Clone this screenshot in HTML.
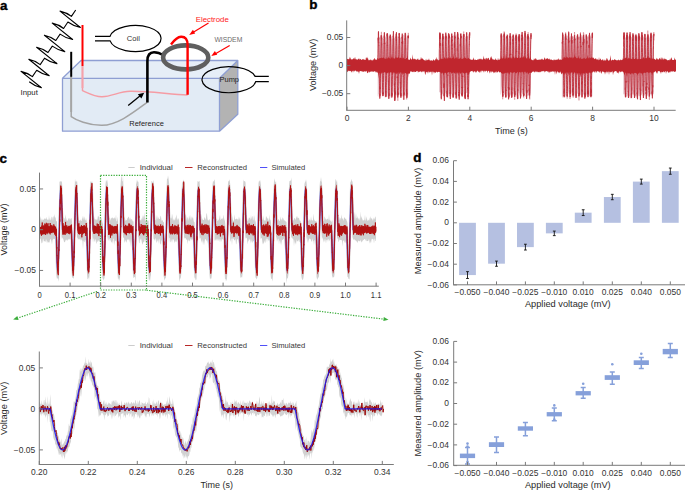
<!DOCTYPE html>
<html><head><meta charset="utf-8"><style>
html,body{margin:0;padding:0;background:#fff;width:685px;height:490px;overflow:hidden}
svg{display:block}
text{font-family:"Liberation Sans", sans-serif}
</style></head><body>
<svg width="685" height="490" viewBox="0 0 685 490">
<rect width="685" height="490" fill="#fff"/>
<text x="-0.1" y="9.9" font-size="12" fill="#000" text-anchor="start" textLength="7.47" lengthAdjust="spacingAndGlyphs" font-weight="bold" stroke="#000" stroke-width="0.35">a</text>
<polygon points="62.5,78.3 81,60.5 237.8,60.5 219.5,78.3" fill="#e6eef7" stroke="none"/>
<rect x="62.5" y="78.3" width="157" height="52.9" fill="#e2ebf5"/>
<polygon points="219.5,78.3 237.8,60.5 237.8,114.2 219.5,131.2" fill="#b3b3b3"/>
<path d="M62.5,78.3 L81,60.5 L237.8,60.5 L237.8,114.2 L219.5,131.2 L62.5,131.2 Z M62.5,78.3 L219.5,78.3 L237.8,60.5 M219.5,78.3 L219.5,131.2" fill="none" stroke="#8f9fd3" stroke-width="1.3" stroke-linejoin="round"/>
<path d="M71.2,76.8 L71.2,116.6 C76,120 88,125.5 102,125.3 C118,125 134,112 147.4,102.2" fill="none" stroke="#a3a3a3" stroke-width="1.45"/>
<path d="M82.5,66 L82.5,90.6 C88,93 95,96.8 102,96.7 C112,96.5 119,91.5 130,91.3 C150,91 170,94.5 187.6,95" fill="none" stroke="#f59ca4" stroke-width="1.45"/>
<line x1="71.2" y1="76.8" x2="71.2" y2="112" stroke="#a5a5a5" stroke-width="1.9"/>
<line x1="82.5" y1="66" x2="82.5" y2="88" stroke="#f6a2aa" stroke-width="1.9"/>
<line x1="71.2" y1="51.8" x2="71.2" y2="76.8" stroke="#000" stroke-width="2"/>
<line x1="82.5" y1="25" x2="82.5" y2="66" stroke="#ff0000" stroke-width="2"/>
<path d="M147.4,102.5 L147.4,61 C147.4,55 149.5,52.2 154,52.2 C157.5,52.2 160.5,53.4 164,55.4" fill="none" stroke="#000" stroke-width="2.6"/>
<ellipse cx="185.7" cy="57.4" rx="22.6" ry="12" fill="none" stroke="#5f5f5f" stroke-width="4.6"/>
<path d="M171,44.5 C174,40.5 177,37 181,36.8 C185.5,36.6 187.6,39.5 187.6,45 L187.6,94.8" fill="none" stroke="#ff0000" stroke-width="2.4"/>
<line x1="128.2" y1="105.4" x2="140.5" y2="95.6" stroke="#000" stroke-width="1.3"/>
<polygon points="144.2,92.7 137.8,94.3 141.4,98.6" fill="#000"/>
<line x1="208.5" y1="22.9" x2="192.5" y2="32.8" stroke="#ff0000" stroke-width="1.2"/>
<polygon points="189.2,34.9 192.9,29.8 195.2,33.5" fill="#ff0000"/>
<line x1="229.7" y1="45.5" x2="214.6" y2="54.2" stroke="#ff0000" stroke-width="1.2"/>
<polygon points="211.3,56.1 214.9,51.0 217.2,54.8" fill="#ff0000"/>
<path d="M95,36.4 L110,36.4 A25.7,13.05 0 1 1 110.1,40.9 L95,40.9" fill="none" stroke="#000" stroke-width="1.2"/>
<path d="M268.8,76.4 L255.1,76.4 A27,12.95 0 1 0 255.7,81.6 L268.8,81.6" fill="none" stroke="#000" stroke-width="1.2"/>
<path d="M75.7,10 L71.4,16.4 Q66.15,12.4 60,11.1 L80.4,27.5 Q73.7,26.25 67.9,22.05 L67.9,22.05 L63.6,28.45 Q58.35,24.45 52.2,23.15 L72.6,39.55 Q65.9,38.3 60.1,34.1 L60.1,34.1 L55.8,40.5 Q50.55,36.5 44.4,35.2 L64.8,51.6 Q58.1,50.35 52.3,46.15 L52.3,46.15 L48,52.55 Q42.75,48.55 36.6,47.25 L57,63.65 Q50.3,62.4 44.5,58.2 L44.5,58.2 L40.2,64.6 Q34.95,60.6 28.8,59.3 L49.2,75.7 Q42.5,74.45 36.7,70.25 L36.7,70.25 L32.4,76.65 Q27.15,72.65 21,71.35 L41.4,87.75 Q34.78,86.17 29.2,81.7" fill="none" stroke="#000" stroke-width="1.1" stroke-linejoin="round"/>
<text x="20.6" y="95" font-size="7.6" fill="#222" text-anchor="start" textLength="17.2" lengthAdjust="spacingAndGlyphs">Input</text>
<text x="126.8" y="41.1" font-size="7.6" fill="#333" text-anchor="start" textLength="13.1" lengthAdjust="spacingAndGlyphs">Coil</text>
<text x="219.5" y="82.1" font-size="7.6" fill="#222" text-anchor="start" textLength="19.5" lengthAdjust="spacingAndGlyphs">Pump</text>
<text x="129.3" y="125.8" font-size="7.6" fill="#222" text-anchor="start" textLength="34.5" lengthAdjust="spacingAndGlyphs">Reference</text>
<text x="195.7" y="21.9" font-size="7.6" fill="#ff2020" text-anchor="start" textLength="33.1" lengthAdjust="spacingAndGlyphs">Electrode</text>
<text x="214.4" y="42.1" font-size="7.6" fill="#6a6a6a" text-anchor="start" textLength="27.9" lengthAdjust="spacingAndGlyphs">WISDEM</text>
<text x="309.3" y="9.2" font-size="12" fill="#000" text-anchor="start" textLength="8.21" lengthAdjust="spacingAndGlyphs" font-weight="bold" stroke="#000" stroke-width="0.35">b</text>
<polygon points="377.7,37.84 378.2,36.99 378.7,35.8 379.2,36.65 379.7,37.88 380.2,35.05 380.7,37.29 381.2,37.22 381.7,38.7 382.2,37.7 382.7,35.28 383.2,39.1 383.7,36.5 384.2,35.17 384.7,37.01 385.2,35.97 385.7,38.26 386.2,34.17 386.7,34.52 387.2,35.98 387.7,39.34 388.2,38.14 388.7,34.73 389.2,33.49 389.7,35.88 390.2,34.27 390.7,37.4 391.2,36.7 391.7,36.37 392.2,35.66 392.7,38.95 393.2,34.79 393.7,34.15 394.2,38.31 394.7,38.66 395.2,35.78 395.7,37.48 396.2,40.37 396.7,35.01 397.2,36.11 397.7,37.18 398.2,32.81 398.7,36.14 399.2,37.65 399.7,36.21 400.2,38.13 400.7,37.66 401.2,35.72 401.7,37.31 402.2,37.14 402.7,33.56 403.2,34.93 403.7,35.02 404.2,35.48 404.7,35.56 405.2,33.92 405.7,36.41 406.2,33.25 406.7,37.98 407.2,36.81 407.7,38.7 408.2,36.96 408.2,96.11 407.7,92.18 407.2,95.22 406.7,93.88 406.2,96.5 405.7,95.31 405.2,96.08 404.7,95.62 404.2,94.44 403.7,93.53 403.2,94.67 402.7,96.43 402.2,96.8 401.7,92.49 401.2,96.87 400.7,93.28 400.2,94.87 399.7,94.95 399.2,94.32 398.7,95.7 398.2,96.58 397.7,94.72 397.2,97.5 396.7,95.82 396.2,94.8 395.7,94.25 395.2,98.05 394.7,94.59 394.2,94.61 393.7,91.1 393.2,93.59 392.7,98.36 392.2,92.71 391.7,95.74 391.2,93.86 390.7,98.2 390.2,95.39 389.7,96.6 389.2,94.32 388.7,93.25 388.2,97.74 387.7,96.58 387.2,92.87 386.7,94.21 386.2,95.84 385.7,97.45 385.2,92.56 384.7,97.98 384.2,92.49 383.7,93.12 383.2,93.72 382.7,94.86 382.2,95.01 381.7,91.9 381.2,94.93 380.7,92.82 380.2,93.58 379.7,94.22 379.2,94.83 378.7,93.71 378.2,97.27 377.7,95.7" fill="#e6c6ce"/>
<polygon points="439.1,36.12 439.6,37.08 440.1,34.42 440.6,35.21 441.1,41.12 441.6,36.31 442.1,38.83 442.6,34.58 443.1,32.18 443.6,37.25 444.1,36.25 444.6,36.8 445.1,35.78 445.6,35.29 446.1,34.21 446.6,38.04 447.1,33.73 447.6,37.95 448.1,35.91 448.6,34.42 449.1,35.17 449.6,37.96 450.1,37.56 450.6,37.16 451.1,36.46 451.6,34.44 452.1,38.55 452.6,35.59 453.1,35.35 453.6,35.43 454.1,35.59 454.6,33.82 455.1,35.55 455.6,34.93 456.1,35.43 456.6,33.35 457.1,39.58 457.6,34.21 458.1,36.82 458.6,36.85 459.1,38.01 459.6,39.53 460.1,37.02 460.6,37.53 461.1,35.54 461.6,38.86 462.1,33.96 462.6,35.92 463.1,36.79 463.6,37.57 464.1,37.7 464.6,38.28 465.1,37.29 465.6,36.37 466.1,36.68 466.6,38.76 467.1,36.82 467.6,37.88 468.1,36.11 468.6,33.23 469.1,35.32 469.6,36.9 469.6,94.1 469.1,93.61 468.6,95.38 468.1,98.37 467.6,96.85 467.1,93.46 466.6,93.05 466.1,92.78 465.6,98 465.1,93.61 464.6,93.64 464.1,94.98 463.6,94.56 463.1,91.61 462.6,94.6 462.1,93.47 461.6,96.45 461.1,93.83 460.6,93.45 460.1,94.62 459.6,92.45 459.1,96.53 458.6,96.48 458.1,98.67 457.6,97.32 457.1,91.4 456.6,95.99 456.1,95.53 455.6,95.08 455.1,96.3 454.6,95.08 454.1,93.85 453.6,95.38 453.1,95.47 452.6,91.61 452.1,98.08 451.6,93.66 451.1,94.43 450.6,94.36 450.1,92.97 449.6,95.25 449.1,96.43 448.6,93.15 448.1,99.16 447.6,95.62 447.1,92.45 446.6,92.48 446.1,92.91 445.6,93.09 445.1,96.3 444.6,93.46 444.1,94.25 443.6,93.67 443.1,97.19 442.6,94.98 442.1,93.78 441.6,94.93 441.1,93.53 440.6,96.05 440.1,91.98 439.6,92.44 439.1,92.08" fill="#e6c6ce"/>
<polygon points="500.5,34.58 501,37.91 501.5,33.93 502,33.99 502.5,36.26 503,35.29 503.5,35.11 504,33.76 504.5,38.15 505,34.38 505.5,37.01 506,37.67 506.5,36.2 507,36.74 507.5,38.04 508,39.07 508.5,37.96 509,33.93 509.5,33.07 510,35.28 510.5,34.38 511,37.25 511.5,36.51 512,35.9 512.5,38.2 513,38.05 513.5,36.21 514,36.92 514.5,38.17 515,35.72 515.5,36.82 516,34.65 516.5,36.38 517,36.88 517.5,36.16 518,36.67 518.5,37.5 519,37.05 519.5,35.11 520,35.29 520.5,34.21 521,39.23 521.5,37.04 522,37.07 522.5,36.09 523,37.14 523.5,37.24 524,35.06 524.5,36.08 525,38.34 525.5,34.13 526,34.7 526.5,37.34 527,34.97 527.5,37.62 528,34.48 528.5,36.74 529,37.73 529.5,37.01 530,37.67 530.5,36.05 531,36.08 531,94.05 530.5,93.03 530,97.26 529.5,95.94 529,95.18 528.5,95.82 528,95.86 527.5,96.46 527,94.53 526.5,93.82 526,89 525.5,93.35 525,93.82 524.5,96.3 524,99.59 523.5,96.77 523,96.34 522.5,92.37 522,94.27 521.5,92.39 521,92.85 520.5,94.42 520,95.48 519.5,95.51 519,92.57 518.5,92.44 518,94.54 517.5,95.75 517,95.49 516.5,98.79 516,94.15 515.5,95.72 515,96.66 514.5,97.29 514,94.33 513.5,94.35 513,97.62 512.5,93.51 512,93.69 511.5,95.23 511,96.22 510.5,95.6 510,94.54 509.5,94.95 509,94.4 508.5,96.44 508,94.8 507.5,96.83 507,93.27 506.5,93.84 506,93.9 505.5,94.6 505,94.52 504.5,94.17 504,95.29 503.5,96.73 503,95.24 502.5,91.63 502,94.98 501.5,88.65 501,93.89 500.5,94.88" fill="#e6c6ce"/>
<polygon points="561.9,38.72 562.4,33.65 562.9,34.19 563.4,35.11 563.9,38.4 564.4,36.08 564.9,36.77 565.4,36.24 565.9,36.69 566.4,35.5 566.9,37.04 567.4,34.94 567.9,35.97 568.4,36.87 568.9,36.56 569.4,37.12 569.9,35 570.4,36.83 570.9,35.88 571.4,37.04 571.9,38.88 572.4,34.85 572.9,38.16 573.4,35.23 573.9,35.67 574.4,39.17 574.9,37.97 575.4,37.24 575.9,37.76 576.4,38.37 576.9,35.13 577.4,36.78 577.9,35.73 578.4,37.1 578.9,35.86 579.4,37.64 579.9,36.42 580.4,35.4 580.9,36.3 581.4,37.15 581.9,38.21 582.4,36.09 582.9,35.79 583.4,36.81 583.9,37.67 584.4,35.46 584.9,32.19 585.4,36.89 585.9,35.81 586.4,35.74 586.9,40.7 587.4,36.17 587.9,37.57 588.4,34.04 588.9,36.8 589.4,37.69 589.9,36.74 590.4,36.1 590.9,37.32 591.4,36.46 591.9,38.66 592.4,36.76 592.4,96.94 591.9,95.02 591.4,96.3 590.9,95.46 590.4,96.42 589.9,96.54 589.4,95.7 588.9,94.89 588.4,95.08 587.9,95.6 587.4,96.72 586.9,94.03 586.4,96.02 585.9,94.85 585.4,94.85 584.9,94.73 584.4,96.4 583.9,93.84 583.4,94.88 582.9,93.89 582.4,93.5 581.9,91.64 581.4,95.47 580.9,94.7 580.4,95.8 579.9,93.06 579.4,92.38 578.9,94.66 578.4,93.55 577.9,93.43 577.4,93.83 576.9,93.61 576.4,96.4 575.9,95.53 575.4,95.57 574.9,96.57 574.4,92.79 573.9,97.98 573.4,97.64 572.9,94.99 572.4,96.29 571.9,95.98 571.4,92 570.9,94.83 570.4,94.94 569.9,91.41 569.4,93.69 568.9,91.28 568.4,93.5 567.9,95.16 567.4,95.33 566.9,95.13 566.4,95.26 565.9,94.63 565.4,96.65 564.9,97.63 564.4,96.54 563.9,96.82 563.4,95.28 562.9,96.02 562.4,98.14 561.9,96.13" fill="#e6c6ce"/>
<polygon points="623.3,36.42 623.8,39.87 624.3,34.12 624.8,36.19 625.3,38.35 625.8,36.71 626.3,37.87 626.8,32.84 627.3,35.54 627.8,39.02 628.3,35.46 628.8,37.05 629.3,33.14 629.8,38.15 630.3,40.16 630.8,36.26 631.3,36.96 631.8,37.08 632.3,39.99 632.8,35.66 633.3,33.55 633.8,39.59 634.3,34.4 634.8,37.33 635.3,32.42 635.8,35.64 636.3,36.69 636.8,34.51 637.3,35.49 637.8,37.37 638.3,35.18 638.8,37.24 639.3,39.39 639.8,32.95 640.3,36.97 640.8,37.4 641.3,35.8 641.8,39.01 642.3,38.66 642.8,37.22 643.3,37.25 643.8,36.25 644.3,34.48 644.8,37.18 645.3,35.55 645.8,35.36 646.3,38.2 646.8,35.99 647.3,37.97 647.8,34.58 648.3,35.61 648.8,36.35 649.3,38.63 649.8,36.18 650.3,37.67 650.8,35.19 651.3,36.58 651.8,37.75 652.3,34.82 652.8,35.16 653.3,37.38 653.8,34.42 653.8,92.95 653.3,94.56 652.8,95.02 652.3,92.72 651.8,96.24 651.3,95.01 650.8,95.51 650.3,93.8 649.8,95.45 649.3,96.69 648.8,96.51 648.3,92.86 647.8,93.74 647.3,96.17 646.8,95.06 646.3,94.28 645.8,92.76 645.3,95.9 644.8,95.85 644.3,95.2 643.8,92.27 643.3,97.81 642.8,92.95 642.3,92.18 641.8,94.14 641.3,95.56 640.8,93.44 640.3,94.52 639.8,95.43 639.3,92.58 638.8,95.48 638.3,96.61 637.8,94.23 637.3,93.57 636.8,96.4 636.3,94.75 635.8,97.68 635.3,96.47 634.8,96.17 634.3,96.2 633.8,96.51 633.3,89.78 632.8,94.31 632.3,94.13 631.8,97.03 631.3,92.8 630.8,95.23 630.3,98.9 629.8,95.32 629.3,96.31 628.8,95.47 628.3,94.75 627.8,97.54 627.3,94.39 626.8,97.35 626.3,97.4 625.8,94.55 625.3,94.08 624.8,93.56 624.3,95.03 623.8,94.3 623.3,94.32" fill="#e6c6ce"/>
<polyline points="377.7,66.39 377.76,59.24 377.82,57.75 377.88,54.54 377.95,53.23 378.01,48.17 378.07,43.01 378.13,40.48 378.19,38.18 378.25,39.52 378.31,39.19 378.38,36.43 378.44,33.03 378.5,31.47 378.56,32.34 378.62,39.54 378.68,37.93 378.74,41.23 378.81,45.67 378.87,45.25 378.93,50.44 378.99,52.52 379.05,56.14 379.11,60.23 379.17,63.39 379.24,67.53 379.3,71.58 379.36,75.25 379.42,81.08 379.48,83.84 379.54,85.64 379.6,89.04 379.66,90.87 379.73,92.36 379.79,98.54 379.85,97.66 379.91,95.9 379.97,95.99 380.03,95.25 380.09,95 380.16,92.88 380.22,87.62 380.28,87.87 380.34,88.66 380.4,82.16 380.46,78.79 380.52,77.01 380.59,71.41 380.65,66.66 380.71,64.51 380.77,57.54 380.83,57.06 380.89,53.3 380.95,48.81 381.02,47.02 381.08,41.61 381.14,36.26 381.2,35.6 381.26,35.23 381.32,36.84 381.38,36.7 381.45,38.66 381.51,36.68 381.57,39.32 381.63,37.95 381.69,40.21 381.75,41.6 381.81,45.66 381.88,48.29 381.94,50.59 382,54.51 382.06,57.4 382.12,61.18 382.18,67.11 382.24,69.85 382.31,70.44 382.37,79.4 382.43,82.57 382.49,85.02 382.55,87.6 382.61,89.1 382.67,89.25 382.73,92.2 382.8,94.13 382.86,93.02 382.92,96.12 382.98,96.07 383.04,92.5 383.1,93.61 383.16,90.61 383.23,88.59 383.29,85.88 383.35,82.45 383.41,82.15 383.47,75.62 383.53,73.58 383.59,69.08 383.66,65.58 383.72,60.29 383.78,58.14 383.84,54.43 383.9,51.29 383.96,49.24 384.02,44.37 384.09,42.85 384.15,39.19 384.21,39.57 384.27,35.51 384.33,37.89 384.39,32.35 384.45,35.53 384.52,35.32 384.58,39.59 384.64,42.71 384.7,43.95 384.76,42.69 384.82,45.46 384.88,49.08 384.95,52.95 385.01,57.02 385.07,61.12 385.13,65.24 385.19,68.5 385.25,74.15 385.31,75.67 385.38,78.19 385.44,81.44 385.5,84.01 385.56,89.03 385.62,92.28 385.68,94.15 385.74,93.96 385.8,94.59 385.87,96.77 385.93,92.83 385.99,92.17 386.05,91.83 386.11,90.89 386.17,90.52 386.23,87.32 386.3,85.29 386.36,82.72 386.42,80.9 386.48,75.51 386.54,71.79 386.6,68.23 386.66,64.63 386.73,58.94 386.79,56.9 386.85,52.25 386.91,48.55 386.97,43.31 387.03,41.24 387.09,40.74 387.16,40.69 387.22,33.31 387.28,35.83 387.34,34.08 387.4,37.19 387.46,33.87 387.52,37.13 387.59,36.66 387.65,37.93 387.71,41.74 387.77,46.55 387.83,48.4 387.89,51.59 387.95,54.47 388.02,59.79 388.08,60.5 388.14,64.49 388.2,70.01 388.26,74.33 388.32,77.72 388.38,81.48 388.44,80.92 388.51,85.93 388.57,90.68 388.63,91.66 388.69,94.77 388.75,97.18 388.81,98.58 388.87,97.2 388.94,94.28 389,95.78 389.06,95.79 389.12,89.32 389.18,89.97 389.24,89.39 389.3,86.33 389.37,81 389.43,76.46 389.49,72.75 389.55,67.99 389.61,68.28 389.67,62.27 389.73,58.51 389.8,55.26 389.86,51.27 389.92,49.19 389.98,43.75 390.04,43.5 390.1,36.16 390.16,36.74 390.23,37.82 390.29,37.54 390.35,34.89 390.41,38.14 390.47,36.98 390.53,38.3 390.59,38.45 390.66,42.2 390.72,45.28 390.78,47.18 390.84,50.96 390.9,53.75 390.96,55.99 391.02,59 391.09,65.89 391.15,66 391.21,71.71 391.27,75.56 391.33,76.37 391.39,81.18 391.45,87.09 391.51,87.67 391.58,92.26 391.64,94 391.7,92.67 391.76,95.9 391.82,94.86 391.88,97.11 391.94,93.31 392.01,95.1 392.07,92.58 392.13,91.17 392.19,89.11 392.25,86.47 392.31,84.2 392.37,79.73 392.44,75.56 392.5,71.57 392.56,67.44 392.62,64.04 392.68,60.09 392.74,58.53 392.8,53.69 392.87,51.39 392.93,45.58 392.99,45.77 393.05,41.05 393.11,38.46 393.17,36.42 393.23,36.88 393.3,34.54 393.36,34.49 393.42,31.21 393.48,35.34 393.54,36.28 393.6,40.64 393.66,40.65 393.73,45.3 393.79,47.04 393.85,51.5 393.91,53.58 393.97,57.64 394.03,60.4 394.09,65.66 394.16,68.24 394.22,74.77 394.28,75.35 394.34,80.39 394.4,85.29 394.46,83.61 394.52,87.54 394.59,94.99 394.65,90.58 394.71,100.7 394.77,89.95 394.83,100.58 394.89,99.49 394.95,98.44 395.01,91.68 395.08,94.19 395.14,88.76 395.2,89.18 395.26,85.54 395.32,81.64 395.38,77.98 395.44,74.02 395.51,69.38 395.57,67.05 395.63,62.91 395.69,58.83 395.75,54.48 395.81,50.54 395.87,47.77 395.94,45.74 396,43.91 396.06,40.78 396.12,37.58 396.18,36.4 396.24,37.94 396.3,33.75 396.37,35.9 396.43,32.29 396.49,40.48 396.55,38.85 396.61,41.29 396.67,43.42 396.73,45.36 396.8,46.33 396.86,49.4 396.92,56.72 396.98,61.46 397.04,62.37 397.1,65.71 397.16,72.17 397.23,78.11 397.29,76.52 397.35,81.77 397.41,85.56 397.47,88.57 397.53,90.67 397.59,94.87 397.66,91.88 397.72,93.17 397.78,97.46 397.84,93.67 397.9,94.94 397.96,93.04 398.02,93.83 398.08,90.24 398.15,90.08 398.21,86.35 398.27,83.84 398.33,78.96 398.39,76.84 398.45,71.68 398.51,69.73 398.58,65.15 398.64,61.09 398.7,54.66 398.76,52.63 398.82,49.53 398.88,45.95 398.94,43.57 399.01,38.72 399.07,36.93 399.13,37.45 399.19,32.97 399.25,34.66 399.31,34.1 399.37,33.77 399.44,37.77 399.5,39.53 399.56,38.34 399.62,43.25 399.68,45.41 399.74,45.83 399.8,49.72 399.87,56.48 399.93,57.4 399.99,62.36 400.05,64.85 400.11,68.74 400.17,73.87 400.23,77.65 400.3,83.18 400.36,82.58 400.42,88.32 400.48,87.71 400.54,89.7 400.6,91.49 400.66,94.11 400.73,95.84 400.79,93.1 400.85,95.42 400.91,97.76 400.97,91.98 401.03,90.98 401.09,90.68 401.15,88.5 401.22,85.82 401.28,79.78 401.34,77.13 401.4,74.7 401.46,70.94 401.52,69.45 401.58,63.21 401.65,59.4 401.71,57.47 401.77,51.48 401.83,46.86 401.89,46.06 401.95,41.86 402.01,43.29 402.08,39.82 402.14,37.27 402.2,38.46 402.26,33.63 402.32,35.43 402.38,36.11 402.44,37.73 402.51,37.55 402.57,43.88 402.63,41.08 402.69,43.99 402.75,48.1 402.81,50.51 402.87,53.89 402.94,60.41 403,64.42 403.06,68.91 403.12,69.73 403.18,74.4 403.24,77.78 403.3,83.48 403.37,85.92 403.43,87.88 403.49,89.34 403.55,92.4 403.61,93.65 403.67,94.21 403.73,93.58 403.8,99.75 403.86,97.71 403.92,92.73 403.98,94.83 404.04,90.7 404.1,90.37 404.16,87.33 404.22,83.01 404.29,80.45 404.35,76.21 404.41,74.07 404.47,70.19 404.53,65.05 404.59,62.38 404.65,58.64 404.72,54.79 404.78,50.04 404.84,44.52 404.9,42.84 404.96,38.82 405.02,38.85 405.08,39 405.15,36.17 405.21,32.85 405.27,32.9 405.33,33.94 405.39,35.21 405.45,37.2 405.51,37.42 405.58,40.08 405.64,44.33 405.7,46.94 405.76,49.18 405.82,53.76 405.88,58.25 405.94,61.58 406.01,66.02 406.07,67.82 406.13,75.5 406.19,76.74 406.25,79.04 406.31,83.68 406.37,91.37 406.44,90.41 406.5,90.63 406.56,92.63 406.62,89.37 406.68,95.15 406.74,96.64 406.8,95.51 406.87,92.87 406.93,97.74 406.99,92.71 407.05,91.08 407.11,84.43 407.17,84.52 407.23,81.61 407.29,80.76 407.36,74.46 407.42,71.2 407.48,67.73 407.54,64.97 407.6,59.94 407.66,55.98 407.72,51.31 407.79,50.35 407.85,47.04 407.91,44.42 407.97,39.78 408.03,38.07 408.09,37.72 408.15,35.58 408.22,38.12 408.28,35.64 408.34,38.19" fill="none" stroke="#bf2f3b" stroke-width="0.85" stroke-linejoin="round"/>
<polyline points="378.07,43.07 378.13,39.23 378.19,41.34 378.25,37.36 378.31,38.71 378.38,31.69 378.44,34.69 378.5,32.52 378.56,37.87 378.62,37.95 378.68,37.53 378.74,42.97 378.81,41.91 378.87,46.3 378.93,49.23 378.99,52.11 379.05,56.04 379.11,58.44 379.17,64.19 379.24,66.96 379.3,73.74 379.36,75.67 379.42,80.84 379.48,84.07 379.54,86.67 379.6,89.24 379.66,85.44 379.73,96.4 379.79,94 379.85,96.41 379.91,94.12 379.97,94 380.03,93.9 380.09,95.75 380.16,94.11 380.22,88.73 380.28,87.64 380.34,87.11 380.4,83.21 380.46,80.24 380.52,74.48 380.59,71.95 380.65,66.59 380.71,65.97 380.77,62.45 380.83,56.85 380.89,53.22 380.95,47.66 381.02,46.41 381.08,45.14 381.14,39.14 381.2,37.77 381.26,35.16 381.32,34.53 381.38,31.83 381.45,38.32 381.51,36.76 381.57,35.45 381.63,38.74 381.69,41.2 381.75,45.48 381.81,43.68 381.88,46.56 381.94,50.17 382,53.47 382.06,58.44 382.12,61.06 382.18,64.71 382.24,70.47 382.31,74.82 382.37,78.28 382.43,79.76 382.49,82.47 382.55,87.05 382.61,88.51 382.67,93.96 382.73,93.34 382.8,94.23 382.86,94.6 382.92,96.01 382.98,95.5 383.04,94.59 383.1,92.47 383.16,95.34 383.23,87.9 383.29,88.92 383.35,83.95 383.41,82.87 383.47,78.96 383.53,72.84 383.59,70.24 383.66,65.22 383.72,61.57 383.78,58.29 383.84,55.23 383.9,48.63 383.96,45.07 384.02,43.11 384.09,43.92 384.15,40.08 384.21,40.23 384.27,37.59 384.33,36.2 384.39,32.96 384.45,37.24 384.52,35.06 384.58,38.58 384.64,37.51 384.7,41.84 384.76,42.15 384.82,50.37 384.88,50.2 384.95,50.45 385.01,57.33 385.07,60.43 385.13,64.91 385.19,68.34 385.25,70.84 385.31,76.32 385.38,79.68 385.44,86.8 385.5,85.59 385.56,89.52 385.62,93.01 385.68,90.97 385.74,97.25 385.8,94.96 385.87,96.17 385.93,97.03 385.99,92.98 386.05,90.77 386.11,95.56 386.17,91.61 386.23,90.67 386.3,88.34 386.36,81.38 386.42,80.03 386.48,75.49 386.54,73.1 386.6,67.73 386.66,64.51 386.73,59.21 386.79,57.94 386.85,53 386.91,48.93 386.97,45.21 387.03,45.84 387.09,41.1 387.16,37.57 387.22,38.49 387.28,37.85 387.34,33.16 387.4,35.62 387.46,35.99 387.52,38.57 387.59,35.45 387.65,38.86 387.71,45.73 387.77,45.32 387.83,46.25 387.89,49.17 387.95,56.25 388.02,58.34 388.08,62.1 388.14,65.21 388.2,70.07 388.26,74.22 388.32,77.5 388.38,83.45 388.44,83.71 388.51,85.84 388.57,90.06 388.63,92.06 388.69,94.71 388.75,96.64 388.81,98.92 388.87,96.96 388.94,95.31 389,94.24 389.06,93.03 389.12,94.44 389.18,92.44 389.24,89.62 389.3,84.71 389.37,78.82 389.43,78.6 389.49,74.32 389.55,69.34 389.61,66.12 389.67,61.69 389.73,57.47 389.8,55.83 389.86,50.69 389.92,48.06 389.98,45.88 390.04,39.51 390.1,37.34 390.16,37.61 390.23,40.07 390.29,36.91 390.35,34.48 390.41,35.7 390.47,36.84 390.53,38.81 390.59,40.81 390.66,39.6 390.72,42.68 390.78,45.04 390.84,47.88 390.9,50.72 390.96,55.2 391.02,59.86 391.09,65 391.15,67.45 391.21,71.72 391.27,75.74 391.33,79.38 391.39,82.57 391.45,83.94 391.51,88.03 391.58,90.88 391.64,95.56 391.7,98.09 391.76,97.59 391.82,97.78 391.88,95.84 391.94,94.6 392.01,95.06 392.07,92.56 392.13,92.2 392.19,88.42 392.25,85.69 392.31,83.66 392.37,79.37 392.44,73.72 392.5,74.27 392.56,67.05 392.62,63.05 392.68,60.53 392.74,56.26 392.8,54.19 392.87,48.53 392.93,45.34 392.99,43.6 393.05,39.38 393.11,39.79 393.17,38.21 393.23,35.99 393.3,34.54 393.36,35.55 393.42,37.1 393.48,34.45 393.54,35.37 393.6,39.43 393.66,37.7 393.73,45.98 393.79,48.68 393.85,50.09 393.91,56.57 393.97,59.03 394.03,63.13 394.09,66.78 394.16,69.55 394.22,73.32 394.28,77.12 394.34,79.88 394.4,83.91 394.46,85.78 394.52,89.44 394.59,89.53 394.65,93.88 394.71,98.54 394.77,92.04 394.83,97.88 394.89,93.88 394.95,93.89 395.01,94.26 395.08,94.74 395.14,90.66 395.2,86.96 395.26,85.02 395.32,81.42 395.38,78.35 395.44,73.74 395.51,71.56 395.57,66.65 395.63,64.21 395.69,59.33 395.75,53.94 395.81,51.46 395.87,49.82 395.94,46.3 396,42.5 396.06,37.93 396.12,38.38 396.18,41.1 396.24,34.55 396.3,38.01 396.37,35.93 396.43,34.01 396.49,37.55 396.55,37.88 396.61,41.29 396.67,42.38 396.73,45.86 396.8,48.68 396.86,52.48 396.92,58.16 396.98,60.57 397.04,63.41 397.1,65.6 397.16,70.51 397.23,73.59 397.29,80.2 397.35,80.71 397.41,87.16 397.47,87.83 397.53,90.51 397.59,91.9 397.66,93.94 397.72,90.19 397.78,96.05 397.84,100.8 397.9,92.62 397.96,95.29 398.02,92.92 398.08,88.07 398.15,90.16 398.21,87.16 398.27,83.93 398.33,79.74 398.39,75.88 398.45,70.63 398.51,68.17 398.58,64.85 398.64,59.54 398.7,57.58 398.76,55.54 398.82,46.85 398.88,46.9 398.94,45.52 399.01,43.97 399.07,42.05 399.13,38.41 399.19,36.82 399.25,37.19 399.31,35.56 399.37,33.98 399.44,37.52 399.5,39.03 399.56,40.03 399.62,36.72 399.68,42.08 399.74,46.38 399.8,53.26 399.87,54.44 399.93,58.67 399.99,60.75 400.05,65.6 400.11,69.31 400.17,73.36 400.23,77.94 400.3,82.54 400.36,82.21 400.42,87.89 400.48,93.77 400.54,90.21 400.6,93.49 400.66,96.21 400.73,94.24 400.79,94.35 400.85,93.42 400.91,96.06 400.97,94.71 401.03,96.6 401.09,90.04 401.15,90.23 401.22,85.31 401.28,82.01 401.34,78.37 401.4,74.19 401.46,69.92 401.52,69.73 401.58,63.34 401.65,56.58 401.71,54.75 401.77,51.02 401.83,48.53 401.89,48.66 401.95,43.91 402.01,39.08 402.08,37.58 402.14,36.84 402.2,36.7 402.26,35.08 402.32,39.78 402.38,36.22 402.44,36.45 402.51,36.63 402.57,40.61 402.63,40.42 402.69,47.92 402.75,50.97 402.81,54.7 402.87,54.22 402.94,59.64 403,60.48 403.06,66.89 403.12,70.99 403.18,76.88 403.24,76.1 403.3,81.51 403.37,84.8 403.43,90.78 403.49,89.7 403.55,91.39 403.61,94.54 403.67,96.16 403.73,95.78 403.8,95.42 403.86,96.02 403.92,91.92 403.98,92.06 404.04,92.94 404.1,90.36 404.16,89.23 404.22,84.12 404.29,81.04 404.35,76 404.41,73.86 404.47,68.82 404.53,67.54 404.59,61.62 404.65,56.08 404.72,52.38 404.78,50.61 404.84,45.39 404.9,41.86 404.96,40.71 405.02,38.74 405.08,40.03 405.15,38.39 405.21,33.38 405.27,34.71 405.33,34.2 405.39,40.25 405.45,35.99 405.51,34.88 405.58,37.65 405.64,44.56 405.7,49.59 405.76,48.41 405.82,53.56 405.88,56.16 405.94,61.03 406.01,62.36 406.07,69.09 406.13,71.41 406.19,78.81 406.25,80.2 406.31,82.81 406.37,85.78 406.44,88.46 406.5,93.75 406.56,89 406.62,97.56 406.68,99.44 406.74,96.72 406.8,98.2 406.87,94.61 406.93,91.6 406.99,93.72 407.05,88.95 407.11,88.94 407.17,87.78 407.23,83.89 407.29,80.91 407.36,76.6 407.42,71.21 407.48,67.78 407.54,62.63 407.6,62.47 407.66,56.67 407.72,54.44 407.79,45.61 407.85,44.59 407.91,42.47 407.97,42.25 408.03,36.55 408.09,36.15 408.15,37.45 408.22,37.09 408.28,32.85 408.34,35.02" fill="none" stroke="#bf2f3b" stroke-width="0.6" stroke-linejoin="round" stroke-opacity="0.55"/>
<polyline points="439.1,64.07 439.16,60.69 439.22,59.26 439.28,53.93 439.35,49.45 439.41,48.52 439.47,43.16 439.53,41.62 439.59,39.87 439.65,37.67 439.71,34.86 439.78,35.29 439.84,32.51 439.9,37.99 439.96,38.95 440.02,33.14 440.08,40.9 440.14,45.75 440.21,42.99 440.27,46.85 440.33,50.13 440.39,53.63 440.45,56.99 440.51,62.07 440.57,62.04 440.63,67.74 440.7,69.68 440.76,76.97 440.82,78.09 440.88,84.1 440.94,85.34 441,88.93 441.06,92.2 441.13,92.19 441.19,93.58 441.25,96.63 441.31,99.22 441.37,98.27 441.43,95.77 441.49,95.56 441.56,90.27 441.62,93.56 441.68,88.4 441.74,86.33 441.8,83.22 441.86,79.57 441.92,74.64 441.99,70.28 442.05,66.94 442.11,63.93 442.17,56.38 442.23,53.8 442.29,52.88 442.35,50.15 442.42,43.45 442.48,46.11 442.54,41.37 442.6,38.1 442.66,39.83 442.72,33.75 442.78,35.36 442.85,36.92 442.91,38.93 442.97,36.24 443.03,38.53 443.09,37.91 443.15,41.06 443.21,43.37 443.28,46.23 443.34,50.55 443.4,53.55 443.46,60.15 443.52,61.92 443.58,66.98 443.64,71.88 443.7,75.1 443.77,77.01 443.83,81.22 443.89,87.83 443.95,83.54 444.01,87.63 444.07,92.77 444.13,96.12 444.2,93.61 444.26,95.61 444.32,95.79 444.38,100.82 444.44,95.13 444.5,95.65 444.56,91.16 444.63,89.75 444.69,87.53 444.75,82.12 444.81,80.51 444.87,75.68 444.93,73.17 444.99,70.47 445.06,66.17 445.12,62.25 445.18,57.17 445.24,52.3 445.3,49.79 445.36,48.71 445.42,46.76 445.49,41.14 445.55,41.11 445.61,40.54 445.67,35.45 445.73,35.47 445.79,32.7 445.85,35.52 445.92,38.26 445.98,37.95 446.04,36.13 446.1,42.17 446.16,42.38 446.22,46.36 446.28,50.41 446.35,51.25 446.41,56.41 446.47,61.58 446.53,64.58 446.59,69.05 446.65,71.6 446.71,75.07 446.77,78.58 446.84,79.73 446.9,87.88 446.96,88.72 447.02,94.19 447.08,90.88 447.14,94.05 447.2,96.52 447.27,93.62 447.33,96.81 447.39,95.95 447.45,94.7 447.51,96.63 447.57,91.27 447.63,87.73 447.7,86.2 447.76,83.43 447.82,74.66 447.88,75.6 447.94,74.31 448,68.9 448.06,64.49 448.13,60.61 448.19,56.62 448.25,53.6 448.31,48.34 448.37,45.45 448.43,45.4 448.49,42.14 448.56,39.65 448.62,33.31 448.68,34.01 448.74,37.41 448.8,35.88 448.86,36.64 448.92,34.26 448.99,38.3 449.05,35.92 449.11,43.6 449.17,44.52 449.23,47 449.29,51.34 449.35,55.11 449.42,57.78 449.48,60.9 449.54,64.73 449.6,69.74 449.66,74.1 449.72,74.53 449.78,83.44 449.84,84.34 449.91,87.57 449.97,90.26 450.03,92.69 450.09,93.47 450.15,92.63 450.21,95.3 450.27,97.34 450.34,98.95 450.4,91.7 450.46,93.83 450.52,93.58 450.58,89.43 450.64,86.2 450.7,84.71 450.77,80.5 450.83,75.67 450.89,75.77 450.95,68.78 451.01,67.12 451.07,62.36 451.13,56.34 451.2,56.5 451.26,50.68 451.32,46.85 451.38,44.87 451.44,40.75 451.5,39.9 451.56,42.25 451.63,36.01 451.69,33.9 451.75,36.23 451.81,35.88 451.87,37.74 451.93,36.07 451.99,40.94 452.06,39.63 452.12,43.74 452.18,49.13 452.24,48.41 452.3,53.77 452.36,57.97 452.42,60.86 452.49,62.1 452.55,66.38 452.61,73.44 452.67,76.7 452.73,80.25 452.79,83.58 452.85,85.67 452.91,87.47 452.98,89.06 453.04,96.53 453.1,97.61 453.16,96.66 453.22,93.51 453.28,97.2 453.34,94.5 453.41,93.34 453.47,91.82 453.53,90.17 453.59,89.33 453.65,84.79 453.71,80.85 453.77,80.87 453.84,75.88 453.9,72.79 453.96,68.85 454.02,65.47 454.08,60.09 454.14,56.52 454.2,51.73 454.27,48.8 454.33,45.62 454.39,42.65 454.45,47.63 454.51,40.41 454.57,37.95 454.63,36.01 454.7,37.37 454.76,31.99 454.82,32.53 454.88,37.9 454.94,36.82 455,36.97 455.06,41.65 455.13,43.66 455.19,47.49 455.25,52.81 455.31,54.68 455.37,57.81 455.43,61.69 455.49,64.79 455.56,67.39 455.62,74.32 455.68,78.11 455.74,81.97 455.8,83.49 455.86,86.97 455.92,89.26 455.98,94.63 456.05,93.09 456.11,92.15 456.17,97.17 456.23,98.39 456.29,96.42 456.35,96.41 456.41,96.5 456.48,93.15 456.54,90.17 456.6,85.03 456.66,85.23 456.72,82.52 456.78,79.81 456.84,71.75 456.91,69.85 456.97,67.25 457.03,61.97 457.09,58.13 457.15,56.63 457.21,50.16 457.27,48.1 457.34,45.49 457.4,40.56 457.46,38.94 457.52,35.95 457.58,32.14 457.64,36.46 457.7,39.47 457.77,33.7 457.83,37.9 457.89,37.95 457.95,38.94 458.01,37.74 458.07,42.02 458.13,44.17 458.2,48.14 458.26,52.59 458.32,56.11 458.38,58.84 458.44,64.34 458.5,66 458.56,71.89 458.63,75.6 458.69,76.38 458.75,83.54 458.81,84.44 458.87,88.57 458.93,92.91 458.99,92.01 459.05,95.7 459.12,94.13 459.18,96.23 459.24,99.59 459.3,94 459.36,95.77 459.42,90.11 459.48,91.15 459.55,89.3 459.61,87.79 459.67,83.15 459.73,81.14 459.79,76.18 459.85,71.7 459.91,69.08 459.98,64.22 460.04,60.32 460.1,58.76 460.16,54.13 460.22,51.1 460.28,45.68 460.34,44.16 460.41,46.2 460.47,41.81 460.53,34.18 460.59,36.54 460.65,38.12 460.71,36.51 460.77,37.96 460.84,33.49 460.9,37.83 460.96,35.91 461.02,42.28 461.08,45.3 461.14,48.78 461.2,51.77 461.27,53.43 461.33,58.53 461.39,60.62 461.45,66.64 461.51,69.11 461.57,73.79 461.63,77.62 461.7,79.67 461.76,85 461.82,88.2 461.88,86.96 461.94,92.42 462,95.32 462.06,93.22 462.12,96.14 462.19,94.18 462.25,94.82 462.31,94.64 462.37,92.97 462.43,91.71 462.49,89.23 462.55,87.04 462.62,87.78 462.68,83.1 462.74,75.83 462.8,76.92 462.86,71.92 462.92,66.68 462.98,62.63 463.05,57.29 463.11,56.78 463.17,51.96 463.23,46.38 463.29,46.1 463.35,42.08 463.41,38.46 463.48,37.57 463.54,36.6 463.6,38.63 463.66,34.56 463.72,34.16 463.78,36.66 463.84,36.8 463.91,34.27 463.97,42.8 464.03,44.71 464.09,46.03 464.15,49.05 464.21,52.44 464.27,55.74 464.34,58.71 464.4,62.8 464.46,68.46 464.52,70.65 464.58,74.28 464.64,78.18 464.7,82.16 464.77,83.71 464.83,88.55 464.89,90.15 464.95,89.92 465.01,92.21 465.07,97.8 465.13,95.2 465.19,98.13 465.26,99.09 465.32,92.51 465.38,95.66 465.44,91.92 465.5,90.53 465.56,85.22 465.62,84.97 465.69,80.07 465.75,75.44 465.81,73.97 465.87,68.3 465.93,67.18 465.99,62.1 466.05,55.38 466.12,50.98 466.18,49.42 466.24,45.81 466.3,43.67 466.36,42.68 466.42,39.09 466.48,40.65 466.55,35.47 466.61,32.52 466.67,33.62 466.73,38.47 466.79,36.07 466.85,37.51 466.91,38.25 466.98,41.27 467.04,44.79 467.1,47.16 467.16,48.03 467.22,54 467.28,54.45 467.34,62.41 467.41,64.63 467.47,67.44 467.53,75.4 467.59,75.42 467.65,80.24 467.71,85.18 467.77,89.14 467.84,87.8 467.9,91.71 467.96,96.97 468.02,94.64 468.08,99.22 468.14,96.88 468.2,96.44 468.26,95.65 468.33,94.63 468.39,91.27 468.45,88.29 468.51,86.66 468.57,86.53 468.63,82.13 468.69,78.48 468.76,73.86 468.82,70.01 468.88,68.04 468.94,65.99 469,57.31 469.06,54.33 469.12,52.83 469.19,47.73 469.25,44.76 469.31,45 469.37,40.47 469.43,40.34 469.49,36.78 469.55,37.34 469.62,35.29 469.68,32.32 469.74,35.51" fill="none" stroke="#bf2f3b" stroke-width="0.85" stroke-linejoin="round"/>
<polyline points="439.47,45.31 439.53,43.29 439.59,40.19 439.65,38.01 439.71,37.51 439.78,38.25 439.84,34.22 439.9,37.07 439.96,33.98 440.02,38.76 440.08,36.08 440.14,41.83 440.21,46.24 440.27,45.74 440.33,49.36 440.39,54.81 440.45,56.69 440.51,62.17 440.57,65.33 440.63,67.67 440.7,73.5 440.76,76.22 440.82,80.38 440.88,81.53 440.94,87.12 441,90.57 441.06,92.39 441.13,94.2 441.19,98.12 441.25,95.39 441.31,94.34 441.37,94.98 441.43,95.03 441.49,94.2 441.56,91.09 441.62,87.57 441.68,87.76 441.74,82.82 441.8,83.22 441.86,81.05 441.92,76.88 441.99,71.79 442.05,70.5 442.11,64.33 442.17,59.71 442.23,57.09 442.29,53.63 442.35,48.91 442.42,44.2 442.48,43.33 442.54,38.2 442.6,37.6 442.66,38.1 442.72,34.1 442.78,37.13 442.85,38.49 442.91,36.65 442.97,33.96 443.03,39.18 443.09,39.3 443.15,42.17 443.21,42.9 443.28,48.87 443.34,48.77 443.4,55.67 443.46,57.76 443.52,62.5 443.58,66.02 443.64,70.19 443.7,74.08 443.77,77.74 443.83,81.74 443.89,85.54 443.95,86.34 444.01,90.08 444.07,92.34 444.13,92.17 444.2,94.61 444.26,94.9 444.32,95.72 444.38,97.49 444.44,92.82 444.5,93.75 444.56,90.14 444.63,91.49 444.69,86.52 444.75,83.66 444.81,80.36 444.87,78.82 444.93,72.99 444.99,71.15 445.06,65.58 445.12,62.11 445.18,59.58 445.24,56.7 445.3,48.95 445.36,46.5 445.42,44.11 445.49,38.27 445.55,39.11 445.61,36.52 445.67,36.23 445.73,37.2 445.79,34 445.85,36.12 445.92,35.44 445.98,40.47 446.04,37.08 446.1,40.86 446.16,43.1 446.22,46.55 446.28,49.45 446.35,54.4 446.41,57.35 446.47,60.05 446.53,64.57 446.59,68.95 446.65,71.35 446.71,77.39 446.77,80.09 446.84,83.16 446.9,87.31 446.96,90.72 447.02,91.79 447.08,96.78 447.14,96.61 447.2,94.89 447.27,97.61 447.33,95.6 447.39,94.85 447.45,95.18 447.51,94.85 447.57,93.53 447.63,90.17 447.7,87.34 447.76,84.17 447.82,80.54 447.88,77.5 447.94,71.24 448,68.91 448.06,66.02 448.13,57.36 448.19,55.3 448.25,52.3 448.31,47.67 448.37,45.8 448.43,39.91 448.49,43.11 448.56,39.24 448.62,36.84 448.68,37.14 448.74,34.61 448.8,37.94 448.86,36.93 448.92,38.27 448.99,36.46 449.05,38.63 449.11,41.46 449.17,41.77 449.23,47.45 449.29,51.23 449.35,53.6 449.42,59.25 449.48,62.86 449.54,66.5 449.6,71.02 449.66,74.21 449.72,78.41 449.78,83.99 449.84,83.34 449.91,90.92 449.97,89.92 450.03,91.42 450.09,96.13 450.15,96.19 450.21,95.16 450.27,95.51 450.34,94.82 450.4,92.28 450.46,92.61 450.52,94.3 450.58,90.13 450.64,87.26 450.7,85.74 450.77,82.12 450.83,77.06 450.89,74.4 450.95,70.44 451.01,65.4 451.07,62.63 451.13,57.04 451.2,56.25 451.26,49.75 451.32,45.53 451.38,46.03 451.44,43.75 451.5,40.8 451.56,39.22 451.63,40.8 451.69,35.55 451.75,32.93 451.81,34.31 451.87,35.12 451.93,37.37 451.99,39.53 452.06,41 452.12,46.1 452.18,43.92 452.24,47.24 452.3,54.1 452.36,54.83 452.42,62 452.49,61.84 452.55,68.39 452.61,70 452.67,75.77 452.73,80.93 452.79,81.31 452.85,85.17 452.91,85.65 452.98,90.95 453.04,92.31 453.1,93.38 453.16,93.85 453.22,95.29 453.28,95.28 453.34,93.69 453.41,96.52 453.47,92.63 453.53,92.53 453.59,93.09 453.65,84.66 453.71,85.37 453.77,79.57 453.84,77.73 453.9,74.52 453.96,68.4 454.02,64.78 454.08,58.95 454.14,53.7 454.2,54.79 454.27,48.63 454.33,45.74 454.39,44.53 454.45,44.73 454.51,36.08 454.57,39.05 454.63,36.53 454.7,36.62 454.76,38.23 454.82,37.01 454.88,38.57 454.94,37.8 455,40.41 455.06,43.31 455.13,44.26 455.19,49.17 455.25,49.58 455.31,52.53 455.37,55.85 455.43,61.49 455.49,66.89 455.56,68.71 455.62,75.73 455.68,77.44 455.74,80.42 455.8,83.24 455.86,88.14 455.92,91.14 455.98,90.56 456.05,95.82 456.11,96.36 456.17,97.16 456.23,91.45 456.29,98.57 456.35,96.01 456.41,97.81 456.48,93.49 456.54,89.37 456.6,88.14 456.66,85.07 456.72,79.32 456.78,78 456.84,73.74 456.91,71.37 456.97,67.47 457.03,65.13 457.09,59.16 457.15,54.99 457.21,48.16 457.27,50.96 457.34,44.76 457.4,41.42 457.46,38.25 457.52,38.76 457.58,36.73 457.64,37.26 457.7,38.8 457.77,32.66 457.83,32.57 457.89,37.77 457.95,38.8 458.01,39.56 458.07,39.68 458.13,44.67 458.2,49.62 458.26,52.21 458.32,55.6 458.38,60.66 458.44,65.05 458.5,66.9 458.56,71.01 458.63,74.52 458.69,79.07 458.75,83.26 458.81,86.64 458.87,89.64 458.93,91.71 458.99,94.05 459.05,92.09 459.12,96.19 459.18,95.18 459.24,97.52 459.3,96.32 459.36,94.83 459.42,93.06 459.48,90.5 459.55,89.61 459.61,86.57 459.67,84.04 459.73,78.4 459.79,76.27 459.85,71.09 459.91,67.57 459.98,64.09 460.04,60.93 460.1,58.29 460.16,51.42 460.22,49.51 460.28,46.04 460.34,42.34 460.41,42.15 460.47,40.26 460.53,36.37 460.59,37.17 460.65,34.16 460.71,33.99 460.77,34.42 460.84,39.07 460.9,37.61 460.96,38.52 461.02,41.04 461.08,45.07 461.14,47.13 461.2,53.52 461.27,55.49 461.33,56.64 461.39,61.91 461.45,65.82 461.51,68.45 461.57,74.66 461.63,76.69 461.7,79.29 461.76,84.17 461.82,88.43 461.88,90.4 461.94,93.09 462,94.83 462.06,89.28 462.12,93.8 462.19,96.58 462.25,97.02 462.31,92.12 462.37,95.12 462.43,91.45 462.49,90.52 462.55,86.92 462.62,83.86 462.68,81.24 462.74,78.25 462.8,73.6 462.86,68.52 462.92,68.14 462.98,62.42 463.05,59.73 463.11,54.91 463.17,51.34 463.23,45.81 463.29,45.42 463.35,44.06 463.41,39.74 463.48,38.01 463.54,36.09 463.6,37.8 463.66,34.87 463.72,31.53 463.78,36.22 463.84,35.85 463.91,38.66 463.97,38.46 464.03,43.67 464.09,46.32 464.15,49.04 464.21,50.22 464.27,55.75 464.34,58.22 464.4,63.18 464.46,67.33 464.52,71.97 464.58,76.35 464.64,78.31 464.7,82.81 464.77,83.33 464.83,90.08 464.89,91.52 464.95,96.91 465.01,91.55 465.07,98.65 465.13,95.88 465.19,94.78 465.26,94.92 465.32,94.74 465.38,93.55 465.44,90.08 465.5,92.13 465.56,84.68 465.62,85.09 465.69,80.98 465.75,75.88 465.81,72.66 465.87,69.81 465.93,65.79 465.99,63 466.05,57.69 466.12,50.66 466.18,50 466.24,45.13 466.3,44.14 466.36,40.76 466.42,41.17 466.48,36.72 466.55,36.81 466.61,36.67 466.67,32.46 466.73,33.51 466.79,35.29 466.85,36.26 466.91,40.71 466.98,43.11 467.04,44.02 467.1,47.81 467.16,49.94 467.22,53.75 467.28,58.06 467.34,60.91 467.41,65.2 467.47,71.55 467.53,73.34 467.59,77.71 467.65,81.2 467.71,83.27 467.77,87.19 467.84,88.75 467.9,92.5 467.96,89.39 468.02,96.2 468.08,97.01 468.14,96.97 468.2,94.43 468.26,96.84 468.33,95.73 468.39,91.45 468.45,87.71 468.51,87.01 468.57,84.95 468.63,83.08 468.69,78.4 468.76,76.03 468.82,73.63 468.88,67.53 468.94,64.96 469,58.32 469.06,53.75 469.12,49.07 469.19,47.95 469.25,45.04 469.31,42.86 469.37,40.12 469.43,34.19 469.49,40.06 469.55,34.39 469.62,32.74 469.68,36.38 469.74,38.07" fill="none" stroke="#bf2f3b" stroke-width="0.6" stroke-linejoin="round" stroke-opacity="0.55"/>
<polyline points="500.5,64.89 500.56,60.74 500.62,59.86 500.68,54.06 500.75,50.61 500.81,47.61 500.87,44.14 500.93,41.02 500.99,39.81 501.05,36.67 501.11,35.51 501.18,34.62 501.24,33.56 501.3,37.42 501.36,35.34 501.42,36.57 501.48,36.93 501.54,41.02 501.61,43.71 501.67,45.09 501.73,50.72 501.79,53.23 501.85,57.66 501.91,59.44 501.97,63.7 502.03,67.91 502.1,74.99 502.16,77.09 502.22,79.83 502.28,85.22 502.34,86.52 502.4,86.42 502.46,88.61 502.53,93.01 502.59,95.27 502.65,94.26 502.71,94.89 502.77,96.8 502.83,91.39 502.89,91.4 502.96,91.25 503.02,92.99 503.08,86.43 503.14,83.25 503.2,81.23 503.26,77.99 503.32,74.84 503.39,69.96 503.45,68.41 503.51,63.69 503.57,60.31 503.63,55.49 503.69,53.42 503.75,48.93 503.82,44.79 503.88,44.79 503.94,39.66 504,40 504.06,37.11 504.12,35.65 504.18,34.21 504.25,37.23 504.31,36.9 504.37,34.66 504.43,40.4 504.49,39.5 504.55,44.89 504.61,45.15 504.68,46.53 504.74,50.57 504.8,52.48 504.86,58.08 504.92,64.05 504.98,65.27 505.04,71.42 505.1,73.43 505.17,79.8 505.23,81.4 505.29,84.9 505.35,86.31 505.41,91.24 505.47,91.01 505.53,94.4 505.6,91.72 505.66,97.12 505.72,97.08 505.78,94.3 505.84,97.51 505.9,96.37 505.96,89.79 506.03,90.89 506.09,87.78 506.15,84.96 506.21,83.82 506.27,76.69 506.33,73.29 506.39,68.1 506.46,64.91 506.52,62.75 506.58,57.47 506.64,53.5 506.7,51.5 506.76,46.84 506.82,45.51 506.89,42.6 506.95,38.47 507.01,37.28 507.07,38.07 507.13,35.89 507.19,38.57 507.25,36.74 507.32,37.1 507.38,35.21 507.44,40.58 507.5,41.68 507.56,43.98 507.62,47.18 507.68,49.92 507.75,51.54 507.81,56.24 507.87,60.89 507.93,63.24 507.99,69.01 508.05,70.8 508.11,75.96 508.17,79.92 508.24,81.2 508.3,88.28 508.36,87.07 508.42,90.79 508.48,91.48 508.54,92.99 508.6,99.31 508.67,93.07 508.73,95.93 508.79,95.44 508.85,97.23 508.91,93.6 508.97,87.49 509.03,89.71 509.1,86.61 509.16,82.81 509.22,77.82 509.28,75.08 509.34,72.98 509.4,67.13 509.46,65.52 509.53,59.81 509.59,54.52 509.65,55.41 509.71,49.07 509.77,45.77 509.83,42.43 509.89,42.67 509.96,39.46 510.02,38.52 510.08,35.89 510.14,36.28 510.2,33.26 510.26,37.57 510.32,35.96 510.39,37.71 510.45,38.02 510.51,45.06 510.57,42.29 510.63,49.4 510.69,55.05 510.75,53.83 510.82,55.83 510.88,63.64 510.94,66.79 511,69.55 511.06,73.38 511.12,75.9 511.18,79.47 511.24,84.03 511.31,89.33 511.37,88.94 511.43,94.34 511.49,91.32 511.55,92.97 511.61,96.32 511.67,97.48 511.74,91.76 511.8,97.23 511.86,94.37 511.92,94.09 511.98,91.38 512.04,86.94 512.1,84.51 512.17,80.6 512.23,79.15 512.29,72.3 512.35,69.31 512.41,66.42 512.47,62.29 512.53,58.23 512.6,53.37 512.66,51.91 512.72,48.78 512.78,43.04 512.84,39.17 512.9,41.33 512.96,36.68 513.03,35.74 513.09,35.81 513.15,35.77 513.21,37.3 513.27,34.86 513.33,35.65 513.39,39.67 513.46,41.37 513.52,41.63 513.58,45.79 513.64,47.26 513.7,54.02 513.76,56.97 513.82,60.28 513.89,65.63 513.95,70.24 514.01,70.45 514.07,74.89 514.13,77.15 514.19,83.52 514.25,85.84 514.31,88.35 514.38,89.34 514.44,93.56 514.5,93.72 514.56,95.62 514.62,93.84 514.68,93.15 514.74,96.89 514.81,91.06 514.87,95.06 514.93,91.5 514.99,87.7 515.05,85.69 515.11,83.98 515.17,81.23 515.24,76.17 515.3,73.63 515.36,69.24 515.42,63.84 515.48,61.35 515.54,57.67 515.6,54.21 515.67,48.26 515.73,48.25 515.79,42.22 515.85,42.52 515.91,36.01 515.97,35.86 516.03,40.68 516.1,34.81 516.16,35.89 516.22,36.06 516.28,38.27 516.34,38.27 516.4,41.09 516.46,41.08 516.53,45.26 516.59,47.53 516.65,52.02 516.71,51.34 516.77,57.98 516.83,63.12 516.89,65.61 516.96,70.53 517.02,73.15 517.08,77.79 517.14,82.2 517.2,84.39 517.26,87.46 517.32,88.79 517.38,91.37 517.45,92.41 517.51,95.94 517.57,95.08 517.63,95.81 517.69,98.78 517.75,95.55 517.81,94.71 517.88,91.65 517.94,88.16 518,87.15 518.06,86.83 518.12,82.56 518.18,77.27 518.24,73.13 518.31,70.13 518.37,66.29 518.43,62.52 518.49,59.07 518.55,54.36 518.61,50.76 518.67,47.04 518.74,45.28 518.8,43.62 518.86,40.09 518.92,37.27 518.98,41.34 519.04,35.87 519.1,41.01 519.17,34.06 519.23,36.43 519.29,38.27 519.35,38.51 519.41,42.86 519.47,43.72 519.53,46.08 519.6,50.44 519.66,51.12 519.72,55.47 519.78,59.02 519.84,64.89 519.9,69.82 519.96,71.31 520.03,75.76 520.09,77.94 520.15,80.61 520.21,85.3 520.27,87.73 520.33,89.24 520.39,90.29 520.45,98.11 520.52,97.61 520.58,95.88 520.64,97.17 520.7,94.92 520.76,95.19 520.82,93.53 520.88,92.19 520.95,87.11 521.01,85.86 521.07,82.27 521.13,78.96 521.19,76.55 521.25,71.58 521.31,69.5 521.38,63.48 521.44,60.41 521.5,57.92 521.56,52.24 521.62,51.59 521.68,47.76 521.74,43.88 521.81,38.39 521.87,39.71 521.93,40.57 521.99,35 522.05,36.53 522.11,31.98 522.17,37.24 522.24,38.24 522.3,38.8 522.36,35.67 522.42,41.42 522.48,42.79 522.54,49.48 522.6,49.57 522.67,54.51 522.73,56.19 522.79,62.36 522.85,65.04 522.91,69.47 522.97,72.49 523.03,77.75 523.1,83.5 523.16,83.03 523.22,89.82 523.28,88.78 523.34,89.98 523.4,94.35 523.46,93.18 523.52,94.58 523.59,96.02 523.65,95.45 523.71,93.75 523.77,95.65 523.83,92.45 523.89,89.47 523.95,88.83 524.02,85.38 524.08,82.78 524.14,79.37 524.2,75.39 524.26,70.36 524.32,66.34 524.38,62.62 524.45,57.19 524.51,55.13 524.57,52.63 524.63,50.39 524.69,43.86 524.75,44.66 524.81,38.85 524.88,38.17 524.94,37.3 525,30.95 525.06,35.26 525.12,32.83 525.18,35.4 525.24,38.48 525.31,38.4 525.37,41.08 525.43,43.7 525.49,48.02 525.55,49.35 525.61,49.9 525.67,54.66 525.74,58.99 525.8,65.38 525.86,65.93 525.92,69.78 525.98,74.24 526.04,77.8 526.1,81.58 526.17,86.06 526.23,85.91 526.29,91.36 526.35,94.35 526.41,96.82 526.47,95.25 526.53,96.78 526.59,98.83 526.66,97.02 526.72,95.99 526.78,89.98 526.84,92.92 526.9,88.96 526.96,84.89 527.02,84.86 527.09,82.88 527.15,78.16 527.21,74.26 527.27,67.37 527.33,64.13 527.39,62.84 527.45,56.62 527.52,53.25 527.58,51.06 527.64,46.47 527.7,42.21 527.76,41.68 527.82,36.34 527.88,34.14 527.95,39.22 528.01,36.31 528.07,37.56 528.13,38.17 528.19,36.3 528.25,38.72 528.31,39.81 528.38,41.37 528.44,43.87 528.5,46.4 528.56,50.17 528.62,52.31 528.68,55.78 528.74,61.89 528.81,65.07 528.87,69.32 528.93,73.74 528.99,73.99 529.05,79.85 529.11,86 529.17,84.74 529.24,91.34 529.3,88.48 529.36,94.85 529.42,95.08 529.48,93.9 529.54,93.62 529.6,95.24 529.66,95.36 529.73,93.11 529.79,92.78 529.85,89.75 529.91,88.02 529.97,85.33 530.03,80.89 530.09,78.09 530.16,75.71 530.22,70.82 530.28,68.15 530.34,62.85 530.4,59.7 530.46,55.94 530.52,50.63 530.59,49.08 530.65,43.95 530.71,41.98 530.77,40.24 530.83,39.43 530.89,35.1 530.95,33.58 531.02,33.14 531.08,35.57 531.14,38.88" fill="none" stroke="#bf2f3b" stroke-width="0.85" stroke-linejoin="round"/>
<polyline points="500.87,44.73 500.93,41.1 500.99,38.24 501.05,35.62 501.11,36.25 501.18,35 501.24,33.78 501.3,35 501.36,37.52 501.42,40.91 501.48,36.76 501.54,38.61 501.61,42.17 501.67,49.05 501.73,48.97 501.79,51.82 501.85,55.4 501.91,59.37 501.97,63.19 502.03,67.84 502.1,70.31 502.16,76.12 502.22,79.12 502.28,82.62 502.34,83.89 502.4,86.83 502.46,92.76 502.53,91.58 502.59,93.44 502.65,92.61 502.71,99.27 502.77,98.08 502.83,93.76 502.89,96.08 502.96,93.07 503.02,91.07 503.08,88.53 503.14,85.37 503.2,84.21 503.26,78.09 503.32,73.71 503.39,72.09 503.45,69.09 503.51,63.32 503.57,61.38 503.63,56.33 503.69,52.36 503.75,49.32 503.82,46.53 503.88,44.51 503.94,39.42 504,37.7 504.06,37.4 504.12,31.43 504.18,36.15 504.25,32.86 504.31,36.92 504.37,38.91 504.43,32.42 504.49,39.73 504.55,43.54 504.61,44.99 504.68,45.84 504.74,53.39 504.8,53.67 504.86,58.28 504.92,61.69 504.98,66.16 505.04,71.2 505.1,75.24 505.17,80.48 505.23,81.65 505.29,87.5 505.35,86.74 505.41,87.83 505.47,92.19 505.53,92.47 505.6,92.9 505.66,96.34 505.72,96.02 505.78,96.34 505.84,95.54 505.9,93.05 505.96,93.22 506.03,90.37 506.09,86.02 506.15,85.24 506.21,80.65 506.27,76.54 506.33,71.94 506.39,70.35 506.46,65.2 506.52,64.07 506.58,58.63 506.64,54.69 506.7,49.36 506.76,46.91 506.82,44.09 506.89,40.28 506.95,38.17 507.01,36.46 507.07,36.92 507.13,37.18 507.19,34.21 507.25,34.65 507.32,38.97 507.38,38.16 507.44,41.27 507.5,39.61 507.56,43.52 507.62,46.04 507.68,48.97 507.75,53.75 507.81,54.64 507.87,60.37 507.93,64.52 507.99,66.97 508.05,71.3 508.11,73.23 508.17,79.95 508.24,81.97 508.3,85.62 508.36,88.48 508.42,91.7 508.48,97.88 508.54,91.99 508.6,93.41 508.67,92.98 508.73,97.17 508.79,94.42 508.85,97.8 508.91,91.62 508.97,87.96 509.03,86.9 509.1,85.68 509.16,80.69 509.22,79.59 509.28,75.54 509.34,71.69 509.4,66.76 509.46,65.78 509.53,59.99 509.59,55.92 509.65,53.3 509.71,47.93 509.77,47.52 509.83,43.11 509.89,41.48 509.96,37.4 510.02,36.73 510.08,37.44 510.14,36.28 510.2,37.16 510.26,36.22 510.32,40.28 510.39,36.5 510.45,42.32 510.51,42.22 510.57,43.37 510.63,46.51 510.69,50.52 510.75,54.39 510.82,58.61 510.88,61.59 510.94,64.65 511,70.04 511.06,73.66 511.12,79.41 511.18,78.97 511.24,85.58 511.31,88.4 511.37,88.88 511.43,94.26 511.49,95.22 511.55,91.45 511.61,97.95 511.67,92.55 511.74,92.62 511.8,95.4 511.86,94.35 511.92,91.22 511.98,87.29 512.04,90.42 512.1,86.34 512.17,81.84 512.23,79.87 512.29,75.15 512.35,69.13 512.41,67.09 512.47,64.96 512.53,58.46 512.6,54.53 512.66,51.41 512.72,47.91 512.78,44.89 512.84,42.62 512.9,44.12 512.96,38.3 513.03,37 513.09,34.61 513.15,34.07 513.21,34.8 513.27,36.19 513.33,37.38 513.39,36.18 513.46,38.92 513.52,44.68 513.58,48.51 513.64,47.72 513.7,51.35 513.76,57.54 513.82,60.95 513.89,64.74 513.95,68.79 514.01,73.46 514.07,75.38 514.13,78.91 514.19,82.91 514.25,91.17 514.31,87.96 514.38,89.93 514.44,92.68 514.5,93.56 514.56,92.11 514.62,97.75 514.68,99.75 514.74,98.15 514.81,93.54 514.87,93.62 514.93,92.08 514.99,90.33 515.05,82.18 515.11,82.8 515.17,80.76 515.24,76.91 515.3,72.53 515.36,67.74 515.42,64.24 515.48,60.46 515.54,56.21 515.6,52.65 515.67,48.96 515.73,48.68 515.79,42.84 515.85,42.75 515.91,41.29 515.97,35.69 516.03,33.44 516.1,33.52 516.16,36.16 516.22,36.7 516.28,34.85 516.34,38.45 516.4,43.18 516.46,41.8 516.53,42.72 516.59,45.59 516.65,50.93 516.71,55.17 516.77,56.74 516.83,60.55 516.89,63.68 516.96,68.18 517.02,73.42 517.08,76.67 517.14,80.21 517.2,82.8 517.26,87.73 517.32,88.12 517.38,93.83 517.45,95.46 517.51,93.11 517.57,99.28 517.63,94.32 517.69,98.73 517.75,95.97 517.81,95.88 517.88,89.1 517.94,90.96 518,88.85 518.06,86.98 518.12,77.39 518.18,78.05 518.24,73.26 518.31,68.45 518.37,67.37 518.43,62.71 518.49,59.24 518.55,53.61 518.61,52.98 518.67,50.27 518.74,44.2 518.8,41.25 518.86,39.58 518.92,37.15 518.98,35.03 519.04,35.44 519.1,38.58 519.17,36.5 519.23,35.43 519.29,38.47 519.35,39.87 519.41,39.84 519.47,39.66 519.53,45.69 519.6,51.05 519.66,53.7 519.72,53.24 519.78,58.39 519.84,63.6 519.9,67.7 519.96,71.85 520.03,74.61 520.09,81.26 520.15,82 520.21,86.57 520.27,89.24 520.33,92.5 520.39,92.22 520.45,91.89 520.52,98.89 520.58,93.11 520.64,96.08 520.7,94.47 520.76,96.08 520.82,91.37 520.88,90.86 520.95,88.54 521.01,86.4 521.07,83.92 521.13,77.37 521.19,78.07 521.25,71.42 521.31,70.51 521.38,65.87 521.44,62.23 521.5,56.12 521.56,54.95 521.62,50.12 521.68,44.26 521.74,42.11 521.81,38.06 521.87,38.9 521.93,34.74 521.99,33.52 522.05,36.03 522.11,34.84 522.17,35.76 522.24,37.35 522.3,37.39 522.36,38.48 522.42,43.82 522.48,41.88 522.54,46.34 522.6,49.92 522.67,53.94 522.73,56.72 522.79,61.89 522.85,65.56 522.91,70.79 522.97,72.7 523.03,75.81 523.1,79.06 523.16,83.86 523.22,84.68 523.28,88.29 523.34,93.78 523.4,94.04 523.46,97.34 523.52,95.59 523.59,95.91 523.65,92.74 523.71,95.26 523.77,94.04 523.83,95.1 523.89,91.11 523.95,91.15 524.02,85.71 524.08,83.89 524.14,79.23 524.2,74.98 524.26,73.27 524.32,66.21 524.38,62.15 524.45,60.84 524.51,54.79 524.57,50.07 524.63,48.78 524.69,43.5 524.75,41.81 524.81,40.57 524.88,37.52 524.94,34.86 525,36.01 525.06,37.38 525.12,34.67 525.18,37.32 525.24,34.67 525.31,38.76 525.37,40.88 525.43,43.2 525.49,44.93 525.55,49.11 525.61,52.56 525.67,55.34 525.74,57.87 525.8,61.69 525.86,67.63 525.92,70.53 525.98,74.84 526.04,77.63 526.1,83.68 526.17,83.56 526.23,91.21 526.29,91.2 526.35,92.41 526.41,96.34 526.47,92.79 526.53,93.07 526.59,98.6 526.66,95.61 526.72,94.76 526.78,93.59 526.84,90.31 526.9,92.02 526.96,88.1 527.02,83.39 527.09,83.1 527.15,76.77 527.21,73.83 527.27,68.8 527.33,64.8 527.39,61.87 527.45,58.89 527.52,54.46 527.58,51.2 527.64,46.3 527.7,44.35 527.76,42.93 527.82,39.52 527.88,35.32 527.95,36.49 528.01,36.51 528.07,35.22 528.13,32.14 528.19,35.24 528.25,39.21 528.31,38.38 528.38,42.64 528.44,44.2 528.5,47.85 528.56,50.02 528.62,55.45 528.68,56.11 528.74,60.49 528.81,64.95 528.87,69.62 528.93,72.8 528.99,75.83 529.05,82.57 529.11,83.35 529.17,87.77 529.24,87.71 529.3,90.38 529.36,93.88 529.42,90.79 529.48,95.07 529.54,98.46 529.6,94.51 529.66,93.41 529.73,99.46 529.79,93.36 529.85,91.62 529.91,90.3 529.97,87.09 530.03,83.79 530.09,78.92 530.16,74.79 530.22,71.06 530.28,66.94 530.34,62.25 530.4,58.8 530.46,54.88 530.52,53.48 530.59,48.91 530.65,42.87 530.71,41.22 530.77,39.43 530.83,39.13 530.89,35.16 530.95,36.61 531.02,34.67 531.08,36.7 531.14,36.61 531.2,34.57" fill="none" stroke="#bf2f3b" stroke-width="0.6" stroke-linejoin="round" stroke-opacity="0.55"/>
<polyline points="561.9,65.93 561.96,61.25 562.02,58.5 562.08,54.38 562.15,50.95 562.21,47.83 562.27,42.33 562.33,43.55 562.39,40.33 562.45,39.99 562.51,36.47 562.58,37.49 562.64,33.21 562.7,39.15 562.76,34.81 562.82,38.23 562.88,39.81 562.94,39.38 563.01,45.72 563.07,48.21 563.13,49.12 563.19,56.76 563.25,56.83 563.31,59.05 563.37,65.08 563.43,67.84 563.5,72.49 563.56,78.17 563.62,80.38 563.68,85.34 563.74,86.2 563.8,87.12 563.86,90.77 563.93,93.91 563.99,94.4 564.05,96.46 564.11,94.98 564.17,94.84 564.23,96.43 564.29,91.29 564.36,92.46 564.42,89.72 564.48,92.26 564.54,87.36 564.6,82.6 564.66,79.64 564.72,78.14 564.79,72.22 564.85,67.84 564.91,64.89 564.97,60.15 565.03,54.46 565.09,51.44 565.15,49.39 565.22,49.48 565.28,41.73 565.34,40.12 565.4,35.74 565.46,34.18 565.52,35.45 565.58,36.1 565.65,39.75 565.71,34.66 565.77,39.15 565.83,38.33 565.89,40.54 565.95,42.43 566.01,45.13 566.08,49.9 566.14,51.32 566.2,55.05 566.26,58.35 566.32,64.58 566.38,65.28 566.44,70.52 566.5,75.34 566.57,79.67 566.63,82.73 566.69,84.44 566.75,88.7 566.81,91.19 566.87,92.62 566.93,92.39 567,93.71 567.06,94.69 567.12,95.71 567.18,94.7 567.24,96.68 567.3,93.56 567.36,91.62 567.43,87.39 567.49,88.14 567.55,85.47 567.61,80.55 567.67,76.68 567.73,74.49 567.79,71.25 567.86,65.26 567.92,61.21 567.98,58.73 568.04,53.31 568.1,52.53 568.16,48.18 568.22,44.69 568.29,41.73 568.35,39.06 568.41,41.39 568.47,42.92 568.53,34.23 568.59,34.75 568.65,35.3 568.72,32.29 568.78,35.29 568.84,40.91 568.9,42.37 568.96,40.69 569.02,45.99 569.08,48.18 569.15,51.42 569.21,56.13 569.27,59.02 569.33,64.98 569.39,67.22 569.45,70.99 569.51,75.65 569.57,81.39 569.64,80.68 569.7,85.72 569.76,86.01 569.82,89.76 569.88,95.24 569.94,95.75 570,96.25 570.07,96.07 570.13,96.32 570.19,96.94 570.25,94.4 570.31,90.08 570.37,93.93 570.43,88.1 570.5,86.06 570.56,83.75 570.62,80.24 570.68,76.44 570.74,72.65 570.8,67.7 570.86,63.45 570.93,60.17 570.99,55.07 571.05,53.46 571.11,47.71 571.17,44.72 571.23,40.48 571.29,40.21 571.36,40.62 571.42,37.1 571.48,33.5 571.54,37.39 571.6,36.73 571.66,38.94 571.72,36.51 571.79,37.81 571.85,43.43 571.91,40.05 571.97,44.83 572.03,49.76 572.09,51.06 572.15,51.36 572.22,56.09 572.28,64.13 572.34,65.68 572.4,70.11 572.46,75.73 572.52,78.58 572.58,82.81 572.64,85.65 572.71,85.03 572.77,92.46 572.83,88.56 572.89,93.81 572.95,95.31 573.01,94.97 573.07,95.26 573.14,94.12 573.2,93.57 573.26,94.62 573.32,90.66 573.38,87.06 573.44,86.27 573.5,86.11 573.57,81.55 573.63,76.55 573.69,73.34 573.75,71.52 573.81,65.61 573.87,61.73 573.93,57.98 574,50.12 574.06,48.74 574.12,48.36 574.18,43.8 574.24,39.43 574.3,39.15 574.36,40.66 574.43,36.89 574.49,37.43 574.55,35.35 574.61,35.03 574.67,38.05 574.73,39.86 574.79,39.91 574.86,38.87 574.92,44.25 574.98,45.1 575.04,52.1 575.1,52.55 575.16,59.12 575.22,58.18 575.29,65.82 575.35,68.62 575.41,70.67 575.47,77.53 575.53,79.97 575.59,84.66 575.65,85.92 575.71,87.88 575.78,90.18 575.84,92.34 575.9,93.89 575.96,96.42 576.02,97.89 576.08,97.13 576.14,95.38 576.21,95.66 576.27,90.06 576.33,88.45 576.39,86.17 576.45,86.6 576.51,82.73 576.57,80.05 576.64,75.9 576.7,71.59 576.76,69.33 576.82,64.46 576.88,61.12 576.94,55.73 577,52.21 577.07,50.86 577.13,46.89 577.19,46.22 577.25,40.23 577.31,36.54 577.37,36.67 577.43,35.97 577.5,38.39 577.56,35.88 577.62,34.67 577.68,36.22 577.74,39.22 577.8,37.33 577.86,42.24 577.93,42.85 577.99,49.5 578.05,50.06 578.11,54.68 578.17,59.19 578.23,60.45 578.29,66.36 578.36,71.94 578.42,71.65 578.48,76.97 578.54,84.65 578.6,82.93 578.66,86.58 578.72,87.45 578.78,87.04 578.85,92.32 578.91,96.46 578.97,95.18 579.03,95.64 579.09,94.36 579.15,92.83 579.21,95.3 579.28,94.55 579.34,91.03 579.4,86.86 579.46,81.89 579.52,79.8 579.58,77.43 579.64,75.28 579.71,68.59 579.77,67.96 579.83,62.55 579.89,55.99 579.95,54.54 580.01,51.23 580.07,48.24 580.14,43.26 580.2,41.71 580.26,42.69 580.32,36.66 580.38,40.33 580.44,35.43 580.5,34.1 580.57,35.91 580.63,35.6 580.69,36.63 580.75,39.06 580.81,39.19 580.87,42.18 580.93,47.15 581,45.84 581.06,49.53 581.12,53.93 581.18,59.03 581.24,64.43 581.3,66.27 581.36,70.1 581.43,74.03 581.49,77.31 581.55,84.21 581.61,82.6 581.67,85.96 581.73,91.57 581.79,92.8 581.85,92.83 581.92,94.19 581.98,97.39 582.04,97.28 582.1,95.52 582.16,94.64 582.22,90.42 582.28,91.55 582.35,88.91 582.41,85.04 582.47,83.11 582.53,80.22 582.59,75.11 582.65,72.73 582.71,66.75 582.78,64.85 582.84,60.45 582.9,57.73 582.96,53.54 583.02,49.87 583.08,47.08 583.14,41.99 583.21,45.05 583.27,37.3 583.33,36.69 583.39,35.47 583.45,34.93 583.51,35.96 583.57,39.73 583.64,38.73 583.7,39.82 583.76,43.18 583.82,39.23 583.88,42.13 583.94,51.29 584,52.31 584.07,53.71 584.13,59.35 584.19,60.76 584.25,65.62 584.31,67.24 584.37,74.54 584.43,76.72 584.5,81.05 584.56,83.29 584.62,85.75 584.68,88.2 584.74,90.18 584.8,96.33 584.86,98.55 584.92,95.84 584.99,93.19 585.05,93.73 585.11,94.16 585.17,97.15 585.23,94.34 585.29,93.75 585.35,84.89 585.42,85.66 585.48,82.76 585.54,79.19 585.6,75.17 585.66,71.05 585.72,65.03 585.78,62.81 585.85,58.49 585.91,52.87 585.97,51.15 586.03,48.54 586.09,46.93 586.15,40.19 586.21,39.68 586.28,34.51 586.34,36.45 586.4,36.19 586.46,36.54 586.52,36.36 586.58,36.44 586.64,36.38 586.71,41.17 586.77,43.61 586.83,40.66 586.89,47.08 586.95,48.34 587.01,53.4 587.07,54.7 587.14,57.73 587.2,62.91 587.26,66.04 587.32,70.77 587.38,74.42 587.44,76.18 587.5,80.43 587.57,85.43 587.63,88.91 587.69,91.08 587.75,93.24 587.81,91.26 587.87,93.98 587.93,90.55 587.99,97.13 588.06,96.88 588.12,96.66 588.18,92.73 588.24,94.37 588.3,87.29 588.36,85.93 588.42,81.42 588.49,78.83 588.55,75.03 588.61,72.42 588.67,69.07 588.73,65.32 588.79,62.95 588.85,56.99 588.92,54.52 588.98,51.98 589.04,44.99 589.1,47.79 589.16,41.77 589.22,38.08 589.28,36.71 589.35,35.13 589.41,36.1 589.47,37.86 589.53,33.27 589.59,39.25 589.65,35.4 589.71,38.3 589.78,42.11 589.84,45.24 589.9,46.37 589.96,50.4 590.02,53.67 590.08,56.81 590.14,61.5 590.21,64.57 590.27,70.55 590.33,74.46 590.39,75.3 590.45,79.82 590.51,84.88 590.57,86.77 590.64,90.38 590.7,88.73 590.76,94.66 590.82,91.04 590.88,93.93 590.94,97.2 591,94.91 591.06,95.87 591.13,90.55 591.19,91.72 591.25,89.56 591.31,92.64 591.37,81.67 591.43,79.5 591.49,79.06 591.56,75.83 591.62,70.12 591.68,67.15 591.74,61.84 591.8,60.91 591.86,55.23 591.92,53.29 591.99,48.09 592.05,43.88 592.11,43.43 592.17,41.68 592.23,33.44 592.29,37.92 592.35,38.1 592.42,32.69 592.48,34.8 592.54,33.75" fill="none" stroke="#bf2f3b" stroke-width="0.85" stroke-linejoin="round"/>
<polyline points="562.27,42.17 562.33,42.77 562.39,42.65 562.45,34.96 562.51,37.46 562.58,32.09 562.64,35.84 562.7,34.16 562.76,35.32 562.82,37.27 562.88,42.27 562.94,41.05 563.01,42.89 563.07,44.07 563.13,48.98 563.19,52 563.25,57.5 563.31,62.04 563.37,64.4 563.43,69.07 563.5,73.04 563.56,77.5 563.62,78.83 563.68,82.2 563.74,86.08 563.8,89.73 563.86,93.75 563.93,89.44 563.99,91.38 564.05,95.08 564.11,97.68 564.17,96.2 564.23,96.15 564.29,96.63 564.36,92.95 564.42,93.25 564.48,91.28 564.54,85.4 564.6,81.96 564.66,77.28 564.72,73.8 564.79,71.52 564.85,68.33 564.91,62.64 564.97,60.3 565.03,55.43 565.09,51.25 565.15,49.33 565.22,44.36 565.28,43.63 565.34,44.47 565.4,39.59 565.46,35.85 565.52,36.29 565.58,32.37 565.65,35.06 565.71,33.19 565.77,35.3 565.83,37.95 565.89,40.03 565.95,38.94 566.01,44.43 566.08,47.43 566.14,51.16 566.2,56.92 566.26,60.54 566.32,63.61 566.38,68.2 566.44,70.42 566.5,73.71 566.57,77.23 566.63,80.67 566.69,85.13 566.75,86.7 566.81,88.81 566.87,93.23 566.93,92.35 567,96.68 567.06,96.67 567.12,97.35 567.18,98.61 567.24,95.85 567.3,96.55 567.36,92.51 567.43,91.16 567.49,86.16 567.55,82.33 567.61,81.73 567.67,78.48 567.73,75.02 567.79,70.05 567.86,65.45 567.92,58.77 567.98,59.94 568.04,52.69 568.1,51.49 568.16,46.23 568.22,43.9 568.29,42.49 568.35,41.79 568.41,38.41 568.47,38.29 568.53,34.4 568.59,31.28 568.65,40.69 568.72,38.59 568.78,37.99 568.84,37.94 568.9,41.24 568.96,41.56 569.02,43.07 569.08,47.2 569.15,52.95 569.21,56.03 569.27,61.94 569.33,63.7 569.39,66.69 569.45,71.06 569.51,74.67 569.57,79.22 569.64,84.45 569.7,89.02 569.76,88.33 569.82,88.88 569.88,90.48 569.94,94.99 570,98.96 570.07,96.19 570.13,97.32 570.19,96.43 570.25,92.33 570.31,92.35 570.37,89.39 570.43,86.51 570.5,86.17 570.56,84.53 570.62,80.19 570.68,77.76 570.74,72.68 570.8,68.68 570.86,63.63 570.93,58.59 570.99,56.7 571.05,50.79 571.11,49.25 571.17,45.81 571.23,45.07 571.29,38.55 571.36,41.78 571.42,37.86 571.48,34.43 571.54,39.53 571.6,36.05 571.66,38.62 571.72,35.97 571.79,38.24 571.85,38.85 571.91,40.91 571.97,45.77 572.03,47.27 572.09,51.4 572.15,53.86 572.22,60.31 572.28,60.25 572.34,67.17 572.4,68.77 572.46,73.68 572.52,77.45 572.58,83 572.64,84.15 572.71,85.49 572.77,88.43 572.83,91.17 572.89,93.33 572.95,92.74 573.01,97.46 573.07,93.81 573.14,96.17 573.2,95.69 573.26,93.49 573.32,93.89 573.38,87.41 573.44,88.84 573.5,83.54 573.57,80.69 573.63,79.82 573.69,74.07 573.75,71.17 573.81,64.71 573.87,60.69 573.93,58.54 574,55.97 574.06,50.34 574.12,48.57 574.18,45.32 574.24,41.22 574.3,42.93 574.36,37.13 574.43,38.38 574.49,33.52 574.55,32.01 574.61,33.35 574.67,34.49 574.73,40.57 574.79,38.55 574.86,40.64 574.92,43.7 574.98,44.66 575.04,49.17 575.1,51.71 575.16,57.58 575.22,60.66 575.29,62.81 575.35,68.38 575.41,71.6 575.47,75.57 575.53,76.87 575.59,81.4 575.65,84.75 575.71,90.47 575.78,91.8 575.84,94.84 575.9,92.79 575.96,91.8 576.02,96.62 576.08,94.26 576.14,97.64 576.21,96.69 576.27,96.66 576.33,93.09 576.39,91.02 576.45,85.78 576.51,81.85 576.57,79.46 576.64,77.1 576.7,72.39 576.76,67.59 576.82,62.26 576.88,61.76 576.94,55.87 577,53.3 577.07,49.71 577.13,46.85 577.19,43.19 577.25,40.87 577.31,37.06 577.37,34.92 577.43,38.21 577.5,36.01 577.56,34.14 577.62,35.15 577.68,37.4 577.74,37.62 577.8,39.76 577.86,39.32 577.93,47.91 577.99,46.37 578.05,53.22 578.11,54.17 578.17,57.09 578.23,63.13 578.29,65.86 578.36,71.25 578.42,74.79 578.48,77.86 578.54,80.91 578.6,84.33 578.66,89.34 578.72,84.7 578.78,91.25 578.85,92.49 578.91,98.53 578.97,100.45 579.03,95.95 579.09,95.11 579.15,92.93 579.21,93.53 579.28,92.3 579.34,88.66 579.4,87.03 579.46,85.22 579.52,81.22 579.58,77.87 579.64,74.71 579.71,71.41 579.77,66.82 579.83,61.6 579.89,60.5 579.95,57.05 580.01,52.06 580.07,51.58 580.14,45.94 580.2,43.31 580.26,40.4 580.32,33.03 580.38,37.53 580.44,37.2 580.5,32.32 580.57,34.3 580.63,37.22 580.69,36.96 580.75,37.72 580.81,35.31 580.87,42.58 580.93,48.21 581,48.01 581.06,49.83 581.12,54.82 581.18,58.25 581.24,61.41 581.3,68.53 581.36,70.55 581.43,72.99 581.49,76.41 581.55,80.86 581.61,84 581.67,90.51 581.73,89.2 581.79,92.9 581.85,95.08 581.92,95.92 581.98,96.87 582.04,95.27 582.1,93.8 582.16,96.37 582.22,93.77 582.28,91.82 582.35,88 582.41,81.31 582.47,83.39 582.53,81.53 582.59,78 582.65,74.17 582.71,71.08 582.78,64.88 582.84,60.93 582.9,55.31 582.96,54.97 583.02,49.62 583.08,45.1 583.14,43.6 583.21,42.09 583.27,40.88 583.33,37.69 583.39,32.8 583.45,32.25 583.51,35.37 583.57,41.02 583.64,34.86 583.7,35.22 583.76,42.01 583.82,41.94 583.88,43.68 583.94,48.52 584,51.56 584.07,53.42 584.13,58.19 584.19,61.05 584.25,64.11 584.31,68.73 584.37,71.82 584.43,77.35 584.5,82.11 584.56,85.24 584.62,84.01 584.68,91.55 584.74,92.09 584.8,93.96 584.86,95.05 584.92,93.01 584.99,95.66 585.05,91.91 585.11,92.14 585.17,96.03 585.23,96.53 585.29,90.09 585.35,88.29 585.42,84.96 585.48,80.14 585.54,78.57 585.6,74.53 585.66,72.22 585.72,69.62 585.78,63.99 585.85,58.9 585.91,58.03 585.97,52.15 586.03,48.67 586.09,43.69 586.15,39.75 586.21,38.7 586.28,37.78 586.34,35.84 586.4,35.17 586.46,39.79 586.52,37.76 586.58,38.69 586.64,37.12 586.71,39.37 586.77,36.05 586.83,41.34 586.89,44.56 586.95,47.39 587.01,51.92 587.07,56.34 587.14,58.01 587.2,64.07 587.26,66.15 587.32,72.68 587.38,74.56 587.44,79.02 587.5,83.15 587.57,83.08 587.63,90.76 587.69,86.72 587.75,91.94 587.81,93.66 587.87,94.74 587.93,96.68 587.99,96.32 588.06,93.86 588.12,92.2 588.18,93.94 588.24,92.3 588.3,88.82 588.36,85.36 588.42,81.87 588.49,80.37 588.55,78.84 588.61,73.74 588.67,68.51 588.73,65.68 588.79,60.99 588.85,57.78 588.92,54.04 588.98,50.81 589.04,48.63 589.1,43.68 589.16,40.53 589.22,36.85 589.28,38.56 589.35,39.45 589.41,33.96 589.47,32.72 589.53,35.3 589.59,34.36 589.65,35.16 589.71,40.31 589.78,39.84 589.84,44.05 589.9,44.58 589.96,50.58 590.02,53.55 590.08,56.58 590.14,59.24 590.21,63.16 590.27,69.63 590.33,71.34 590.39,76.74 590.45,78.3 590.51,84.31 590.57,85.38 590.64,86.27 590.7,91.34 590.76,93.78 590.82,96.41 590.88,95.19 590.94,96.1 591,95.88 591.06,94.63 591.13,96.38 591.19,95.89 591.25,94.79 591.31,88.77 591.37,82.39 591.43,84.91 591.49,78.68 591.56,76.82 591.62,70.56 591.68,66.94 591.74,63.11 591.8,58.06 591.86,53.9 591.92,51.43 591.99,51.18 592.05,46.13 592.11,42.93 592.17,42.01 592.23,36.91 592.29,36.71 592.35,34.56 592.42,36.85 592.48,33.47 592.54,37.3 592.6,34.13" fill="none" stroke="#bf2f3b" stroke-width="0.6" stroke-linejoin="round" stroke-opacity="0.55"/>
<polyline points="623.3,64.94 623.36,62.48 623.42,58.02 623.48,55.14 623.55,50.01 623.61,47.44 623.67,44.22 623.73,40.89 623.79,36.14 623.85,39.23 623.91,37.15 623.98,32.68 624.04,35.12 624.1,32.53 624.16,37.24 624.22,34.87 624.28,40.69 624.34,42.32 624.41,43.88 624.47,45.86 624.53,48.36 624.59,53.16 624.65,59.21 624.71,60.82 624.77,65.56 624.84,69.86 624.9,72.33 624.96,77.55 625.02,80.14 625.08,83.1 625.14,89.82 625.2,90.06 625.26,92.37 625.33,92.78 625.39,96.6 625.45,95.08 625.51,92.91 625.57,96.89 625.63,95.7 625.69,93.11 625.76,93.59 625.82,87.49 625.88,87.62 625.94,86.11 626,80.88 626.06,82.53 626.12,76.44 626.19,72.54 626.25,65.7 626.31,64.47 626.37,58.68 626.43,58.69 626.49,53.09 626.55,47.5 626.62,45.83 626.68,46.11 626.74,37.42 626.8,39.53 626.86,35.19 626.92,38.46 626.98,37.7 627.05,34.42 627.11,32.69 627.17,39.56 627.23,36 627.29,39.2 627.35,42.17 627.41,41.03 627.48,48.64 627.54,48.7 627.6,54.32 627.66,58.89 627.72,62.94 627.78,66.3 627.84,70.44 627.91,76.02 627.97,79.88 628.03,82.69 628.09,83.95 628.15,88.77 628.21,89.56 628.27,92.03 628.33,91.38 628.4,94.08 628.46,97.89 628.52,94.59 628.58,94.46 628.64,97.52 628.7,93.52 628.76,91.18 628.83,90.44 628.89,84.56 628.95,84.01 629.01,83.46 629.07,78.63 629.13,73.86 629.19,70.25 629.26,66.46 629.32,61.47 629.38,57.84 629.44,53.56 629.5,50.71 629.56,45.78 629.62,46.49 629.69,42.81 629.75,37.88 629.81,37.67 629.87,34.48 629.93,36.43 629.99,39.27 630.05,32.21 630.12,37.26 630.18,36.21 630.24,37.05 630.3,38.34 630.36,40.16 630.42,46.64 630.48,49.13 630.55,52.27 630.61,59.06 630.67,61.82 630.73,64.95 630.79,68.57 630.85,72.28 630.91,75.36 630.98,81.6 631.04,82.41 631.1,83.97 631.16,87.17 631.22,92.49 631.28,98.12 631.34,95.96 631.4,94.09 631.47,95.01 631.53,93.14 631.59,97.57 631.65,94.68 631.71,94.57 631.77,91.33 631.83,89.59 631.9,86.28 631.96,80.53 632.02,78.65 632.08,77.51 632.14,71.34 632.2,67.09 632.26,65.12 632.33,60.26 632.39,56.6 632.45,52.87 632.51,49.46 632.57,46.34 632.63,45.75 632.69,39.21 632.76,40.78 632.82,36.34 632.88,35.69 632.94,33.36 633,34.02 633.06,35.97 633.12,36.83 633.19,35.2 633.25,41.89 633.31,43.4 633.37,45.25 633.43,44.65 633.49,50.21 633.55,51.64 633.62,56.17 633.68,61.63 633.74,66.02 633.8,69.39 633.86,72.26 633.92,77.35 633.98,80.51 634.05,85.05 634.11,86.39 634.17,87.94 634.23,91.61 634.29,94.57 634.35,90.3 634.41,95.71 634.47,97.91 634.54,95.5 634.6,94.49 634.66,95.79 634.72,92.65 634.78,92.01 634.84,89.39 634.9,83.69 634.97,80.29 635.03,78.36 635.09,73.67 635.15,70.48 635.21,66.68 635.27,64.04 635.33,57.08 635.4,53.64 635.46,52.34 635.52,47.11 635.58,44.64 635.64,41.57 635.7,39.16 635.76,35.88 635.83,35.38 635.89,39.19 635.95,35.82 636.01,36.29 636.07,40.11 636.13,37 636.19,41.19 636.26,39.08 636.32,41.93 636.38,48 636.44,49.64 636.5,50.28 636.56,56.42 636.62,59.26 636.69,64.19 636.75,67.87 636.81,71.04 636.87,74.65 636.93,77.21 636.99,82.12 637.05,87.45 637.12,88.84 637.18,94.22 637.24,92.79 637.3,92.46 637.36,98.26 637.42,95.17 637.48,94.73 637.54,99.24 637.61,95.94 637.67,93.49 637.73,90.33 637.79,89.71 637.85,87.92 637.91,83.86 637.97,78.45 638.04,76.6 638.1,72.83 638.16,70.41 638.22,66.28 638.28,61.55 638.34,56.89 638.4,51.33 638.47,46.86 638.53,44.82 638.59,44.37 638.65,39.8 638.71,40.92 638.77,36.27 638.83,33.29 638.9,38.62 638.96,35.67 639.02,37.98 639.08,40.07 639.14,36.47 639.2,36.88 639.26,44.11 639.33,46.54 639.39,46.82 639.45,50.71 639.51,55.97 639.57,59.04 639.63,62.65 639.69,64.55 639.76,69.08 639.82,73.05 639.88,76.1 639.94,81.23 640,81.72 640.06,89.32 640.12,88.72 640.19,92.43 640.25,93.83 640.31,95.42 640.37,94.92 640.43,100.02 640.49,94.16 640.55,94.54 640.61,95.22 640.68,91.23 640.74,89.79 640.8,90.46 640.86,82.71 640.92,82.66 640.98,76.73 641.04,74.73 641.11,71.64 641.17,67.61 641.23,63.46 641.29,59.71 641.35,54.46 641.41,52.48 641.47,47.53 641.54,42.22 641.6,41.34 641.66,40.15 641.72,40.45 641.78,37.83 641.84,39.14 641.9,32.19 641.97,37.15 642.03,37.24 642.09,35.05 642.15,40.07 642.21,35.76 642.27,41.99 642.33,44.56 642.4,47.32 642.46,52.48 642.52,56.51 642.58,57.7 642.64,63.79 642.7,66.2 642.76,71.07 642.83,74.1 642.89,78.62 642.95,83.63 643.01,84.16 643.07,87.25 643.13,92.43 643.19,92.67 643.26,93.89 643.32,93.63 643.38,95.92 643.44,98.01 643.5,93.34 643.56,95.24 643.62,92.69 643.68,90.42 643.75,87.82 643.81,86.23 643.87,81.15 643.93,81.96 643.99,74.93 644.05,73.67 644.11,68.73 644.18,66.02 644.24,60.22 644.3,55.98 644.36,55.14 644.42,50.08 644.48,46.08 644.54,44.63 644.61,42.49 644.67,40.05 644.73,39.17 644.79,34.81 644.85,35.45 644.91,34.08 644.97,35.01 645.04,37.49 645.1,39.16 645.16,38.42 645.22,41.05 645.28,42.74 645.34,47.66 645.4,49.05 645.47,54.56 645.53,57.59 645.59,62.57 645.65,65.98 645.71,68.78 645.77,73.02 645.83,76.49 645.9,80.21 645.96,85.35 646.02,90.59 646.08,86.83 646.14,93.84 646.2,92.3 646.26,93.57 646.33,98.9 646.39,92.95 646.45,94.24 646.51,94.8 646.57,95.68 646.63,91.39 646.69,86.19 646.75,88.06 646.82,82.89 646.88,84.7 646.94,79.03 647,76.58 647.06,72.71 647.12,64.62 647.18,61.59 647.25,57.78 647.31,57.07 647.37,51.81 647.43,47.68 647.49,45.58 647.55,42.94 647.61,39.08 647.68,37.56 647.74,38.53 647.8,37.42 647.86,34.56 647.92,35.21 647.98,34.71 648.04,34.96 648.11,37.59 648.17,40.77 648.23,39.81 648.29,43.66 648.35,49.32 648.41,51.27 648.47,55.38 648.54,60.36 648.6,63.7 648.66,68.26 648.72,69.13 648.78,75.14 648.84,80.34 648.9,81.78 648.97,83.42 649.03,89.66 649.09,87.48 649.15,92.87 649.21,93.84 649.27,96.5 649.33,95.93 649.4,95.23 649.46,95.51 649.52,92.72 649.58,94.03 649.64,90.36 649.7,90.49 649.76,87.6 649.82,83.79 649.89,81.83 649.95,79.59 650.01,72.01 650.07,70.46 650.13,66.6 650.19,62.8 650.25,56.83 650.32,53.64 650.38,49.77 650.44,47.7 650.5,42.47 650.56,42.05 650.62,39.84 650.68,40.96 650.75,39.19 650.81,38.04 650.87,33.7 650.93,33.75 650.99,38.14 651.05,32.75 651.11,36.45 651.18,40.78 651.24,41.82 651.3,46.12 651.36,47.55 651.42,52.95 651.48,54.64 651.54,60.61 651.61,64.5 651.67,67.56 651.73,72.91 651.79,75.51 651.85,81.87 651.91,81.86 651.97,86.38 652.04,86.74 652.1,91.61 652.16,94.04 652.22,91.29 652.28,94.19 652.34,97.29 652.4,98.3 652.47,96.03 652.53,92.82 652.59,93.55 652.65,85.15 652.71,85.55 652.77,87.33 652.83,85.5 652.89,78.8 652.96,72.94 653.02,70.46 653.08,66.06 653.14,64.66 653.2,59.53 653.26,56.76 653.32,48.99 653.39,47.83 653.45,48.29 653.51,45.36 653.57,40.62 653.63,39.65 653.69,40.29 653.75,34.93 653.82,33.82 653.88,35.23 653.94,34.98" fill="none" stroke="#bf2f3b" stroke-width="0.85" stroke-linejoin="round"/>
<polyline points="623.67,42.47 623.73,45.92 623.79,43.16 623.85,36.17 623.91,35.79 623.98,38.96 624.04,34.71 624.1,36.77 624.16,35.02 624.22,38.63 624.28,38.92 624.34,42.45 624.41,42.62 624.47,46.88 624.53,47.74 624.59,52.8 624.65,58.55 624.71,60.64 624.77,62.72 624.84,68.02 624.9,71.11 624.96,75.85 625.02,78.48 625.08,84.49 625.14,84.6 625.2,89.84 625.26,87.68 625.33,93.36 625.39,95.03 625.45,97.8 625.51,93.84 625.57,93.9 625.63,95.11 625.69,96.54 625.76,91.17 625.82,88.32 625.88,88.08 625.94,85.35 626,78.81 626.06,78.53 626.12,74.8 626.19,71.22 626.25,68.24 626.31,65.12 626.37,60.61 626.43,54.91 626.49,52.35 626.55,48.47 626.62,46.51 626.68,43.74 626.74,42.29 626.8,38.93 626.86,37.34 626.92,37.17 626.98,32.6 627.05,36.26 627.11,35.15 627.17,36.01 627.23,35.1 627.29,36.78 627.35,44.05 627.41,47.22 627.48,48.33 627.54,51.76 627.6,55.15 627.66,58.32 627.72,63.49 627.78,67.66 627.84,72.02 627.91,75.95 627.97,77.53 628.03,81.81 628.09,80.89 628.15,86.32 628.21,88.29 628.27,92.2 628.33,96.15 628.4,93.8 628.46,94.03 628.52,95.06 628.58,95.5 628.64,96.62 628.7,95.11 628.76,92.6 628.83,88.34 628.89,85.93 628.95,82.45 629.01,81.76 629.07,80.16 629.13,72.89 629.19,71.1 629.26,67.78 629.32,63.43 629.38,59.56 629.44,53.28 629.5,52.01 629.56,49.77 629.62,45.96 629.69,42.1 629.75,40.96 629.81,40.47 629.87,39.36 629.93,36.22 629.99,38.64 630.05,36.68 630.12,41.13 630.18,38.86 630.24,38.63 630.3,39.23 630.36,45.62 630.42,46.25 630.48,48.29 630.55,52.5 630.61,55.37 630.67,61.17 630.73,65.48 630.79,68.99 630.85,73.32 630.91,75.57 630.98,79.01 631.04,82.14 631.1,85.39 631.16,86.73 631.22,86.54 631.28,93.85 631.34,93.3 631.4,96.49 631.47,96.52 631.53,94.95 631.59,94.53 631.65,94.15 631.71,87.46 631.77,90.37 631.83,86.74 631.9,85.03 631.96,83.74 632.02,79.81 632.08,74.05 632.14,72.97 632.2,67.07 632.26,63.98 632.33,58.91 632.39,58.07 632.45,51.33 632.51,48.1 632.57,42.1 632.63,44.76 632.69,37.77 632.76,38.39 632.82,38 632.88,34.84 632.94,34.17 633,34.33 633.06,36.07 633.12,38.17 633.19,40.44 633.25,35.52 633.31,40.64 633.37,43.27 633.43,46.35 633.49,49.76 633.55,54.36 633.62,58.45 633.68,60.73 633.74,65.8 633.8,69.57 633.86,76.41 633.92,76.83 633.98,82.13 634.05,85.21 634.11,85.5 634.17,92.17 634.23,91.94 634.29,92.2 634.35,93.51 634.41,94.95 634.47,97.53 634.54,96.36 634.6,97.81 634.66,94.03 634.72,94.6 634.78,88.12 634.84,87.29 634.9,87.27 634.97,82.13 635.03,78.04 635.09,74.95 635.15,70.48 635.21,63.82 635.27,63.61 635.33,58.22 635.4,55.91 635.46,52.64 635.52,48.79 635.58,46.48 635.64,45.74 635.7,40.8 635.76,38.22 635.83,34.69 635.89,34.75 635.95,38.66 636.01,38.36 636.07,34.13 636.13,38.34 636.19,36.96 636.26,41.1 636.32,43.73 636.38,50.58 636.44,47.34 636.5,53.57 636.56,58.24 636.62,58.13 636.69,64.63 636.75,66.59 636.81,72.4 636.87,74.24 636.93,81.08 636.99,81.9 637.05,88.71 637.12,89.42 637.18,87.92 637.24,94.19 637.3,97.13 637.36,93.35 637.42,97.72 637.48,97.62 637.54,94.66 637.61,90.18 637.67,93.68 637.73,89.25 637.79,88.14 637.85,84.99 637.91,81.35 637.97,82.15 638.04,74.33 638.1,71.63 638.16,67.63 638.22,64.92 638.28,60.32 638.34,57.78 638.4,52.6 638.47,52.27 638.53,43.86 638.59,43.74 638.65,38.99 638.71,36.56 638.77,37.82 638.83,38.51 638.9,37.01 638.96,36.05 639.02,33.93 639.08,37.38 639.14,38.79 639.2,38.7 639.26,41.41 639.33,46.63 639.39,46.23 639.45,49.07 639.51,54.1 639.57,58.12 639.63,60.57 639.69,64.76 639.76,69.97 639.82,74.86 639.88,79.29 639.94,80.56 640,83.97 640.06,88.46 640.12,89.03 640.19,89.71 640.25,95.91 640.31,92.79 640.37,97.43 640.43,94.99 640.49,94.79 640.55,95.34 640.61,93.01 640.68,92.49 640.74,87.53 640.8,87.54 640.86,85.17 640.92,81.39 640.98,78.53 641.04,74.71 641.11,71.02 641.17,68.42 641.23,61.05 641.29,60.2 641.35,58.06 641.41,51.12 641.47,51.8 641.54,42.41 641.6,41.25 641.66,38.79 641.72,32.52 641.78,36.05 641.84,36.41 641.9,33.16 641.97,36.84 642.03,39.03 642.09,38.56 642.15,40.31 642.21,38.99 642.27,41.61 642.33,47.53 642.4,50.4 642.46,49.75 642.52,55.21 642.58,59.74 642.64,64.87 642.7,67.06 642.76,69.9 642.83,76.79 642.89,77.35 642.95,85.27 643.01,86.21 643.07,83.36 643.13,87.43 643.19,90.12 643.26,92.07 643.32,95.9 643.38,93.48 643.44,97.7 643.5,97.16 643.56,95.18 643.62,94.95 643.68,87.47 643.75,86.9 643.81,85.06 643.87,84.62 643.93,80.08 643.99,75.39 644.05,73.05 644.11,69.56 644.18,65.62 644.24,61.77 644.3,57.76 644.36,54.63 644.42,49.28 644.48,45.18 644.54,41.63 644.61,40.43 644.67,41.7 644.73,40.23 644.79,33.75 644.85,35.58 644.91,36.06 644.97,37.61 645.04,39.95 645.1,39 645.16,41.17 645.22,43.06 645.28,44.97 645.34,46.42 645.4,49.06 645.47,57.63 645.53,57.65 645.59,63.24 645.65,65.01 645.71,68.18 645.77,74.19 645.83,76.56 645.9,80.56 645.96,80.52 646.02,85.47 646.08,90.44 646.14,89.88 646.2,90.67 646.26,94.11 646.33,97.41 646.39,96.04 646.45,97.72 646.51,96.47 646.57,94.86 646.63,89.52 646.69,94.57 646.75,88.46 646.82,84.59 646.88,81.72 646.94,76.63 647,76.02 647.06,72.88 647.12,66.94 647.18,62.08 647.25,59.2 647.31,54.92 647.37,50.34 647.43,47.66 647.49,43.99 647.55,42.62 647.61,40.72 647.68,35.62 647.74,39.9 647.8,30.57 647.86,36.24 647.92,36.86 647.98,40.23 648.04,36.34 648.11,44.8 648.17,41.41 648.23,40.55 648.29,42.6 648.35,50.35 648.41,51.13 648.47,53.88 648.54,57.92 648.6,63.45 648.66,68.05 648.72,69.57 648.78,74.22 648.84,77.32 648.9,81.41 648.97,84.24 649.03,85.73 649.09,91.91 649.15,91.23 649.21,94.49 649.27,93.92 649.33,98.44 649.4,99.74 649.46,95.62 649.52,92.99 649.58,93.82 649.64,90.55 649.7,88.51 649.76,83.3 649.82,82.48 649.89,80.04 649.95,77.75 650.01,72.49 650.07,69.78 650.13,63.87 650.19,61.47 650.25,56.51 650.32,53.79 650.38,53.26 650.44,49.39 650.5,45.22 650.56,41.13 650.62,42.83 650.68,42.06 650.75,36.33 650.81,36.05 650.87,35.49 650.93,37.48 650.99,41.73 651.05,34.58 651.11,40.28 651.18,39.59 651.24,42.75 651.3,44.85 651.36,50.85 651.42,53.2 651.48,56.96 651.54,60.3 651.61,65.99 651.67,68.93 651.73,73.88 651.79,76.9 651.85,79.92 651.91,80.2 651.97,87.99 652.04,88.54 652.1,92.54 652.16,92 652.22,93.14 652.28,92.72 652.34,95.24 652.4,94.03 652.47,95.8 652.53,95.89 652.59,91.39 652.65,89.69 652.71,92.2 652.77,86.33 652.83,82.13 652.89,80.04 652.96,74.16 653.02,73.27 653.08,66.46 653.14,62.53 653.2,59.5 653.26,55.53 653.32,50.79 653.39,50.5 653.45,44.15 653.51,41.4 653.57,34.92 653.63,39.5 653.69,36.83 653.75,36.53 653.82,32.05 653.88,36.35 653.94,34.72" fill="none" stroke="#bf2f3b" stroke-width="0.6" stroke-linejoin="round" stroke-opacity="0.55"/>
<polygon points="347,59.05 347.5,58.76 348,59.33 348.5,58.92 349,59.57 349.5,56.44 350,59.8 350.5,56.99 351,59.32 351.5,59.57 352,59.27 352.5,59.42 353,58.85 353.5,58.67 354,57.76 354.5,59.41 355,56.59 355.5,59.03 356,59.42 356.5,58.99 357,59.91 357.5,59.85 358,58.77 358.5,59.32 359,57.96 359.5,59.55 360,59.46 360.5,58.73 361,59.56 361.5,59.98 362,59.8 362.5,59.03 363,59.48 363.5,58.7 364,60.16 364.5,59.33 365,60 365.5,59.91 366,57.13 366.5,58.74 367,56.56 367.5,58.62 368,58.19 368.5,60.27 369,60.16 369.5,60.29 370,59.56 370.5,59.5 371,60.51 371.5,60.28 372,59.59 372.5,60.51 373,60.44 373.5,59.52 374,58.63 374.5,57.66 375,59.82 375.5,59.24 376,59.71 376.5,59.55 377,60.03 377.5,57.47 378,58.83 378.5,58.55 379,59.27 379.5,57.98 380,57.97 380.5,57.95 381,58.46 381.5,57.59 382,57.24 382.5,58.02 383,58.25 383.5,57.05 384,58.22 384.5,58.29 385,58.98 385.5,58.88 386,57.12 386.5,58.49 387,59.22 387.5,57.82 388,58.62 388.5,56.13 389,58.15 389.5,57.96 390,58.5 390.5,58.78 391,53.48 391.5,58.36 392,56.84 392.5,58.78 393,56.01 393.5,58.74 394,57.83 394.5,58.68 395,58.75 395.5,57.46 396,56.3 396.5,58.22 397,57.34 397.5,57.83 398,58.36 398.5,56.47 399,56.97 399.5,58.53 400,58.08 400.5,57.63 401,57.65 401.5,58.74 402,53.55 402.5,58.82 403,57.53 403.5,57.67 404,58.79 404.5,58.39 405,58.81 405.5,59.2 406,58.47 406.5,58.02 407,57.96 407.5,54.89 408,59.34 408.5,59.63 409,59.41 409.5,60.07 410,59.62 410.5,57.39 411,58.97 411.5,59.61 412,59.41 412.5,54.33 413,59.57 413.5,59.02 414,58.26 414.5,59.03 415,59.25 415.5,58.83 416,60.22 416.5,59.79 417,58.97 417.5,59.48 418,57.93 418.5,60 419,59.64 419.5,59.96 420,59.13 420.5,59.77 421,56.54 421.5,59.35 422,57.65 422.5,58.76 423,59.37 423.5,59.42 424,59.99 424.5,60.26 425,60.5 425.5,60.64 426,58.49 426.5,60.27 427,60.56 427.5,59.44 428,60.24 428.5,59.83 429,58.32 429.5,60.55 430,59.91 430.5,60.71 431,60.42 431.5,60.23 432,60.57 432.5,60.77 433,60.57 433.5,59.29 434,59.7 434.5,60.39 435,60.63 435.5,58.62 436,59.41 436.5,56.75 437,60.22 437.5,58.53 438,60.61 438.5,60.35 439,60.03 439.5,59.72 440,59.1 440.5,59.09 441,57.65 441.5,59.22 442,58.8 442.5,59.1 443,58.51 443.5,59.3 444,58.86 444.5,56.45 445,58.35 445.5,58.91 446,57.65 446.5,58.5 447,58.91 447.5,57.35 448,58.92 448.5,57.33 449,57.13 449.5,58.02 450,58.44 450.5,56.99 451,58.81 451.5,58.55 452,57.65 452.5,57.91 453,58.12 453.5,53.94 454,58.21 454.5,58.76 455,58.39 455.5,57.52 456,58.85 456.5,57.52 457,56.27 457.5,58.12 458,58.92 458.5,58.73 459,58.62 459.5,58.47 460,58.64 460.5,57.32 461,58.19 461.5,58.72 462,59.07 462.5,58.86 463,58.8 463.5,57.64 464,58.7 464.5,56.61 465,58.3 465.5,58.11 466,57.58 466.5,59.16 467,58.26 467.5,59.01 468,58.26 468.5,57.57 469,58.67 469.5,59.14 470,58.39 470.5,59.47 471,59.93 471.5,59.65 472,59.5 472.5,60.06 473,59.17 473.5,57.36 474,59.74 474.5,60.13 475,58.84 475.5,59.98 476,60.02 476.5,60 477,60.09 477.5,59.5 478,59.14 478.5,59.75 479,58.43 479.5,58.97 480,59.4 480.5,59 481,58.3 481.5,59.39 482,59.16 482.5,59.53 483,59.44 483.5,55.48 484,58.97 484.5,59.19 485,57.38 485.5,59.93 486,58.09 486.5,57.76 487,59.69 487.5,58.51 488,58.06 488.5,57.84 489,58.87 489.5,59.93 490,59.9 490.5,56.59 491,58.2 491.5,55.72 492,59.09 492.5,58.53 493,60.16 493.5,59 494,59.84 494.5,59.51 495,60.17 495.5,57.93 496,59.62 496.5,59.84 497,59.9 497.5,60.41 498,57.63 498.5,59.81 499,60.03 499.5,59.84 500,58.22 500.5,58.94 501,59.05 501.5,55.39 502,58.33 502.5,58.75 503,57.56 503.5,57.54 504,58.5 504.5,58.69 505,53.83 505.5,58.57 506,58.46 506.5,55.82 507,58.46 507.5,58.51 508,56.67 508.5,57.97 509,57.8 509.5,58.29 510,57.02 510.5,58.6 511,56.87 511.5,58.39 512,58.22 512.5,58.53 513,56.73 513.5,56.81 514,56.35 514.5,58.18 515,58.36 515.5,56.74 516,57.94 516.5,56.85 517,57.98 517.5,57.85 518,58.28 518.5,56.78 519,58.02 519.5,58.38 520,57.24 520.5,57.65 521,57.91 521.5,56.41 522,57.7 522.5,57.27 523,57.83 523.5,56.82 524,55.59 524.5,56.94 525,57.93 525.5,56.09 526,57.52 526.5,58.43 527,58.58 527.5,58.61 528,57.3 528.5,51.74 529,57.29 529.5,58.98 530,58.25 530.5,57.09 531,59 531.5,59.86 532,59.81 532.5,60.13 533,60.22 533.5,60.13 534,58.33 534.5,59.3 535,59.81 535.5,58.31 536,58.2 536.5,59.81 537,59.45 537.5,59.89 538,60.02 538.5,59.53 539,60.12 539.5,59.37 540,59.92 540.5,59.48 541,59.13 541.5,59.45 542,58.24 542.5,59.4 543,59.39 543.5,60 544,59.22 544.5,57.59 545,57.87 545.5,60.1 546,58.51 546.5,58.95 547,58.36 547.5,57.89 548,59.24 548.5,59.36 549,58.38 549.5,58.84 550,60.05 550.5,59.13 551,59.98 551.5,59.18 552,59.89 552.5,60.25 553,59.99 553.5,60.47 554,58.64 554.5,59.95 555,60.2 555.5,59.95 556,59.18 556.5,59.71 557,60.13 557.5,59.31 558,59.45 558.5,57.95 559,60.26 559.5,59.47 560,59.51 560.5,59.2 561,60.28 561.5,59.69 562,59.72 562.5,58.96 563,57.04 563.5,59.01 564,57.95 564.5,56.62 565,57.97 565.5,58.08 566,56.33 566.5,57.05 567,58.03 567.5,56.8 568,57.95 568.5,58.13 569,57.49 569.5,57.01 570,58.08 570.5,57.27 571,57.72 571.5,57.82 572,56.42 572.5,58.34 573,58.38 573.5,57.26 574,57.62 574.5,53.68 575,57.5 575.5,56.37 576,57.83 576.5,58.56 577,57.62 577.5,58.36 578,58.23 578.5,55.51 579,58.28 579.5,58.45 580,58.6 580.5,56.75 581,59.01 581.5,58.66 582,58.98 582.5,58.94 583,58.27 583.5,58.75 584,57.29 584.5,58.19 585,58.82 585.5,58.77 586,58.74 586.5,58.33 587,57.46 587.5,55.34 588,58.86 588.5,57.58 589,58.71 589.5,57.09 590,57.85 590.5,58.32 591,57.86 591.5,56.8 592,58.45 592.5,57.09 593,58.54 593.5,57.14 594,58.49 594.5,59.09 595,59.31 595.5,58.32 596,58.2 596.5,59.98 597,58.49 597.5,59.79 598,59.44 598.5,60.38 599,57.1 599.5,59.9 600,59.49 600.5,58.33 601,59.81 601.5,60.23 602,60.36 602.5,58.85 603,60.47 603.5,60.69 604,58.91 604.5,60.9 605,59.6 605.5,60.55 606,60.77 606.5,58.58 607,58.07 607.5,59.24 608,60.36 608.5,60.75 609,60.5 609.5,60.29 610,59.05 610.5,55.11 611,60.35 611.5,60.39 612,60.37 612.5,59.49 613,60.12 613.5,60.19 614,60.12 614.5,58.65 615,60.07 615.5,59.38 616,60.31 616.5,60.27 617,60.17 617.5,60.23 618,60.3 618.5,59.2 619,60.54 619.5,60.34 620,60.01 620.5,59.28 621,60.51 621.5,59.74 622,59.97 622.5,59.72 623,58.07 623.5,59.35 624,58.73 624.5,58.55 625,57.86 625.5,57.63 626,58.62 626.5,56.95 627,57.87 627.5,58.97 628,59.34 628.5,57.57 629,57.9 629.5,58.34 630,59.18 630.5,58.23 631,58.85 631.5,59.19 632,58.47 632.5,59.42 633,56.48 633.5,58.4 634,58.89 634.5,59.05 635,59.1 635.5,57.89 636,58.4 636.5,59.16 637,58.42 637.5,59.46 638,58.95 638.5,59.06 639,58.67 639.5,58.94 640,59.21 640.5,59.04 641,58.92 641.5,58.29 642,58.89 642.5,58.89 643,57.96 643.5,57.23 644,57.59 644.5,58.57 645,58.79 645.5,57.98 646,57.67 646.5,58.51 647,57.61 647.5,55.45 648,58.06 648.5,57.9 649,57.59 649.5,57.75 650,57.86 650.5,58.6 651,58.53 651.5,58.6 652,58.58 652.5,59.01 653,57.97 653.5,58.75 654,59.06 654.5,58.82 655,59.42 655.5,60.02 656,59.34 656.5,57.41 657,59.92 657.5,58.37 658,59.43 658.5,59.61 659,59.35 659.5,57.86 660,58.59 660.5,59.82 661,56.98 661.5,58.33 662,60.13 662.5,57.37 663,59.32 663.5,59.86 664,57.47 664.5,59.49 665,58.44 665.5,59.56 666,58.82 666.5,59.4 667,60.26 667.5,60.29 668,60.34 668.5,59.9 669,60.2 669.5,60.21 670,58.61 670.5,60.13 671,57.7 671.5,57.46 672,59.61 672.5,59.97 673,59.93 673.5,60.1 674,59.95 674.5,57.28 675,59.9 675.5,59.19 676,60.08 676,71.56 675.5,71.24 675,72.04 674.5,72.03 674,71.29 673.5,71.14 673,71.4 672.5,71.31 672,72.05 671.5,71.11 671,71.77 670.5,71.14 670,73.09 669.5,71.45 669,72.81 668.5,72.85 668,71.86 667.5,71.33 667,71.42 666.5,71.75 666,74.08 665.5,70.86 665,71.41 664.5,71.93 664,72.73 663.5,71.09 663,72.02 662.5,72.17 662,72.13 661.5,71.58 661,73.99 660.5,72.27 660,71.92 659.5,70.88 659,71.25 658.5,71.14 658,70.73 657.5,72.66 657,73.9 656.5,72.59 656,72.35 655.5,71.01 655,71.2 654.5,72.16 654,72.21 653.5,72.42 653,72.41 652.5,76.11 652,72.82 651.5,73.82 651,72.25 650.5,72.36 650,72.83 649.5,72.2 649,73.48 648.5,72.38 648,72.63 647.5,72.05 647,72.59 646.5,72.21 646,72.83 645.5,72.94 645,72.85 644.5,72.45 644,73.23 643.5,73.61 643,72.38 642.5,75.63 642,73.99 641.5,72.83 641,73.7 640.5,73.01 640,72.62 639.5,72.53 639,73.54 638.5,73.2 638,73.98 637.5,75.67 637,74 636.5,73.2 636,73.35 635.5,72.84 635,73.19 634.5,72.87 634,73.3 633.5,74.92 633,72.78 632.5,74.05 632,72.9 631.5,73.3 631,74.59 630.5,74.37 630,73.82 629.5,72.97 629,73.96 628.5,72.97 628,73.42 627.5,72.5 627,77.46 626.5,74.38 626,72.46 625.5,72.86 625,73.54 624.5,75.44 624,73.91 623.5,72.24 623,72.1 622.5,71.35 622,71.64 621.5,71.29 621,72.22 620.5,71.56 620,72.67 619.5,71.16 619,71.24 618.5,73.95 618,72.2 617.5,72.84 617,72.9 616.5,71.05 616,71.57 615.5,71 615,71.1 614.5,71.49 614,72.31 613.5,72.39 613,75.23 612.5,71.29 612,71.51 611.5,72.53 611,71.57 610.5,72.8 610,71.78 609.5,71.84 609,75.03 608.5,71.59 608,71.86 607.5,71.72 607,73.73 606.5,71.61 606,71.8 605.5,72.41 605,74.8 604.5,71.88 604,72.44 603.5,71.58 603,71.99 602.5,71.34 602,71.67 601.5,73.46 601,73.59 600.5,71.35 600,71.34 599.5,73.02 599,71.18 598.5,72.02 598,71 597.5,71.41 597,70.94 596.5,72.32 596,72.95 595.5,71.62 595,70.77 594.5,72.84 594,71.94 593.5,71.5 593,71.22 592.5,72.9 592,71.82 591.5,72.88 591,72.81 590.5,72.96 590,72.6 589.5,72.55 589,73.2 588.5,73.15 588,72.59 587.5,74.01 587,72.8 586.5,73.79 586,72.51 585.5,72.56 585,74.13 584.5,72.85 584,73.63 583.5,72.91 583,75.7 582.5,73.68 582,72.74 581.5,73.62 581,74.19 580.5,77.61 580,73.17 579.5,73.61 579,73.22 578.5,72.53 578,74.79 577.5,72.71 577,75.83 576.5,72.47 576,72.98 575.5,73.06 575,73.49 574.5,71.7 574,73.93 573.5,74.1 573,73.2 572.5,71.97 572,72.57 571.5,72.17 571,73.3 570.5,72.56 570,74.96 569.5,72.22 569,71.8 568.5,76.67 568,72.82 567.5,72.38 567,72.63 566.5,72.22 566,72.49 565.5,74.84 565,72.17 564.5,75.28 564,73.37 563.5,75.38 563,72.55 562.5,73.06 562,74.56 561.5,73.72 561,73.55 560.5,71.21 560,72.4 559.5,72.32 559,73.46 558.5,71.73 558,72.7 557.5,71.19 557,71.46 556.5,74.56 556,71.4 555.5,71.22 555,74.96 554.5,71.29 554,71.82 553.5,71.54 553,71.62 552.5,71.31 552,71.63 551.5,71.88 551,71 550.5,72.4 550,71.51 549.5,71.98 549,73.41 548.5,71.26 548,71.99 547.5,71.6 547,70.93 546.5,71.32 546,71.02 545.5,72.1 545,70.73 544.5,72.82 544,70.76 543.5,71.12 543,71.7 542.5,70.95 542,71.14 541.5,71.2 541,71.9 540.5,71.44 540,72.72 539.5,71.54 539,72.58 538.5,71.7 538,72.6 537.5,71.87 537,71.41 536.5,71.58 536,72.5 535.5,71.52 535,71.22 534.5,72.4 534,72.23 533.5,71.19 533,71.45 532.5,71.64 532,72 531.5,73.23 531,72.58 530.5,72.63 530,73.02 529.5,72.71 529,72.74 528.5,74.64 528,73.42 527.5,72.03 527,72.5 526.5,72.8 526,73.77 525.5,71.87 525,71.83 524.5,72.06 524,71.49 523.5,75.12 523,72.77 522.5,71.48 522,72.9 521.5,71.68 521,72.1 520.5,72.96 520,72.12 519.5,72.62 519,71.82 518.5,77.03 518,71.96 517.5,71.8 517,72.46 516.5,73.38 516,72.6 515.5,73.88 515,72.6 514.5,71.88 514,72.1 513.5,73.01 513,72.15 512.5,73.56 512,72.68 511.5,72.22 511,73.07 510.5,72.01 510,72.05 509.5,73.88 509,74.39 508.5,72.91 508,72.35 507.5,72.65 507,74.07 506.5,72.2 506,73.26 505.5,72.71 505,72.69 504.5,74.28 504,72.5 503.5,74.42 503,72.64 502.5,74.19 502,73.55 501.5,73.26 501,72.73 500.5,71.94 500,72.23 499.5,72.42 499,72.05 498.5,71.04 498,71.66 497.5,72.14 497,72.67 496.5,71.11 496,73.39 495.5,71.44 495,72.06 494.5,73.3 494,71.48 493.5,73.43 493,71.56 492.5,71.85 492,71.38 491.5,71.46 491,73.31 490.5,71.5 490,71.21 489.5,73.67 489,70.97 488.5,70.71 488,71.31 487.5,72.95 487,70.73 486.5,71 486,70.57 485.5,71.7 485,71.37 484.5,70.62 484,72.72 483.5,71.56 483,70.5 482.5,70.74 482,71.48 481.5,70.34 481,73.07 480.5,70.62 480,72.64 479.5,72.57 479,70.92 478.5,72.24 478,71.42 477.5,70.62 477,71.06 476.5,72.06 476,72.76 475.5,72.27 475,71.12 474.5,71.74 474,70.89 473.5,72.56 473,72.28 472.5,70.95 472,70.72 471.5,71.23 471,71.1 470.5,71.66 470,71.64 469.5,72.55 469,74.55 468.5,75.34 468,73.15 467.5,72.86 467,72.65 466.5,72.4 466,73.44 465.5,73.06 465,72.7 464.5,75.17 464,72.59 463.5,73.4 463,72.88 462.5,72.36 462,72.76 461.5,72.29 461,74.06 460.5,73.11 460,74.51 459.5,72.57 459,72.36 458.5,73.44 458,72.21 457.5,72.96 457,74.49 456.5,72.79 456,72.4 455.5,72.35 455,74.24 454.5,72.72 454,73.33 453.5,72.62 453,72.34 452.5,73.07 452,73.02 451.5,74.09 451,72.3 450.5,72.22 450,72.25 449.5,72.27 449,72.34 448.5,72.34 448,72.21 447.5,72.67 447,73.09 446.5,74.87 446,72.96 445.5,72.53 445,73.62 444.5,72.61 444,74.3 443.5,75.81 443,72.58 442.5,72.65 442,73.84 441.5,73.48 441,72.44 440.5,72.56 440,72.29 439.5,71.94 439,71.76 438.5,72.12 438,71.71 437.5,72.84 437,72.01 436.5,71.4 436,72.62 435.5,72.89 435,71.99 434.5,72.23 434,73.78 433.5,71.8 433,71.86 432.5,71.51 432,75.72 431.5,71.54 431,71.94 430.5,71.54 430,72.76 429.5,72.16 429,71.48 428.5,71.54 428,73.71 427.5,72.18 427,71.52 426.5,72.62 426,71.86 425.5,74.93 425,73.91 424.5,71.27 424,71.48 423.5,71.41 423,71.54 422.5,71.33 422,72.49 421.5,71.95 421,71.35 420.5,71.41 420,71.43 419.5,71.71 419,71.98 418.5,71.41 418,72.93 417.5,70.82 417,71.18 416.5,71.05 416,71.95 415.5,71.89 415,71.83 414.5,71.38 414,72.48 413.5,71.41 413,71.65 412.5,72.3 412,71.5 411.5,71.51 411,71.65 410.5,70.99 410,72.67 409.5,73.93 409,73.46 408.5,73.79 408,77.93 407.5,73.61 407,73.39 406.5,74.42 406,72.89 405.5,73.01 405,73.42 404.5,72.34 404,73.42 403.5,73.92 403,72.17 402.5,75.71 402,73.32 401.5,72.63 401,72.04 400.5,72.77 400,72.27 399.5,73.65 399,73.93 398.5,71.97 398,72.49 397.5,74.21 397,72.32 396.5,74.52 396,73.83 395.5,73.5 395,72.49 394.5,72.65 394,72.81 393.5,72.15 393,74.4 392.5,72.69 392,72.72 391.5,72.43 391,72.35 390.5,72.2 390,72.69 389.5,73.26 389,72.28 388.5,72.64 388,72.59 387.5,73.08 387,73.4 386.5,72.7 386,73.64 385.5,72.37 385,72.54 384.5,72.33 384,72.31 383.5,72.72 383,72.47 382.5,73.04 382,72.31 381.5,74.36 381,72.23 380.5,76.27 380,73.04 379.5,73.51 379,72.59 378.5,78.64 378,73.1 377.5,72.65 377,71.46 376.5,71.99 376,73.02 375.5,71.58 375,71.43 374.5,71.19 374,71.27 373.5,71.93 373,71.55 372.5,71.59 372,71.84 371.5,71.34 371,71.67 370.5,71.72 370,71.49 369.5,72.14 369,72.78 368.5,71.08 368,73.23 367.5,73.01 367,72.61 366.5,70.85 366,71.24 365.5,71.76 365,71.24 364.5,71.49 364,71.34 363.5,71.64 363,72 362.5,71.31 362,71.8 361.5,71.13 361,70.74 360.5,71.23 360,71.1 359.5,71.43 359,74.07 358.5,71.82 358,71.38 357.5,71.53 357,71.42 356.5,71.41 356,71.11 355.5,70.51 355,70.6 354.5,71.75 354,70.48 353.5,70.92 353,72.76 352.5,70.75 352,71.06 351.5,72.75 351,71.24 350.5,70.74 350,71.54 349.5,70.84 349,70.93 348.5,70.41 348,71.55 347.5,72.16 347,71.03" fill="#c0262e"/>
<line x1="346.7" y1="20.4" x2="346.7" y2="110.3" stroke="#7a7a7a" stroke-width="1"/>
<line x1="346.2" y1="110.3" x2="675.7" y2="110.3" stroke="#7a7a7a" stroke-width="1"/>
<line x1="346.7" y1="37.5" x2="350.3" y2="37.5" stroke="#7a7a7a" stroke-width="1"/>
<text x="343.3" y="40.1" font-size="8.2" fill="#333333" text-anchor="end" textLength="16.44" lengthAdjust="spacingAndGlyphs">0.05</text>
<line x1="346.7" y1="65.6" x2="350.3" y2="65.6" stroke="#7a7a7a" stroke-width="1"/>
<text x="343.3" y="68.2" font-size="8.2" fill="#333333" text-anchor="end" textLength="4.7" lengthAdjust="spacingAndGlyphs">0</text>
<line x1="346.7" y1="93.7" x2="350.3" y2="93.7" stroke="#7a7a7a" stroke-width="1"/>
<text x="343.3" y="96.3" font-size="8.2" fill="#333333" text-anchor="end" textLength="21.37" lengthAdjust="spacingAndGlyphs">−0.05</text>
<line x1="347" y1="110.3" x2="347" y2="106.7" stroke="#7a7a7a" stroke-width="1"/>
<text x="347" y="121" font-size="8.2" fill="#333333" text-anchor="middle" textLength="4.7" lengthAdjust="spacingAndGlyphs">0</text>
<line x1="408.4" y1="110.3" x2="408.4" y2="106.7" stroke="#7a7a7a" stroke-width="1"/>
<text x="408.4" y="121" font-size="8.2" fill="#333333" text-anchor="middle" textLength="4.7" lengthAdjust="spacingAndGlyphs">2</text>
<line x1="469.8" y1="110.3" x2="469.8" y2="106.7" stroke="#7a7a7a" stroke-width="1"/>
<text x="469.8" y="121" font-size="8.2" fill="#333333" text-anchor="middle" textLength="4.7" lengthAdjust="spacingAndGlyphs">4</text>
<line x1="531.2" y1="110.3" x2="531.2" y2="106.7" stroke="#7a7a7a" stroke-width="1"/>
<text x="531.2" y="121" font-size="8.2" fill="#333333" text-anchor="middle" textLength="4.7" lengthAdjust="spacingAndGlyphs">6</text>
<line x1="592.6" y1="110.3" x2="592.6" y2="106.7" stroke="#7a7a7a" stroke-width="1"/>
<text x="592.6" y="121" font-size="8.2" fill="#333333" text-anchor="middle" textLength="4.7" lengthAdjust="spacingAndGlyphs">8</text>
<line x1="654" y1="110.3" x2="654" y2="106.7" stroke="#7a7a7a" stroke-width="1"/>
<text x="654" y="121" font-size="8.2" fill="#333333" text-anchor="middle" textLength="9.39" lengthAdjust="spacingAndGlyphs">10</text>
<text x="511.5" y="133.5" font-size="8.9" fill="#2a2a2a" text-anchor="middle" textLength="32.8" lengthAdjust="spacingAndGlyphs">Time (s)</text>
<text x="316.4" y="64.9" font-size="8.9" fill="#2a2a2a" text-anchor="middle" textLength="52.3" lengthAdjust="spacingAndGlyphs" transform="rotate(-90 316.4 64.9)">Voltage (mV)</text>
<text x="-0.5" y="162.5" font-size="12" fill="#000" text-anchor="start" textLength="7.47" lengthAdjust="spacingAndGlyphs" font-weight="bold" stroke="#000" stroke-width="0.35">c</text>
<line x1="128.3" y1="167.5" x2="134.7" y2="167.5" stroke="#cccccc" stroke-width="1"/>
<text x="139.7" y="169.6" font-size="8" fill="#383838" text-anchor="start" textLength="33" lengthAdjust="spacingAndGlyphs">Individual</text>
<line x1="185" y1="167.5" x2="192.5" y2="167.5" stroke="#b82828" stroke-width="1"/>
<text x="197.3" y="169.6" font-size="8" fill="#383838" text-anchor="start" textLength="49.7" lengthAdjust="spacingAndGlyphs">Reconstructed</text>
<line x1="260" y1="167.5" x2="267.3" y2="167.5" stroke="#5050f8" stroke-width="1"/>
<text x="271.5" y="169.6" font-size="8" fill="#383838" text-anchor="start" textLength="33.8" lengthAdjust="spacingAndGlyphs">Simulated</text>
<polygon points="39.5,221.01 40,219 40.5,215.94 41,221.02 41.5,219.84 42,218.02 42.5,221.01 43,219.3 43.5,219.92 44,219.41 44.5,218.44 45,218.25 45.5,218.87 46,219.61 46.5,216.85 47,219.59 47.5,219.9 48,219.05 48.5,220.59 49,215.08 49.5,220.57 50,217.83 50.5,219.96 51,220.42 51.5,217.26 52,216.41 52.5,218.01 53,220.95 53.5,215.77 54,217.19 54.5,214.12 55,218.31 55.5,216.74 56,220.68 56.5,221.02 57,221.86 57.5,240.64 58,238.35 58.5,214.61 59,199.73 59.5,181.94 60,181.28 60.5,181.6 61,181.28 61.5,181.26 62,182.44 62.5,189.98 63,210.01 63.5,217.03 64,218.51 64.5,218.04 65,221.08 65.5,214.28 66,217.53 66.5,219.55 67,221.16 67.5,220.44 68,220.06 68.5,218.6 69,218.12 69.5,218.42 70,220.83 70.5,218.58 71,218.78 71.5,217.81 72,221.79 72.5,231.02 73,243.24 73.5,231.6 74,209.13 74.5,191.62 75,178.43 75.5,182.27 76,180.85 76.5,182.24 77,180.33 77.5,185.04 78,198.9 78.5,214.7 79,220.17 79.5,220.69 80,221.11 80.5,219.25 81,221.11 81.5,221.09 82,218.88 82.5,217.97 83,215.5 83.5,220.35 84,216.35 84.5,217.65 85,220.36 85.5,220.58 86,217.63 86.5,220.59 87,222.53 87.5,221.98 88,236.68 88.5,242.55 89,219.13 89.5,203.02 90,186.05 90.5,180.66 91,182.29 91.5,182.07 92,181.07 92.5,182.57 93,187.41 93.5,205.64 94,215.96 94.5,218.57 95,219.74 95.5,218.76 96,220.83 96.5,218.96 97,220.28 97.5,219.07 98,215.18 98.5,217.15 99,215.8 99.5,219.09 100,221.07 100.5,218.77 101,221 101.5,217.48 102,220.31 102.5,222.74 103,224.36 103.5,245.75 104,233.45 104.5,213.64 105,194.7 105.5,184.02 106,179.91 106.5,182.05 107,179.35 107.5,181.71 108,185.14 108.5,196.59 109,213.44 109.5,217.37 110,218.59 110.5,221.05 111,217.58 111.5,218.21 112,218.61 112.5,217.1 113,218.48 113.5,217.98 114,218.97 114.5,217.43 115,217.62 115.5,219.47 116,214.13 116.5,221.09 117,221.47 117.5,216.5 118,221.59 118.5,234.02 119,245.83 119.5,223.71 120,204.83 120.5,187.05 121,178.15 121.5,174.96 122,181.05 122.5,181.6 123,175 123.5,187.94 124,204.52 124.5,216.12 125,218.4 125.5,220.37 126,221.11 126.5,219.81 127,219.93 127.5,217.96 128,217.68 128.5,216.57 129,217.16 129.5,218.72 130,220.37 130.5,217.14 131,220.72 131.5,219.05 132,218.88 132.5,220.71 133,221.86 133.5,221.09 134,241.2 134.5,237.85 135,218.89 135.5,200.18 136,184.51 136.5,182.53 137,179.15 137.5,181.83 138,181.13 138.5,182.39 139,192.6 139.5,209.7 140,219.87 140.5,219.82 141,221.15 141.5,217.74 142,219.64 142.5,214.64 143,219.99 143.5,215.03 144,217.28 144.5,212.11 145,220.93 145.5,221.12 146,216.42 146.5,219.64 147,219.82 147.5,221.04 148,221.62 148.5,219.81 149,230.76 149.5,249.21 150,232.05 150.5,211.21 151,193.71 151.5,181.03 152,181.11 152.5,182.33 153,182.31 153.5,179.64 154,185.4 154.5,197.15 155,219.53 155.5,220.4 156,213.88 156.5,221.01 157,215.02 157.5,217.93 158,220.04 158.5,216.67 159,218.65 159.5,219.09 160,219.08 160.5,215.53 161,216.72 161.5,220.49 162,220.76 162.5,219.74 163,221.38 163.5,222.57 164,221.71 164.5,238.98 165,237.13 165.5,221.85 166,202.77 166.5,188.58 167,178.28 167.5,179.25 168,175.31 168.5,178.57 169,182.17 169.5,187.98 170,207.32 170.5,218.68 171,217.35 171.5,218.91 172,213.47 172.5,216 173,220.94 173.5,219.71 174,218.27 174.5,220.37 175,220.41 175.5,218.11 176,216.9 176.5,214.13 177,220.53 177.5,218.01 178,220.82 178.5,218.2 179,218.71 179.5,226.23 180,245.8 180.5,233.53 181,215.25 181.5,194.25 182,183.02 182.5,182.36 183,180.89 183.5,179.47 184,182.35 184.5,183.22 185,195.72 185.5,215.4 186,214.21 186.5,218.83 187,221.1 187.5,216.81 188,218.14 188.5,221.12 189,215.71 189.5,218.68 190,214.6 190.5,218.34 191,220.46 191.5,217.85 192,216 192.5,218.68 193,216.95 193.5,220.01 194,222.22 194.5,221.68 195,232.7 195.5,244.25 196,220.87 196.5,206.92 197,191.01 197.5,181.61 198,180.73 198.5,182.16 199,181.26 199.5,180.81 200,188.33 200.5,200.59 201,217.66 201.5,213.59 202,220.58 202.5,217.91 203,220.27 203.5,219.96 204,219.82 204.5,216.95 205,218.04 205.5,220.27 206,217.45 206.5,212.88 207,213.96 207.5,218.74 208,220.57 208.5,219.68 209,221.08 209.5,219.14 210,219.37 210.5,238.79 211,238.15 211.5,214.96 212,198.58 212.5,184.68 213,181.04 213.5,181.85 214,180.6 214.5,179.36 215,182.62 215.5,192.36 216,210.69 216.5,218.63 217,218.8 217.5,220.9 218,221.1 218.5,219.68 219,219.62 219.5,217.32 220,214.86 220.5,220.34 221,219.42 221.5,218.57 222,218.83 222.5,218.02 223,220.12 223.5,214.54 224,217.83 224.5,220.05 225,221 225.5,228.18 226,246.23 226.5,231.66 227,210.45 227.5,191.72 228,183.02 228.5,180.77 229,181.06 229.5,179.37 230,182.24 230.5,187.65 231,199.7 231.5,212.37 232,214.96 232.5,218.12 233,220.41 233.5,220.73 234,220.55 234.5,214.2 235,218.95 235.5,219.18 236,219.47 236.5,218.5 237,218.83 237.5,218.9 238,220.77 238.5,219.07 239,216.29 239.5,220 240,217.24 240.5,221.21 241,237.54 241.5,242.96 242,222.86 242.5,196.88 243,187.62 243.5,179.48 244,181.33 244.5,181.31 245,181.1 245.5,182.47 246,191.51 246.5,206.87 247,220.81 247.5,221 248,217.45 248.5,221.01 249,217.11 249.5,218.02 250,217.9 250.5,220.31 251,214.82 251.5,219.59 252,216.8 252.5,216.07 253,220.72 253.5,219.45 254,215.06 254.5,217.8 255,222.2 255.5,219.63 256,224.64 256.5,245.48 257,235.79 257.5,215.15 258,196.71 258.5,183.34 259,180.85 259.5,181.74 260,179.52 260.5,182.2 261,185.73 261.5,196.99 262,215.71 262.5,218.95 263,220.27 263.5,215.3 264,220.72 264.5,220.6 265,219.66 265.5,221.15 266,215.85 266.5,216.96 267,217.76 267.5,219.03 268,217.56 268.5,220.16 269,221.05 269.5,214.34 270,220.29 270.5,219.35 271,222.86 271.5,231.89 272,245.09 272.5,225.37 273,207.57 273.5,190.16 274,181.1 274.5,178.19 275,182.22 275.5,182.39 276,180.58 276.5,187.67 277,202.51 277.5,220.78 278,219.48 278.5,219.05 279,220.73 279.5,220.99 280,220.5 280.5,216.32 281,219.82 281.5,218.94 282,221.08 282.5,217.36 283,218.06 283.5,219.12 284,220.93 284.5,219.98 285,220.65 285.5,221.12 286,222.21 286.5,221.23 287,242.87 287.5,239.67 288,215.32 288.5,199.21 289,185.87 289.5,180.69 290,181.32 290.5,180.2 291,180.68 291.5,177.15 292,191.89 292.5,211.66 293,220.69 293.5,220.31 294,218.9 294.5,217.76 295,218.61 295.5,220.29 296,218.03 296.5,217.27 297,215.81 297.5,217.44 298,218.46 298.5,217.63 299,217.78 299.5,220.4 300,220.55 300.5,220.8 301,222.46 301.5,223.08 302,229.14 302.5,248.63 303,230.7 303.5,210.69 304,192.54 304.5,183.83 305,181.98 305.5,181.4 306,179.21 306.5,181.91 307,186.8 307.5,197.66 308,217.73 308.5,221.08 309,220.77 309.5,219.15 310,219.79 310.5,221.04 311,216.26 311.5,219.77 312,220.48 312.5,220.39 313,220.32 313.5,213.46 314,219.09 314.5,220.6 315,220.67 315.5,221.3 316,221.27 316.5,222.24 317,219.63 317.5,236.56 318,242.1 318.5,222.88 319,201.16 319.5,187.37 320,181.39 320.5,180.92 321,176.88 321.5,181.04 322,182.61 322.5,190.93 323,205.89 323.5,220.46 324,221.12 324.5,216.37 325,217.61 325.5,218.69 326,219.73 326.5,219.87 327,218.85 327.5,219.19 328,218.17 328.5,221.08 329,213.76 329.5,220.55 330,219.46 330.5,220.8 331,221.12 331.5,222.56 332,219.39 332.5,221.15 333,245.14 333.5,234.72 334,214.95 334.5,196.28 335,184.8 335.5,179.34 336,179.54 336.5,182.45 337,179.86 337.5,185.92 338,196.81 338.5,213.86 339,220.84 339.5,216.48 340,220.52 340.5,218.37 341,218.03 341.5,214.22 342,219.47 342.5,217.68 343,219.34 343.5,221.05 344,217.86 344.5,217.27 345,218.3 345.5,219.17 346,218.19 346.5,220.57 347,220.89 347.5,223.21 348,234.72 348.5,246.57 349,225.09 349.5,206.74 350,185.31 350.5,182.08 351,181.13 351.5,178.83 352,181.34 352.5,181.55 353,187.42 353.5,204.67 354,218.97 354.5,213.91 355,211.85 355.5,221.12 356,212.9 356.5,217.89 357,218.4 357.5,216.01 358,219.26 358.5,217.74 359,220.66 359.5,217.41 360,221.14 360.5,211.19 361,218.66 361.5,215.89 362,218.19 362.5,219.55 363,221.09 363.5,219.82 364,220.68 364.5,219.17 365,214.84 365.5,220.54 366,220.43 366.5,216.2 367,219 367.5,221.11 368,220.48 368.5,219.48 369,220.9 369.5,217.33 370,221.1 370.5,215.93 371,218.21 371.5,218.61 372,218.44 372.5,219.71 373,221.08 373.5,217.25 374,219.74 374.5,218.67 375,217.17 375.5,216.17 376,219.64 376,240.96 375.5,240.9 375,238.31 374.5,239.18 374,243.78 373.5,239.27 373,239.41 372.5,239.08 372,238.61 371.5,239.74 371,243.15 370.5,240.81 370,243.85 369.5,242.03 369,238.69 368.5,240.33 368,241.13 367.5,241.02 367,241.11 366.5,241.18 366,238.29 365.5,241 365,239.19 364.5,239.01 364,239.45 363.5,240.23 363,239.57 362.5,241.63 362,240.83 361.5,242.55 361,242.12 360.5,239.49 360,241.3 359.5,241.07 359,241.54 358.5,240.2 358,241.26 357.5,243.25 357,241.39 356.5,241.61 356,240.49 355.5,240.14 355,240.4 354.5,239.52 354,239.09 353.5,240.3 353,238.75 352.5,237.17 352,228.91 351.5,210.75 351,231.06 350.5,249.6 350,269.16 349.5,279.56 349,279.1 348.5,278.79 348,276.8 347.5,277.22 347,271.33 346.5,259.87 346,240.41 345.5,242.7 345,242.79 344.5,242.36 344,240.01 343.5,240.84 343,241.07 342.5,246.71 342,239.99 341.5,240.44 341,239.42 340.5,240.1 340,240.01 339.5,239.33 339,241.19 338.5,242.26 338,237.96 337.5,239.61 337,236.42 336.5,222.43 336,217.15 335.5,237.12 335,256.86 334.5,274.67 334,277.43 333.5,276.79 333,277.72 332.5,277.27 332,275.54 331.5,268.56 331,261.13 330.5,239.27 330,239.25 329.5,241.51 329,239.13 328.5,239.11 328,242.12 327.5,239.29 327,240.07 326.5,239.82 326,243.54 325.5,240.6 325,238.59 324.5,242.17 324,238.76 323.5,242.86 323,239.06 322.5,236.92 322,239.89 321.5,233.01 321,213.14 320.5,228.6 320,245.49 319.5,263.51 319,276.03 318.5,277.83 318,277.41 317.5,279.74 317,279.11 316.5,276.74 316,260.94 315.5,246.3 315,240.06 314.5,240.18 314,245.3 313.5,241.22 313,240.85 312.5,238.29 312,241.93 311.5,241.15 311,240.35 310.5,238.72 310,238.95 309.5,238.31 309,239.19 308.5,240.61 308,243.04 307.5,241.07 307,236.99 306.5,240.18 306,225.53 305.5,213.68 305,236.68 304.5,256.19 304,273.82 303.5,277.62 303,279.71 302.5,279.68 302,279.54 301.5,277.3 301,273.1 300.5,254.09 300,238.95 299.5,241.65 299,242.19 298.5,239.14 298,241.19 297.5,241.02 297,241.75 296.5,239.11 296,245.01 295.5,241.88 295,244.05 294.5,239.6 294,246.48 293.5,239.81 293,239 292.5,238.51 292,237.37 291.5,238.11 291,235.8 290.5,216.08 290,223.89 289.5,241.32 289,260.97 288.5,273.94 288,277.53 287.5,278.76 287,277.91 286.5,283.64 286,274.97 285.5,266.57 285,249.3 284.5,244.69 284,239.79 283.5,238.53 283,239.75 282.5,239.82 282,240.5 281.5,245.86 281,238.77 280.5,244.78 280,241.38 279.5,239.95 279,244.42 278.5,238.5 278,239.02 277.5,239.74 277,241.93 276.5,237.64 276,237.12 275.5,229.33 275,210.85 274.5,229.28 274,250.37 273.5,271.23 273,276.03 272.5,281.51 272,279.3 271.5,278.77 271,278.38 270.5,273.14 270,257.01 269.5,241.32 269,239.15 268.5,241.31 268,239 267.5,238.3 267,242.46 266.5,239.11 266,238.31 265.5,241.85 265,243.61 264.5,239.9 264,242.37 263.5,243.26 263,244.59 262.5,242.92 262,239.25 261.5,237.9 261,238.03 260.5,239.41 260,223.32 259.5,217.28 259,238.62 258.5,261.03 258,272.54 257.5,276.87 257,278.64 256.5,279.39 256,277.4 255.5,277.97 255,271.24 254.5,252.57 254,241.58 253.5,241.03 253,241.58 252.5,243.31 252,240.1 251.5,242.66 251,238.35 250.5,243.75 250,239.36 249.5,239.91 249,238.32 248.5,241.31 248,241.3 247.5,244.61 247,238.25 246.5,238.26 246,237.16 245.5,238.95 245,232.2 244.5,211.95 244,226.24 243.5,246.07 243,263.58 242.5,274.67 242,278.21 241.5,276.71 241,276.95 240.5,278.31 240,273.95 239.5,260.64 239,243.85 238.5,241.66 238,238.92 237.5,239.15 237,239.72 236.5,243.57 236,244.5 235.5,238.53 235,240.08 234.5,240.6 234,239.78 233.5,238.57 233,238.36 232.5,238.52 232,245.62 231.5,239.29 231,238.04 230.5,241.98 230,239.67 229.5,222.86 229,213.63 228.5,235.67 228,253.95 227.5,269.25 227,278.64 226.5,280.09 226,281.21 225.5,278.65 225,279.22 224.5,270.56 224,262.46 223.5,240.39 223,239.25 222.5,239.58 222,238.56 221.5,242.35 221,238.63 220.5,239.94 220,242.47 219.5,239.81 219,238.7 218.5,241.14 218,238.29 217.5,239.38 217,241.14 216.5,238.2 216,240.66 215.5,239.11 215,241.22 214.5,239.47 214,215.33 213.5,222.4 213,247.47 212.5,262.01 212,273.15 211.5,277.76 211,279.23 210.5,277.88 210,279.86 209.5,274.44 209,265.47 208.5,248.63 208,239.29 207.5,244.05 207,239.75 206.5,241.42 206,239.67 205.5,239.37 205,239.1 204.5,241.72 204,245.64 203.5,240.19 203,245.32 202.5,238.78 202,242.9 201.5,241.29 201,239.91 200.5,238 200,237.4 199.5,239.31 199,229.53 198.5,210.5 198,230.32 197.5,253.97 197,266.79 196.5,279.01 196,280.29 195.5,279.83 195,277.21 194.5,278.7 194,271.07 193.5,262.09 193,241.12 192.5,238.34 192,240.56 191.5,239.79 191,238.69 190.5,238.76 190,241.23 189.5,241.24 189,239.5 188.5,241.52 188,238.81 187.5,244.53 187,239.74 186.5,239.86 186,238.9 185.5,238.01 185,237.99 184.5,238.75 184,236.47 183.5,220.79 183,217.21 182.5,238.56 182,257.08 181.5,271.41 181,276.8 180.5,278.47 180,278.7 179.5,281.95 179,277.51 178.5,266.86 178,251.25 177.5,238.47 177,241.11 176.5,242.45 176,239.38 175.5,242.35 175,240.98 174.5,243.31 174,240.39 173.5,239.55 173,239.04 172.5,239.83 172,243.03 171.5,238.9 171,241.93 170.5,242.21 170,238.1 169.5,237.66 169,243.07 168.5,235.63 168,214.87 167.5,225.84 167,247.43 166.5,263.63 166,277.3 165.5,278.24 165,278.96 164.5,280.69 164,277.75 163.5,275.52 163,260.76 162.5,247.13 162,241.3 161.5,239.85 161,244.92 160.5,243.44 160,244.07 159.5,239.49 159,238.27 158.5,243.97 158,238.85 157.5,240.91 157,241.86 156.5,242.91 156,238.49 155.5,238.34 155,241.37 154.5,239.21 154,239.43 153.5,238.57 153,223.01 152.5,214.88 152,233.11 151.5,255.81 151,274.73 150.5,276.96 150,281.51 149.5,278.42 149,281.26 148.5,276.47 148,271.7 147.5,259.5 147,241.82 146.5,242.56 146,239.36 145.5,242.79 145,238.37 144.5,240.22 144,242.87 143.5,241.56 143,242.86 142.5,244.67 142,243.17 141.5,240.42 141,238.33 140.5,240.51 140,238.31 139.5,243.35 139,243.07 138.5,237.37 138,236.18 137.5,217.51 137,222.85 136.5,241.99 136,262.42 135.5,281.88 135,277.07 134.5,277.1 134,277.78 133.5,277.97 133,275.49 132.5,265.67 132,248.85 131.5,242.7 131,238.71 130.5,247.19 130,238.32 129.5,242.64 129,238.73 128.5,240.48 128,238.5 127.5,239.74 127,239.9 126.5,242.19 126,242.42 125.5,239.71 125,241.25 124.5,242.89 124,238.04 123.5,237.63 123,236.88 122.5,227.89 122,214.23 121.5,230.84 121,249.77 120.5,267.02 120,277.46 119.5,279.46 119,281.06 118.5,278.11 118,279.54 117.5,273.92 117,257.88 116.5,242.54 116,239.89 115.5,241.62 115,240.4 114.5,245.64 114,238.78 113.5,238.46 113,244.39 112.5,240.11 112,243.22 111.5,241.63 111,241.68 110.5,238.51 110,241.7 109.5,238.45 109,239.56 108.5,240.99 108,236.6 107.5,240.66 107,221.61 106.5,223.32 106,238.44 105.5,258.08 105,271.28 104.5,278.12 104,279.11 103.5,280.57 103,278.33 102.5,278.77 102,271.3 101.5,254.63 101,238.87 100.5,245.96 100,240.07 99.5,241.43 99,241.58 98.5,239.87 98,242.08 97.5,241.65 97,239.9 96.5,243.96 96,242.8 95.5,238.85 95,239.97 94.5,242.18 94,238.53 93.5,238.77 93,242.77 92.5,237.46 92,232.83 91.5,213.11 91,224.67 90.5,245.38 90,267.35 89.5,274.63 89,280.21 88.5,277.11 88,278.85 87.5,279.59 87,274.13 86.5,260.56 86,243.73 85.5,240.38 85,239.42 84.5,242.37 84,241.76 83.5,240.18 83,249.29 82.5,241.34 82,239.71 81.5,239.27 81,241.01 80.5,239.38 80,238.62 79.5,239.22 79,239.76 78.5,238.41 78,240.06 77.5,237.27 77,237.88 76.5,222.47 76,218.39 75.5,233.28 75,255.53 74.5,269.79 74,276.95 73.5,278.95 73,277.57 72.5,277.69 72,277.43 71.5,270.02 71,255.93 70.5,238.62 70,240.18 69.5,239.06 69,238.55 68.5,240.02 68,238.89 67.5,240.83 67,240.24 66.5,239.28 66,240.92 65.5,239.43 65,242.39 64.5,242.06 64,241.66 63.5,239.83 63,238.48 62.5,237.34 62,239.5 61.5,236.57 61,215.85 60.5,221.13 60,244.05 59.5,260.19 59,277.7 58.5,281.85 58,277.81 57.5,278.42 57,278.94 56.5,276.4 56,271.85 55.5,254.28 55,239.08 54.5,239.34 54,238.37 53.5,239.17 53,239.16 52.5,240.15 52,244.57 51.5,241.6 51,239.68 50.5,238.92 50,239.49 49.5,242.24 49,242.8 48.5,241.65 48,242.97 47.5,240.83 47,243.22 46.5,240.58 46,238.82 45.5,242.34 45,240.99 44.5,241.09 44,241.96 43.5,239.82 43,238.27 42.5,242.13 42,243.25 41.5,243.13 41,240.3 40.5,238.3 40,239.23 39.5,238.43" fill="#cfcfcf"/>
<polyline points="39.5,229.7 39.65,229.7 39.81,229.7 39.96,229.7 40.11,229.7 40.27,229.7 40.42,229.7 40.57,229.7 40.72,229.7 40.88,229.7 41.03,229.7 41.18,229.7 41.34,229.7 41.49,229.7 41.64,229.7 41.8,229.7 41.95,229.7 42.1,229.7 42.25,229.7 42.41,229.7 42.56,229.7 42.71,229.7 42.87,229.7 43.02,229.7 43.17,229.7 43.33,229.7 43.48,229.7 43.63,229.7 43.78,229.7 43.94,229.7 44.09,229.7 44.24,229.7 44.4,229.7 44.55,229.7 44.7,229.7 44.86,229.7 45.01,229.7 45.16,229.7 45.31,229.7 45.47,229.7 45.62,229.7 45.77,229.7 45.93,229.7 46.08,229.7 46.23,229.7 46.38,229.7 46.54,229.7 46.69,229.7 46.84,229.7 47,229.7 47.15,229.7 47.3,229.7 47.46,229.7 47.61,229.7 47.76,229.7 47.91,229.7 48.07,229.7 48.22,229.7 48.37,229.7 48.53,229.7 48.68,229.7 48.83,229.7 48.99,229.7 49.14,229.7 49.29,229.7 49.45,229.7 49.6,229.7 49.75,229.7 49.9,229.7 50.06,229.7 50.21,229.7 50.36,229.7 50.52,229.7 50.67,229.7 50.82,229.7 50.98,229.7 51.13,229.7 51.28,229.7 51.43,229.7 51.59,229.7 51.74,229.7 51.89,229.7 52.05,229.7 52.2,229.7 52.35,229.7 52.51,229.7 52.66,229.7 52.81,229.7 52.96,229.7 53.12,229.7 53.27,229.7 53.42,229.7 53.58,229.7 53.73,229.7 53.88,229.7 54.03,229.7 54.19,229.7 54.34,229.7 54.49,229.7 54.65,229.7 54.8,229.7 54.95,229.7 55.11,229.7 55.26,229.7 55.41,229.7 55.56,229.7 55.72,229.7 55.87,229.7 56.02,229.7 56.18,230.95 56.33,237.19 56.48,243.24 56.64,248.98 56.79,254.26 56.94,258.95 57.09,262.96 57.25,266.18 57.4,268.53 57.55,269.97 57.71,270.45 57.86,269.97 58.01,268.53 58.17,266.18 58.32,262.96 58.47,258.95 58.62,254.26 58.78,248.98 58.93,243.24 59.08,237.19 59.24,230.95 59.39,224.69 59.54,218.55 59.7,212.67 59.85,207.19 60,202.25 60.16,197.95 60.31,194.41 60.46,191.7 60.61,189.89 60.77,189.03 60.92,189.12 61.07,190.18 61.23,192.17 61.38,195.05 61.53,198.75 61.69,203.19 61.84,208.25 61.99,213.82 62.14,219.76 62.3,225.94 62.45,229.7 62.6,229.7 62.76,229.7 62.91,229.7 63.06,229.7 63.22,229.7 63.37,229.7 63.52,229.7 63.67,229.7 63.83,229.7 63.98,229.7 64.13,229.7 64.29,229.7 64.44,229.7 64.59,229.7 64.75,229.7 64.9,229.7 65.05,229.7 65.2,229.7 65.36,229.7 65.51,229.7 65.66,229.7 65.82,229.7 65.97,229.7 66.12,229.7 66.28,229.7 66.43,229.7 66.58,229.7 66.73,229.7 66.89,229.7 67.04,229.7 67.19,229.7 67.35,229.7 67.5,229.7 67.65,229.7 67.81,229.7 67.96,229.7 68.11,229.7 68.26,229.7 68.42,229.7 68.57,229.7 68.72,229.7 68.88,229.7 69.03,229.7 69.18,229.7 69.34,229.7 69.49,229.7 69.64,229.7 69.79,229.7 69.95,229.7 70.1,229.7 70.25,229.7 70.41,229.7 70.56,229.7 70.71,229.7 70.87,229.7 71.02,229.7 71.17,229.7 71.32,229.7 71.48,230.95 71.63,237.19 71.78,243.24 71.94,248.98 72.09,254.26 72.24,258.95 72.39,262.96 72.55,266.18 72.7,268.53 72.85,269.97 73.01,270.45 73.16,269.97 73.31,268.53 73.47,266.18 73.62,262.96 73.77,258.95 73.93,254.26 74.08,248.98 74.23,243.24 74.38,237.19 74.54,230.95 74.69,224.69 74.84,218.55 75,212.67 75.15,207.19 75.3,202.25 75.46,197.95 75.61,194.41 75.76,191.7 75.91,189.89 76.07,189.03 76.22,189.12 76.37,190.18 76.53,192.17 76.68,195.05 76.83,198.75 76.98,203.19 77.14,208.25 77.29,213.82 77.44,219.76 77.6,225.94 77.75,229.7 77.9,229.7 78.06,229.7 78.21,229.7 78.36,229.7 78.52,229.7 78.67,229.7 78.82,229.7 78.97,229.7 79.13,229.7 79.28,229.7 79.43,229.7 79.59,229.7 79.74,229.7 79.89,229.7 80.05,229.7 80.2,229.7 80.35,229.7 80.5,229.7 80.66,229.7 80.81,229.7 80.96,229.7 81.12,229.7 81.27,229.7 81.42,229.7 81.58,229.7 81.73,229.7 81.88,229.7 82.03,229.7 82.19,229.7 82.34,229.7 82.49,229.7 82.65,229.7 82.8,229.7 82.95,229.7 83.11,229.7 83.26,229.7 83.41,229.7 83.56,229.7 83.72,229.7 83.87,229.7 84.02,229.7 84.18,229.7 84.33,229.7 84.48,229.7 84.63,229.7 84.79,229.7 84.94,229.7 85.09,229.7 85.25,229.7 85.4,229.7 85.55,229.7 85.71,229.7 85.86,229.7 86.01,229.7 86.16,229.7 86.32,229.7 86.47,229.7 86.62,229.7 86.78,230.95 86.93,237.19 87.08,243.24 87.24,248.98 87.39,254.26 87.54,258.95 87.69,262.96 87.85,266.18 88,268.53 88.15,269.97 88.31,270.45 88.46,269.97 88.61,268.53 88.77,266.18 88.92,262.96 89.07,258.95 89.22,254.26 89.38,248.98 89.53,243.24 89.68,237.19 89.84,230.95 89.99,224.69 90.14,218.55 90.3,212.67 90.45,207.19 90.6,202.25 90.75,197.95 90.91,194.41 91.06,191.7 91.21,189.89 91.37,189.03 91.52,189.12 91.67,190.18 91.83,192.17 91.98,195.05 92.13,198.75 92.28,203.19 92.44,208.25 92.59,213.82 92.74,219.76 92.9,225.94 93.05,229.7 93.2,229.7 93.36,229.7 93.51,229.7 93.66,229.7 93.81,229.7 93.97,229.7 94.12,229.7 94.27,229.7 94.43,229.7 94.58,229.7 94.73,229.7 94.89,229.7 95.04,229.7 95.19,229.7 95.34,229.7 95.5,229.7 95.65,229.7 95.8,229.7 95.96,229.7 96.11,229.7 96.26,229.7 96.42,229.7 96.57,229.7 96.72,229.7 96.88,229.7 97.03,229.7 97.18,229.7 97.33,229.7 97.49,229.7 97.64,229.7 97.79,229.7 97.95,229.7 98.1,229.7 98.25,229.7 98.41,229.7 98.56,229.7 98.71,229.7 98.86,229.7 99.02,229.7 99.17,229.7 99.32,229.7 99.48,229.7 99.63,229.7 99.78,229.7 99.94,229.7 100.09,229.7 100.24,229.7 100.39,229.7 100.55,229.7 100.7,229.7 100.85,229.7 101.01,229.7 101.16,229.7 101.31,229.7 101.47,229.7 101.62,229.7 101.77,229.7 101.92,229.7 102.08,230.95 102.23,237.19 102.38,243.24 102.54,248.98 102.69,254.26 102.84,258.95 103,262.96 103.15,266.18 103.3,268.53 103.45,269.97 103.61,270.45 103.76,269.97 103.91,268.53 104.07,266.18 104.22,262.96 104.37,258.95 104.52,254.26 104.68,248.98 104.83,243.24 104.98,237.19 105.14,230.95 105.29,224.69 105.44,218.55 105.6,212.67 105.75,207.19 105.9,202.25 106.05,197.95 106.21,194.41 106.36,191.7 106.51,189.89 106.67,189.03 106.82,189.12 106.97,190.18 107.13,192.17 107.28,195.05 107.43,198.75 107.59,203.19 107.74,208.25 107.89,213.82 108.04,219.76 108.2,225.94 108.35,229.7 108.5,229.7 108.66,229.7 108.81,229.7 108.96,229.7 109.12,229.7 109.27,229.7 109.42,229.7 109.57,229.7 109.73,229.7 109.88,229.7 110.03,229.7 110.19,229.7 110.34,229.7 110.49,229.7 110.65,229.7 110.8,229.7 110.95,229.7 111.1,229.7 111.26,229.7 111.41,229.7 111.56,229.7 111.72,229.7 111.87,229.7 112.02,229.7 112.18,229.7 112.33,229.7 112.48,229.7 112.63,229.7 112.79,229.7 112.94,229.7 113.09,229.7 113.25,229.7 113.4,229.7 113.55,229.7 113.7,229.7 113.86,229.7 114.01,229.7 114.16,229.7 114.32,229.7 114.47,229.7 114.62,229.7 114.78,229.7 114.93,229.7 115.08,229.7 115.23,229.7 115.39,229.7 115.54,229.7 115.69,229.7 115.85,229.7 116,229.7 116.15,229.7 116.31,229.7 116.46,229.7 116.61,229.7 116.77,229.7 116.92,229.7 117.07,229.7 117.22,229.7 117.38,230.95 117.53,237.19 117.68,243.24 117.84,248.98 117.99,254.26 118.14,258.95 118.3,262.96 118.45,266.18 118.6,268.53 118.75,269.97 118.91,270.45 119.06,269.97 119.21,268.53 119.37,266.18 119.52,262.96 119.67,258.95 119.83,254.26 119.98,248.98 120.13,243.24 120.28,237.19 120.44,230.95 120.59,224.69 120.74,218.55 120.9,212.67 121.05,207.19 121.2,202.25 121.36,197.95 121.51,194.41 121.66,191.7 121.81,189.89 121.97,189.03 122.12,189.12 122.27,190.18 122.43,192.17 122.58,195.05 122.73,198.75 122.89,203.19 123.04,208.25 123.19,213.82 123.34,219.76 123.5,225.94 123.65,229.7 123.8,229.7 123.96,229.7 124.11,229.7 124.26,229.7 124.42,229.7 124.57,229.7 124.72,229.7 124.87,229.7 125.03,229.7 125.18,229.7 125.33,229.7 125.49,229.7 125.64,229.7 125.79,229.7 125.95,229.7 126.1,229.7 126.25,229.7 126.4,229.7 126.56,229.7 126.71,229.7 126.86,229.7 127.02,229.7 127.17,229.7 127.32,229.7 127.48,229.7 127.63,229.7 127.78,229.7 127.93,229.7 128.09,229.7 128.24,229.7 128.39,229.7 128.55,229.7 128.7,229.7 128.85,229.7 129,229.7 129.16,229.7 129.31,229.7 129.46,229.7 129.62,229.7 129.77,229.7 129.92,229.7 130.08,229.7 130.23,229.7 130.38,229.7 130.53,229.7 130.69,229.7 130.84,229.7 130.99,229.7 131.15,229.7 131.3,229.7 131.45,229.7 131.61,229.7 131.76,229.7 131.91,229.7 132.06,229.7 132.22,229.7 132.37,229.7 132.52,229.7 132.68,230.95 132.83,237.19 132.98,243.24 133.14,248.98 133.29,254.26 133.44,258.95 133.59,262.96 133.75,266.18 133.9,268.53 134.05,269.97 134.21,270.45 134.36,269.97 134.51,268.53 134.67,266.18 134.82,262.96 134.97,258.95 135.12,254.26 135.28,248.98 135.43,243.24 135.58,237.19 135.74,230.95 135.89,224.69 136.04,218.55 136.2,212.67 136.35,207.19 136.5,202.25 136.66,197.95 136.81,194.41 136.96,191.7 137.11,189.89 137.27,189.03 137.42,189.12 137.57,190.18 137.73,192.17 137.88,195.05 138.03,198.75 138.19,203.19 138.34,208.25 138.49,213.82 138.64,219.76 138.8,225.94 138.95,229.7 139.1,229.7 139.26,229.7 139.41,229.7 139.56,229.7 139.72,229.7 139.87,229.7 140.02,229.7 140.17,229.7 140.33,229.7 140.48,229.7 140.63,229.7 140.79,229.7 140.94,229.7 141.09,229.7 141.25,229.7 141.4,229.7 141.55,229.7 141.7,229.7 141.86,229.7 142.01,229.7 142.16,229.7 142.32,229.7 142.47,229.7 142.62,229.7 142.78,229.7 142.93,229.7 143.08,229.7 143.23,229.7 143.39,229.7 143.54,229.7 143.69,229.7 143.85,229.7 144,229.7 144.15,229.7 144.31,229.7 144.46,229.7 144.61,229.7 144.76,229.7 144.92,229.7 145.07,229.7 145.22,229.7 145.38,229.7 145.53,229.7 145.68,229.7 145.84,229.7 145.99,229.7 146.14,229.7 146.29,229.7 146.45,229.7 146.6,229.7 146.75,229.7 146.91,229.7 147.06,229.7 147.21,229.7 147.37,229.7 147.52,229.7 147.67,229.7 147.82,229.7 147.98,230.95 148.13,237.19 148.28,243.24 148.44,248.98 148.59,254.26 148.74,258.95 148.89,262.96 149.05,266.18 149.2,268.53 149.35,269.97 149.51,270.45 149.66,269.97 149.81,268.53 149.97,266.18 150.12,262.96 150.27,258.95 150.43,254.26 150.58,248.98 150.73,243.24 150.88,237.19 151.04,230.95 151.19,224.69 151.34,218.55 151.5,212.67 151.65,207.19 151.8,202.25 151.95,197.95 152.11,194.41 152.26,191.7 152.41,189.89 152.57,189.03 152.72,189.12 152.87,190.18 153.03,192.17 153.18,195.05 153.33,198.75 153.49,203.19 153.64,208.25 153.79,213.82 153.94,219.76 154.1,225.94 154.25,229.7 154.4,229.7 154.56,229.7 154.71,229.7 154.86,229.7 155.01,229.7 155.17,229.7 155.32,229.7 155.47,229.7 155.63,229.7 155.78,229.7 155.93,229.7 156.09,229.7 156.24,229.7 156.39,229.7 156.55,229.7 156.7,229.7 156.85,229.7 157,229.7 157.16,229.7 157.31,229.7 157.46,229.7 157.62,229.7 157.77,229.7 157.92,229.7 158.07,229.7 158.23,229.7 158.38,229.7 158.53,229.7 158.69,229.7 158.84,229.7 158.99,229.7 159.15,229.7 159.3,229.7 159.45,229.7 159.61,229.7 159.76,229.7 159.91,229.7 160.06,229.7 160.22,229.7 160.37,229.7 160.52,229.7 160.68,229.7 160.83,229.7 160.98,229.7 161.13,229.7 161.29,229.7 161.44,229.7 161.59,229.7 161.75,229.7 161.9,229.7 162.05,229.7 162.21,229.7 162.36,229.7 162.51,229.7 162.67,229.7 162.82,229.7 162.97,229.7 163.12,229.7 163.28,230.95 163.43,237.19 163.58,243.24 163.74,248.98 163.89,254.26 164.04,258.95 164.19,262.96 164.35,266.18 164.5,268.53 164.65,269.97 164.81,270.45 164.96,269.97 165.11,268.53 165.27,266.18 165.42,262.96 165.57,258.95 165.73,254.26 165.88,248.98 166.03,243.24 166.18,237.19 166.34,230.95 166.49,224.69 166.64,218.55 166.8,212.67 166.95,207.19 167.1,202.25 167.25,197.95 167.41,194.41 167.56,191.7 167.71,189.89 167.87,189.03 168.02,189.12 168.17,190.18 168.33,192.17 168.48,195.05 168.63,198.75 168.78,203.19 168.94,208.25 169.09,213.82 169.24,219.76 169.4,225.94 169.55,229.7 169.7,229.7 169.86,229.7 170.01,229.7 170.16,229.7 170.31,229.7 170.47,229.7 170.62,229.7 170.77,229.7 170.93,229.7 171.08,229.7 171.23,229.7 171.39,229.7 171.54,229.7 171.69,229.7 171.84,229.7 172,229.7 172.15,229.7 172.3,229.7 172.46,229.7 172.61,229.7 172.76,229.7 172.92,229.7 173.07,229.7 173.22,229.7 173.38,229.7 173.53,229.7 173.68,229.7 173.83,229.7 173.99,229.7 174.14,229.7 174.29,229.7 174.45,229.7 174.6,229.7 174.75,229.7 174.91,229.7 175.06,229.7 175.21,229.7 175.36,229.7 175.52,229.7 175.67,229.7 175.82,229.7 175.98,229.7 176.13,229.7 176.28,229.7 176.44,229.7 176.59,229.7 176.74,229.7 176.89,229.7 177.05,229.7 177.2,229.7 177.35,229.7 177.51,229.7 177.66,229.7 177.81,229.7 177.97,229.7 178.12,229.7 178.27,229.7 178.42,229.7 178.58,230.95 178.73,237.19 178.88,243.24 179.04,248.98 179.19,254.26 179.34,258.95 179.5,262.96 179.65,266.18 179.8,268.53 179.95,269.97 180.11,270.45 180.26,269.97 180.41,268.53 180.57,266.18 180.72,262.96 180.87,258.95 181.03,254.26 181.18,248.98 181.33,243.24 181.48,237.19 181.64,230.95 181.79,224.69 181.94,218.55 182.1,212.67 182.25,207.19 182.4,202.25 182.56,197.95 182.71,194.41 182.86,191.7 183.01,189.89 183.17,189.03 183.32,189.12 183.47,190.18 183.63,192.17 183.78,195.05 183.93,198.75 184.09,203.19 184.24,208.25 184.39,213.82 184.54,219.76 184.7,225.94 184.85,229.7 185,229.7 185.16,229.7 185.31,229.7 185.46,229.7 185.62,229.7 185.77,229.7 185.92,229.7 186.07,229.7 186.23,229.7 186.38,229.7 186.53,229.7 186.69,229.7 186.84,229.7 186.99,229.7 187.14,229.7 187.3,229.7 187.45,229.7 187.6,229.7 187.76,229.7 187.91,229.7 188.06,229.7 188.22,229.7 188.37,229.7 188.52,229.7 188.67,229.7 188.83,229.7 188.98,229.7 189.13,229.7 189.29,229.7 189.44,229.7 189.59,229.7 189.75,229.7 189.9,229.7 190.05,229.7 190.2,229.7 190.36,229.7 190.51,229.7 190.66,229.7 190.82,229.7 190.97,229.7 191.12,229.7 191.28,229.7 191.43,229.7 191.58,229.7 191.73,229.7 191.89,229.7 192.04,229.7 192.19,229.7 192.35,229.7 192.5,229.7 192.65,229.7 192.81,229.7 192.96,229.7 193.11,229.7 193.27,229.7 193.42,229.7 193.57,229.7 193.72,229.7 193.88,230.95 194.03,237.19 194.18,243.24 194.34,248.98 194.49,254.26 194.64,258.95 194.8,262.96 194.95,266.18 195.1,268.53 195.25,269.97 195.41,270.45 195.56,269.97 195.71,268.53 195.87,266.18 196.02,262.96 196.17,258.95 196.32,254.26 196.48,248.98 196.63,243.24 196.78,237.19 196.94,230.95 197.09,224.69 197.24,218.55 197.4,212.67 197.55,207.19 197.7,202.25 197.85,197.95 198.01,194.41 198.16,191.7 198.31,189.89 198.47,189.03 198.62,189.12 198.77,190.18 198.93,192.17 199.08,195.05 199.23,198.75 199.38,203.19 199.54,208.25 199.69,213.82 199.84,219.76 200,225.94 200.15,229.7 200.3,229.7 200.46,229.7 200.61,229.7 200.76,229.7 200.91,229.7 201.07,229.7 201.22,229.7 201.37,229.7 201.53,229.7 201.68,229.7 201.83,229.7 201.99,229.7 202.14,229.7 202.29,229.7 202.44,229.7 202.6,229.7 202.75,229.7 202.9,229.7 203.06,229.7 203.21,229.7 203.36,229.7 203.52,229.7 203.67,229.7 203.82,229.7 203.97,229.7 204.13,229.7 204.28,229.7 204.43,229.7 204.59,229.7 204.74,229.7 204.89,229.7 205.05,229.7 205.2,229.7 205.35,229.7 205.5,229.7 205.66,229.7 205.81,229.7 205.96,229.7 206.12,229.7 206.27,229.7 206.42,229.7 206.58,229.7 206.73,229.7 206.88,229.7 207.03,229.7 207.19,229.7 207.34,229.7 207.49,229.7 207.65,229.7 207.8,229.7 207.95,229.7 208.11,229.7 208.26,229.7 208.41,229.7 208.56,229.7 208.72,229.7 208.87,229.7 209.02,229.7 209.18,230.95 209.33,237.19 209.48,243.24 209.64,248.98 209.79,254.26 209.94,258.95 210.09,262.96 210.25,266.18 210.4,268.53 210.55,269.97 210.71,270.45 210.86,269.97 211.01,268.53 211.17,266.18 211.32,262.96 211.47,258.95 211.62,254.26 211.78,248.98 211.93,243.24 212.08,237.19 212.24,230.95 212.39,224.69 212.54,218.55 212.7,212.67 212.85,207.19 213,202.25 213.16,197.95 213.31,194.41 213.46,191.7 213.61,189.89 213.77,189.03 213.92,189.12 214.07,190.18 214.23,192.17 214.38,195.05 214.53,198.75 214.69,203.19 214.84,208.25 214.99,213.82 215.14,219.76 215.3,225.94 215.45,229.7 215.6,229.7 215.76,229.7 215.91,229.7 216.06,229.7 216.22,229.7 216.37,229.7 216.52,229.7 216.67,229.7 216.83,229.7 216.98,229.7 217.13,229.7 217.29,229.7 217.44,229.7 217.59,229.7 217.75,229.7 217.9,229.7 218.05,229.7 218.2,229.7 218.36,229.7 218.51,229.7 218.66,229.7 218.82,229.7 218.97,229.7 219.12,229.7 219.28,229.7 219.43,229.7 219.58,229.7 219.73,229.7 219.89,229.7 220.04,229.7 220.19,229.7 220.35,229.7 220.5,229.7 220.65,229.7 220.81,229.7 220.96,229.7 221.11,229.7 221.26,229.7 221.42,229.7 221.57,229.7 221.72,229.7 221.88,229.7 222.03,229.7 222.18,229.7 222.34,229.7 222.49,229.7 222.64,229.7 222.79,229.7 222.95,229.7 223.1,229.7 223.25,229.7 223.41,229.7 223.56,229.7 223.71,229.7 223.87,229.7 224.02,229.7 224.17,229.7 224.32,229.7 224.48,230.95 224.63,237.19 224.78,243.24 224.94,248.98 225.09,254.26 225.24,258.95 225.4,262.96 225.55,266.18 225.7,268.53 225.85,269.97 226.01,270.45 226.16,269.97 226.31,268.53 226.47,266.18 226.62,262.96 226.77,258.95 226.93,254.26 227.08,248.98 227.23,243.24 227.38,237.19 227.54,230.95 227.69,224.69 227.84,218.55 228,212.67 228.15,207.19 228.3,202.25 228.46,197.95 228.61,194.41 228.76,191.7 228.91,189.89 229.07,189.03 229.22,189.12 229.37,190.18 229.53,192.17 229.68,195.05 229.83,198.75 229.99,203.19 230.14,208.25 230.29,213.82 230.44,219.76 230.6,225.94 230.75,229.7 230.9,229.7 231.06,229.7 231.21,229.7 231.36,229.7 231.52,229.7 231.67,229.7 231.82,229.7 231.97,229.7 232.13,229.7 232.28,229.7 232.43,229.7 232.59,229.7 232.74,229.7 232.89,229.7 233.05,229.7 233.2,229.7 233.35,229.7 233.5,229.7 233.66,229.7 233.81,229.7 233.96,229.7 234.12,229.7 234.27,229.7 234.42,229.7 234.58,229.7 234.73,229.7 234.88,229.7 235.03,229.7 235.19,229.7 235.34,229.7 235.49,229.7 235.65,229.7 235.8,229.7 235.95,229.7 236.1,229.7 236.26,229.7 236.41,229.7 236.56,229.7 236.72,229.7 236.87,229.7 237.02,229.7 237.18,229.7 237.33,229.7 237.48,229.7 237.63,229.7 237.79,229.7 237.94,229.7 238.09,229.7 238.25,229.7 238.4,229.7 238.55,229.7 238.71,229.7 238.86,229.7 239.01,229.7 239.16,229.7 239.32,229.7 239.47,229.7 239.62,229.7 239.78,230.95 239.93,237.19 240.08,243.24 240.24,248.98 240.39,254.26 240.54,258.95 240.69,262.96 240.85,266.18 241,268.53 241.15,269.97 241.31,270.45 241.46,269.97 241.61,268.53 241.77,266.18 241.92,262.96 242.07,258.95 242.22,254.26 242.38,248.98 242.53,243.24 242.68,237.19 242.84,230.95 242.99,224.69 243.14,218.55 243.3,212.67 243.45,207.19 243.6,202.25 243.75,197.95 243.91,194.41 244.06,191.7 244.21,189.89 244.37,189.03 244.52,189.12 244.67,190.18 244.83,192.17 244.98,195.05 245.13,198.75 245.28,203.19 245.44,208.25 245.59,213.82 245.74,219.76 245.9,225.94 246.05,229.7 246.2,229.7 246.36,229.7 246.51,229.7 246.66,229.7 246.81,229.7 246.97,229.7 247.12,229.7 247.27,229.7 247.43,229.7 247.58,229.7 247.73,229.7 247.89,229.7 248.04,229.7 248.19,229.7 248.34,229.7 248.5,229.7 248.65,229.7 248.8,229.7 248.96,229.7 249.11,229.7 249.26,229.7 249.42,229.7 249.57,229.7 249.72,229.7 249.88,229.7 250.03,229.7 250.18,229.7 250.33,229.7 250.49,229.7 250.64,229.7 250.79,229.7 250.95,229.7 251.1,229.7 251.25,229.7 251.41,229.7 251.56,229.7 251.71,229.7 251.86,229.7 252.02,229.7 252.17,229.7 252.32,229.7 252.48,229.7 252.63,229.7 252.78,229.7 252.94,229.7 253.09,229.7 253.24,229.7 253.39,229.7 253.55,229.7 253.7,229.7 253.85,229.7 254.01,229.7 254.16,229.7 254.31,229.7 254.47,229.7 254.62,229.7 254.77,229.7 254.92,229.7 255.08,230.95 255.23,237.19 255.38,243.24 255.54,248.98 255.69,254.26 255.84,258.95 256,262.96 256.15,266.18 256.3,268.53 256.45,269.97 256.61,270.45 256.76,269.97 256.91,268.53 257.07,266.18 257.22,262.96 257.37,258.95 257.52,254.26 257.68,248.98 257.83,243.24 257.98,237.19 258.14,230.95 258.29,224.69 258.44,218.55 258.6,212.67 258.75,207.19 258.9,202.25 259.06,197.95 259.21,194.41 259.36,191.7 259.51,189.89 259.67,189.03 259.82,189.12 259.97,190.18 260.13,192.17 260.28,195.05 260.43,198.75 260.59,203.19 260.74,208.25 260.89,213.82 261.04,219.76 261.2,225.94 261.35,229.7 261.5,229.7 261.66,229.7 261.81,229.7 261.96,229.7 262.12,229.7 262.27,229.7 262.42,229.7 262.57,229.7 262.73,229.7 262.88,229.7 263.03,229.7 263.19,229.7 263.34,229.7 263.49,229.7 263.64,229.7 263.8,229.7 263.95,229.7 264.1,229.7 264.26,229.7 264.41,229.7 264.56,229.7 264.72,229.7 264.87,229.7 265.02,229.7 265.18,229.7 265.33,229.7 265.48,229.7 265.63,229.7 265.79,229.7 265.94,229.7 266.09,229.7 266.25,229.7 266.4,229.7 266.55,229.7 266.71,229.7 266.86,229.7 267.01,229.7 267.16,229.7 267.32,229.7 267.47,229.7 267.62,229.7 267.78,229.7 267.93,229.7 268.08,229.7 268.24,229.7 268.39,229.7 268.54,229.7 268.69,229.7 268.85,229.7 269,229.7 269.15,229.7 269.31,229.7 269.46,229.7 269.61,229.7 269.76,229.7 269.92,229.7 270.07,229.7 270.22,229.7 270.38,230.95 270.53,237.19 270.68,243.24 270.84,248.98 270.99,254.26 271.14,258.95 271.3,262.96 271.45,266.18 271.6,268.53 271.75,269.97 271.91,270.45 272.06,269.97 272.21,268.53 272.37,266.18 272.52,262.96 272.67,258.95 272.83,254.26 272.98,248.98 273.13,243.24 273.28,237.19 273.44,230.95 273.59,224.69 273.74,218.55 273.9,212.67 274.05,207.19 274.2,202.25 274.36,197.95 274.51,194.41 274.66,191.7 274.81,189.89 274.97,189.03 275.12,189.12 275.27,190.18 275.43,192.17 275.58,195.05 275.73,198.75 275.88,203.19 276.04,208.25 276.19,213.82 276.34,219.76 276.5,225.94 276.65,229.7 276.8,229.7 276.96,229.7 277.11,229.7 277.26,229.7 277.41,229.7 277.57,229.7 277.72,229.7 277.87,229.7 278.03,229.7 278.18,229.7 278.33,229.7 278.49,229.7 278.64,229.7 278.79,229.7 278.94,229.7 279.1,229.7 279.25,229.7 279.4,229.7 279.56,229.7 279.71,229.7 279.86,229.7 280.02,229.7 280.17,229.7 280.32,229.7 280.48,229.7 280.63,229.7 280.78,229.7 280.93,229.7 281.09,229.7 281.24,229.7 281.39,229.7 281.55,229.7 281.7,229.7 281.85,229.7 282,229.7 282.16,229.7 282.31,229.7 282.46,229.7 282.62,229.7 282.77,229.7 282.92,229.7 283.08,229.7 283.23,229.7 283.38,229.7 283.53,229.7 283.69,229.7 283.84,229.7 283.99,229.7 284.15,229.7 284.3,229.7 284.45,229.7 284.61,229.7 284.76,229.7 284.91,229.7 285.06,229.7 285.22,229.7 285.37,229.7 285.52,229.7 285.68,230.95 285.83,237.19 285.98,243.24 286.14,248.98 286.29,254.26 286.44,258.95 286.6,262.96 286.75,266.18 286.9,268.53 287.05,269.97 287.21,270.45 287.36,269.97 287.51,268.53 287.67,266.18 287.82,262.96 287.97,258.95 288.12,254.26 288.28,248.98 288.43,243.24 288.58,237.19 288.74,230.95 288.89,224.69 289.04,218.55 289.2,212.67 289.35,207.19 289.5,202.25 289.65,197.95 289.81,194.41 289.96,191.7 290.11,189.89 290.27,189.03 290.42,189.12 290.57,190.18 290.73,192.17 290.88,195.05 291.03,198.75 291.19,203.19 291.34,208.25 291.49,213.82 291.64,219.76 291.8,225.94 291.95,229.7 292.1,229.7 292.26,229.7 292.41,229.7 292.56,229.7 292.72,229.7 292.87,229.7 293.02,229.7 293.17,229.7 293.33,229.7 293.48,229.7 293.63,229.7 293.79,229.7 293.94,229.7 294.09,229.7 294.25,229.7 294.4,229.7 294.55,229.7 294.7,229.7 294.86,229.7 295.01,229.7 295.16,229.7 295.32,229.7 295.47,229.7 295.62,229.7 295.78,229.7 295.93,229.7 296.08,229.7 296.23,229.7 296.39,229.7 296.54,229.7 296.69,229.7 296.85,229.7 297,229.7 297.15,229.7 297.31,229.7 297.46,229.7 297.61,229.7 297.76,229.7 297.92,229.7 298.07,229.7 298.22,229.7 298.38,229.7 298.53,229.7 298.68,229.7 298.84,229.7 298.99,229.7 299.14,229.7 299.29,229.7 299.45,229.7 299.6,229.7 299.75,229.7 299.91,229.7 300.06,229.7 300.21,229.7 300.37,229.7 300.52,229.7 300.67,229.7 300.82,229.7 300.98,230.95 301.13,237.19 301.28,243.24 301.44,248.98 301.59,254.26 301.74,258.95 301.9,262.96 302.05,266.18 302.2,268.53 302.35,269.97 302.51,270.45 302.66,269.97 302.81,268.53 302.97,266.18 303.12,262.96 303.27,258.95 303.43,254.26 303.58,248.98 303.73,243.24 303.88,237.19 304.04,230.95 304.19,224.69 304.34,218.55 304.5,212.67 304.65,207.19 304.8,202.25 304.96,197.95 305.11,194.41 305.26,191.7 305.41,189.89 305.57,189.03 305.72,189.12 305.87,190.18 306.03,192.17 306.18,195.05 306.33,198.75 306.49,203.19 306.64,208.25 306.79,213.82 306.94,219.76 307.1,225.94 307.25,229.7 307.4,229.7 307.56,229.7 307.71,229.7 307.86,229.7 308.02,229.7 308.17,229.7 308.32,229.7 308.47,229.7 308.63,229.7 308.78,229.7 308.93,229.7 309.09,229.7 309.24,229.7 309.39,229.7 309.55,229.7 309.7,229.7 309.85,229.7 310,229.7 310.16,229.7 310.31,229.7 310.46,229.7 310.62,229.7 310.77,229.7 310.92,229.7 311.08,229.7 311.23,229.7 311.38,229.7 311.53,229.7 311.69,229.7 311.84,229.7 311.99,229.7 312.15,229.7 312.3,229.7 312.45,229.7 312.61,229.7 312.76,229.7 312.91,229.7 313.06,229.7 313.22,229.7 313.37,229.7 313.52,229.7 313.68,229.7 313.83,229.7 313.98,229.7 314.13,229.7 314.29,229.7 314.44,229.7 314.59,229.7 314.75,229.7 314.9,229.7 315.05,229.7 315.21,229.7 315.36,229.7 315.51,229.7 315.66,229.7 315.82,229.7 315.97,229.7 316.12,229.7 316.28,230.95 316.43,237.19 316.58,243.24 316.74,248.98 316.89,254.26 317.04,258.95 317.19,262.96 317.35,266.18 317.5,268.53 317.65,269.97 317.81,270.45 317.96,269.97 318.11,268.53 318.27,266.18 318.42,262.96 318.57,258.95 318.72,254.26 318.88,248.98 319.03,243.24 319.18,237.19 319.34,230.95 319.49,224.69 319.64,218.55 319.8,212.67 319.95,207.19 320.1,202.25 320.25,197.95 320.41,194.41 320.56,191.7 320.71,189.89 320.87,189.03 321.02,189.12 321.17,190.18 321.33,192.17 321.48,195.05 321.63,198.75 321.78,203.19 321.94,208.25 322.09,213.82 322.24,219.76 322.4,225.94 322.55,229.7 322.7,229.7 322.86,229.7 323.01,229.7 323.16,229.7 323.31,229.7 323.47,229.7 323.62,229.7 323.77,229.7 323.93,229.7 324.08,229.7 324.23,229.7 324.39,229.7 324.54,229.7 324.69,229.7 324.84,229.7 325,229.7 325.15,229.7 325.3,229.7 325.46,229.7 325.61,229.7 325.76,229.7 325.92,229.7 326.07,229.7 326.22,229.7 326.38,229.7 326.53,229.7 326.68,229.7 326.83,229.7 326.99,229.7 327.14,229.7 327.29,229.7 327.45,229.7 327.6,229.7 327.75,229.7 327.91,229.7 328.06,229.7 328.21,229.7 328.36,229.7 328.52,229.7 328.67,229.7 328.82,229.7 328.98,229.7 329.13,229.7 329.28,229.7 329.44,229.7 329.59,229.7 329.74,229.7 329.89,229.7 330.05,229.7 330.2,229.7 330.35,229.7 330.51,229.7 330.66,229.7 330.81,229.7 330.97,229.7 331.12,229.7 331.27,229.7 331.42,229.7 331.58,230.95 331.73,237.19 331.88,243.24 332.04,248.98 332.19,254.26 332.34,258.95 332.5,262.96 332.65,266.18 332.8,268.53 332.95,269.97 333.11,270.45 333.26,269.97 333.41,268.53 333.57,266.18 333.72,262.96 333.87,258.95 334.03,254.26 334.18,248.98 334.33,243.24 334.48,237.19 334.64,230.95 334.79,224.69 334.94,218.55 335.1,212.67 335.25,207.19 335.4,202.25 335.56,197.95 335.71,194.41 335.86,191.7 336.01,189.89 336.17,189.03 336.32,189.12 336.47,190.18 336.63,192.17 336.78,195.05 336.93,198.75 337.09,203.19 337.24,208.25 337.39,213.82 337.54,219.76 337.7,225.94 337.85,229.7 338,229.7 338.16,229.7 338.31,229.7 338.46,229.7 338.62,229.7 338.77,229.7 338.92,229.7 339.07,229.7 339.23,229.7 339.38,229.7 339.53,229.7 339.69,229.7 339.84,229.7 339.99,229.7 340.15,229.7 340.3,229.7 340.45,229.7 340.6,229.7 340.76,229.7 340.91,229.7 341.06,229.7 341.22,229.7 341.37,229.7 341.52,229.7 341.68,229.7 341.83,229.7 341.98,229.7 342.13,229.7 342.29,229.7 342.44,229.7 342.59,229.7 342.75,229.7 342.9,229.7 343.05,229.7 343.21,229.7 343.36,229.7 343.51,229.7 343.66,229.7 343.82,229.7 343.97,229.7 344.12,229.7 344.28,229.7 344.43,229.7 344.58,229.7 344.74,229.7 344.89,229.7 345.04,229.7 345.19,229.7 345.35,229.7 345.5,229.7 345.65,229.7 345.81,229.7 345.96,229.7 346.11,229.7 346.26,229.7 346.42,229.7 346.57,229.7 346.72,229.7 346.88,230.95 347.03,237.19 347.18,243.24 347.34,248.98 347.49,254.26 347.64,258.95 347.8,262.96 347.95,266.18 348.1,268.53 348.25,269.97 348.41,270.45 348.56,269.97 348.71,268.53 348.87,266.18 349.02,262.96 349.17,258.95 349.32,254.26 349.48,248.98 349.63,243.24 349.78,237.19 349.94,230.95 350.09,224.69 350.24,218.55 350.4,212.67 350.55,207.19 350.7,202.25 350.86,197.95 351.01,194.41 351.16,191.7 351.31,189.89 351.47,189.03 351.62,189.12 351.77,190.18 351.93,192.17 352.08,195.05 352.23,198.75 352.38,203.19 352.54,208.25 352.69,213.82 352.84,219.76 353,225.94 353.15,229.7 353.3,229.7 353.46,229.7 353.61,229.7 353.76,229.7 353.92,229.7 354.07,229.7 354.22,229.7 354.37,229.7 354.53,229.7 354.68,229.7 354.83,229.7 354.99,229.7 355.14,229.7 355.29,229.7 355.44,229.7 355.6,229.7 355.75,229.7 355.9,229.7 356.06,229.7 356.21,229.7 356.36,229.7 356.52,229.7 356.67,229.7 356.82,229.7 356.98,229.7 357.13,229.7 357.28,229.7 357.43,229.7 357.59,229.7 357.74,229.7 357.89,229.7 358.05,229.7 358.2,229.7 358.35,229.7 358.5,229.7 358.66,229.7 358.81,229.7 358.96,229.7 359.12,229.7 359.27,229.7 359.42,229.7 359.58,229.7 359.73,229.7 359.88,229.7 360.04,229.7 360.19,229.7 360.34,229.7 360.49,229.7 360.65,229.7 360.8,229.7 360.95,229.7 361.11,229.7 361.26,229.7 361.41,229.7 361.56,229.7 361.72,229.7 361.87,229.7 362.02,229.7 362.18,229.7 362.33,229.7 362.48,229.7 362.64,229.7 362.79,229.7 362.94,229.7 363.1,229.7 363.25,229.7 363.4,229.7 363.55,229.7 363.71,229.7 363.86,229.7 364.01,229.7 364.17,229.7 364.32,229.7 364.47,229.7 364.62,229.7 364.78,229.7 364.93,229.7 365.08,229.7 365.24,229.7 365.39,229.7 365.54,229.7 365.7,229.7 365.85,229.7 366,229.7 366.16,229.7 366.31,229.7 366.46,229.7 366.61,229.7 366.77,229.7 366.92,229.7 367.07,229.7 367.23,229.7 367.38,229.7 367.53,229.7 367.69,229.7 367.84,229.7 367.99,229.7 368.14,229.7 368.3,229.7 368.45,229.7 368.6,229.7 368.76,229.7 368.91,229.7 369.06,229.7 369.22,229.7 369.37,229.7 369.52,229.7 369.67,229.7 369.83,229.7 369.98,229.7 370.13,229.7 370.29,229.7 370.44,229.7 370.59,229.7 370.75,229.7 370.9,229.7 371.05,229.7 371.2,229.7 371.36,229.7 371.51,229.7 371.66,229.7 371.82,229.7 371.97,229.7 372.12,229.7 372.28,229.7 372.43,229.7 372.58,229.7 372.73,229.7 372.89,229.7 373.04,229.7 373.19,229.7 373.35,229.7 373.5,229.7 373.65,229.7 373.81,229.7 373.96,229.7 374.11,229.7 374.26,229.7 374.42,229.7 374.57,229.7 374.72,229.7 374.88,229.7 375.03,229.7 375.18,229.7 375.33,229.7 375.49,229.7 375.64,229.7 375.79,229.7 375.95,229.7" fill="none" stroke="#5050f0" stroke-width="1.3" stroke-linejoin="round"/>
<polygon points="39.5,225.94 40,226.47 40.5,227.08 41,226.95 41.5,225.02 42,225.69 42.5,226.08 43,226.8 43.5,225.33 44,225.34 44.5,225.9 45,226.78 45.5,224.29 46,226.35 46.5,226.7 47,226.89 47.5,226.88 48,226.85 48.5,227.1 49,226.34 49.5,226.34 50,226.59 50.5,226.43 51,226.58 51.5,226.78 52,226.36 52.5,226.95 53,226.4 53.5,226.3 54,225.95 54.5,225.35 55,226.54 55.5,226.4 56,226.54 56.5,230.27 57,249.46 57.5,262.38 58,261.39 58.5,246.91 59,227.12 59.5,207.51 60,192.31 60.5,185.79 61,184.44 61.5,189.56 62,201.96 62.5,219.77 63,226.74 63.5,224.81 64,226.79 64.5,225.63 65,224.35 65.5,226.64 66,226.22 66.5,226.72 67,226.23 67.5,226.46 68,227.09 68.5,226.36 69,225.85 69.5,226.7 70,225.96 70.5,225.94 71,226.68 71.5,226.75 72,237.43 72.5,255.49 73,266.47 73.5,254.79 74,238.2 74.5,219.44 75,201.13 75.5,188.31 76,185.03 76.5,185.86 77,193.85 77.5,209.31 78,226.95 78.5,226.42 79,226.16 79.5,227.08 80,226.93 80.5,226.98 81,225.06 81.5,225.09 82,225.99 82.5,226.62 83,226.94 83.5,225.88 84,225.8 84.5,225.15 85,226.34 85.5,226.48 86,226.89 86.5,226.13 87,227.05 87.5,246 88,260.91 88.5,263.68 89,250.35 89.5,231.68 90,211.38 90.5,194.5 91,185.89 91.5,186.04 92,187.38 92.5,198.56 93,215.51 93.5,226.49 94,226.97 94.5,226.3 95,226.04 95.5,225.88 96,225.57 96.5,226.36 97,226.97 97.5,226.38 98,226.4 98.5,226.63 99,226.34 99.5,226.5 100,226.86 100.5,226.24 101,226.42 101.5,225.93 102,226.72 102.5,235.25 103,252.89 103.5,264.22 104,258.3 104.5,242.33 105,222.36 105.5,203.91 106,190.76 106.5,185.82 107,185.92 107.5,191.77 108,205.15 108.5,224.93 109,227.08 109.5,225.78 110,225.38 110.5,225.24 111,226.14 111.5,225.59 112,225.97 112.5,225.65 113,226.35 113.5,226.16 114,226.83 114.5,226.13 115,225.76 115.5,225.92 116,226.93 116.5,227.08 117,227.04 117.5,226.62 118,242.5 118.5,257.19 119,265.02 119.5,253.84 120,235.13 120.5,213.61 121,198.12 121.5,187.34 122,185.49 122.5,186.45 123,196.28 123.5,213.2 124,226.18 124.5,226.01 125,226.52 125.5,226.63 126,225.52 126.5,225.35 127,227.03 127.5,224.93 128,226.72 128.5,226.69 129,225.33 129.5,224.62 130,226.97 130.5,226.42 131,226.54 131.5,226.73 132,226.29 132.5,226.33 133,231.15 133.5,250.3 134,263.13 134.5,261.87 135,246.22 135.5,227.08 136,207.82 136.5,192.51 137,186.23 137.5,186.03 138,189.87 138.5,202.56 139,220.65 139.5,226.04 140,226.81 140.5,227.1 141,226.03 141.5,226.95 142,226.61 142.5,226.23 143,226.92 143.5,227.03 144,226.42 144.5,226.87 145,226.05 145.5,226.96 146,227.06 146.5,226.23 147,226.76 147.5,226.91 148,226.49 148.5,238.9 149,256.09 149.5,264.94 150,256.78 150.5,239.11 151,219.05 151.5,200.93 152,187.43 152.5,186.22 153,185.57 153.5,193.94 154,207.68 154.5,226.27 155,227 155.5,226.7 156,225.49 156.5,226.71 157,224.57 157.5,226.31 158,226.93 158.5,224.42 159,226.21 159.5,226.57 160,226.85 160.5,226.64 161,226.15 161.5,226.99 162,226.25 162.5,225.36 163,224.63 163.5,226.97 164,246.26 164.5,260.13 165,263.26 165.5,249.86 166,231.32 166.5,211.51 167,194.77 167.5,185.9 168,186.15 168.5,188.24 169,199.24 169.5,216.73 170,225.88 170.5,226.67 171,226.85 171.5,225.96 172,227.04 172.5,226.46 173,225.69 173.5,227.01 174,226.81 174.5,225.12 175,224.85 175.5,225.55 176,226.23 176.5,225.74 177,226.88 177.5,226.24 178,225.7 178.5,226.98 179,235.01 179.5,253.6 180,264.01 180.5,258.7 181,243.24 181.5,222.44 182,204.36 182.5,190.34 183,186.04 183.5,186.2 184,190.66 184.5,205.39 185,224.93 185.5,225.81 186,226.31 186.5,226.69 187,226.88 187.5,226.37 188,226.03 188.5,226.18 189,226.84 189.5,226.62 190,226.88 190.5,227.06 191,227.09 191.5,225.52 192,226.69 192.5,225.27 193,227.06 193.5,226.43 194,226.07 194.5,243.03 195,258.67 195.5,264.77 196,252.11 196.5,235.08 197,215.19 197.5,197.81 198,187.53 198.5,186.17 199,186.91 199.5,195.77 200,213.41 200.5,226.72 201,225.72 201.5,225.44 202,226.3 202.5,226.33 203,225.67 203.5,226.39 204,226.28 204.5,226.51 205,225.62 205.5,226.29 206,227.03 206.5,226.69 207,225.16 207.5,227.1 208,226.14 208.5,226.08 209,226.79 209.5,230.67 210,249.67 210.5,262.92 211,261.62 211.5,246.75 212,226.06 212.5,206.25 213,192.68 213.5,186.33 214,185.37 214.5,188.54 215,202.15 215.5,219.65 216,226.95 216.5,226.02 217,226.6 217.5,227.03 218,226.66 218.5,227.07 219,226.1 219.5,226.22 220,226.81 220.5,226.56 221,226.64 221.5,225.09 222,225.66 222.5,224.6 223,226.45 223.5,226.14 224,225.5 224.5,226.57 225,237.97 225.5,256.26 226,266.42 226.5,256.41 227,238.93 227.5,218.55 228,199.8 228.5,188.33 229,185.37 229.5,184.94 230,193.92 230.5,208.63 231,225.34 231.5,226.19 232,227.07 232.5,226.12 233,225.53 233.5,225.9 234,227 234.5,226.44 235,227.03 235.5,226.48 236,226.77 236.5,225.97 237,225.83 237.5,226.79 238,225.93 238.5,226.42 239,226.62 239.5,226.88 240,227.02 240.5,246.49 241,261.48 241.5,261.67 242,249.29 242.5,230.69 243,211.51 243.5,194.27 244,186.84 244.5,186.09 245,187.35 245.5,199.15 246,216.75 246.5,226.67 247,225.78 247.5,226.79 248,226.89 248.5,225.96 249,226.07 249.5,225.84 250,225.74 250.5,225 251,226.4 251.5,225.54 252,225.76 252.5,225.7 253,225.14 253.5,225.49 254,226.17 254.5,226.02 255,226.99 255.5,234.32 256,252.97 256.5,265.23 257,259.04 257.5,243.25 258,223.63 258.5,203.45 259,190.16 259.5,185.94 260,186.33 260.5,191.54 261,206.06 261.5,224.76 262,226.97 262.5,226.81 263,227.07 263.5,227.03 264,226.44 264.5,225.23 265,226.53 265.5,226.54 266,226.14 266.5,225.19 267,225.94 267.5,226.1 268,226.85 268.5,226.78 269,225.96 269.5,226.18 270,227.07 270.5,226.05 271,241.99 271.5,259.07 272,263.87 272.5,253.16 273,235.93 273.5,215.34 274,197.54 274.5,186.22 275,185.6 275.5,186.63 276,196.36 276.5,212.72 277,226.09 277.5,225.83 278,226.77 278.5,226.89 279,227 279.5,226.12 280,227 280.5,225.49 281,226.85 281.5,226.32 282,226.99 282.5,226.17 283,226.76 283.5,225.87 284,225.39 284.5,226.46 285,226.9 285.5,226.2 286,230.35 286.5,249.99 287,263.44 287.5,261.34 288,246.94 288.5,226.26 289,207.09 289.5,193 290,186.24 290.5,185.08 291,189.6 291.5,202.42 292,219.86 292.5,225.42 293,225.2 293.5,224.86 294,227.09 294.5,226.77 295,226.24 295.5,226.65 296,226.65 296.5,227.03 297,225.63 297.5,225.65 298,225.72 298.5,226.53 299,225.16 299.5,227.05 300,226.32 300.5,226.7 301,225.25 301.5,239.02 302,254.99 302.5,265.36 303,256.65 303.5,238.52 304,219.08 304.5,199.55 305,189.11 305.5,185.87 306,186.58 306.5,192.95 307,209.58 307.5,226.92 308,227.04 308.5,225.61 309,225.4 309.5,225.52 310,226.47 310.5,226.36 311,227.07 311.5,226.66 312,225.05 312.5,226.49 313,225.31 313.5,225.86 314,226.37 314.5,226.4 315,226.61 315.5,227.04 316,226.78 316.5,225.73 317,246.27 317.5,261.61 318,263.2 318.5,250.8 319,231.12 319.5,210.33 320,193.93 320.5,185.98 321,185.48 321.5,185.42 322,198.91 322.5,216.29 323,226.77 323.5,226.08 324,224.22 324.5,226.99 325,225.71 325.5,225.53 326,226.6 326.5,226.27 327,226.71 327.5,225.88 328,226.74 328.5,225.43 329,227.02 329.5,227.09 330,225.47 330.5,226.74 331,226.44 331.5,227.01 332,234.1 332.5,253.57 333,265.03 333.5,259.19 334,242.79 334.5,221.72 335,204.23 335.5,190.24 336,185.16 336.5,184.46 337,191.12 337.5,203.6 338,224.72 338.5,226.13 339,226.83 339.5,226.09 340,226.06 340.5,226.29 341,225.13 341.5,226.56 342,226.39 342.5,226.35 343,226.5 343.5,225.76 344,226.4 344.5,226.84 345,226.9 345.5,226.64 346,227.07 346.5,227.09 347,226.04 347.5,242.21 348,258.05 348.5,264.68 349,253 349.5,235.63 350,213.75 350.5,195.14 351,187.22 351.5,185.9 352,187.09 352.5,195.3 353,213.28 353.5,226.08 354,226.26 354.5,225.55 355,224.54 355.5,226.52 356,226.8 356.5,226.26 357,226.62 357.5,226.81 358,227.07 358.5,226.85 359,225.93 359.5,226.81 360,226.43 360.5,227.01 361,226.51 361.5,226.9 362,226.35 362.5,226.87 363,226.44 363.5,225.71 364,226.64 364.5,226.81 365,226.47 365.5,226.93 366,224.29 366.5,227.02 367,226.69 367.5,224.83 368,226.6 368.5,226.46 369,226.82 369.5,226.86 370,226.62 370.5,227.02 371,226.81 371.5,226.61 372,226.27 372.5,224.83 373,227.08 373.5,226.5 374,225.99 374.5,225.8 375,226.14 375.5,226.06 376,225.98 376,232.53 375.5,232.35 375,233.71 374.5,232.58 374,233.88 373.5,233.38 373,233.94 372.5,233.78 372,232.54 371.5,232.55 371,232.61 370.5,233.56 370,232.6 369.5,233.58 369,232.32 368.5,232.37 368,232.87 367.5,232.85 367,233.01 366.5,234.02 366,232.91 365.5,232.44 365,232.33 364.5,232.92 364,233.42 363.5,233.51 363,233.26 362.5,234.66 362,233.3 361.5,233.02 361,233.67 360.5,233.92 360,233.31 359.5,233.55 359,233.77 358.5,233.32 358,234.02 357.5,233.55 357,234.61 356.5,232.62 356,232.4 355.5,232.94 355,232.67 354.5,233.6 354,232.34 353.5,234.31 353,234.06 352.5,219.78 352,202.26 351.5,194.13 351,204.73 350.5,220.92 350,242.18 349.5,259.68 349,271.49 348.5,273.75 348,273.24 347.5,266.28 347,250.26 346.5,232.83 346,233.89 345.5,234.84 345,234.13 344.5,233.71 344,233.25 343.5,232.39 343,232.56 342.5,233.55 342,234.74 341.5,233.19 341,233.42 340.5,234.82 340,232.76 339.5,233.11 339,232.47 338.5,232.33 338,232.38 337.5,231.78 337,211.49 336.5,197.73 336,196.88 335.5,211.27 335,229.79 334.5,249.18 334,264.83 333.5,272.67 333,273.86 332.5,270.47 332,260.03 331.5,242.56 331,233.3 330.5,232.33 330,232.54 329.5,233.61 329,234.62 328.5,233.1 328,233.01 327.5,233.36 327,232.52 326.5,232.59 326,233.12 325.5,232.33 325,232.36 324.5,233.66 324,232.78 323.5,233.57 323,233.61 322.5,232.43 322,222.9 321.5,206.78 321,193.83 320.5,201.25 320,218.32 319.5,238.15 319,256.42 318.5,269.32 318,273.73 317.5,274.55 317,267.09 316.5,252.9 316,233.08 315.5,232.81 315,232.51 314.5,233.17 314,232.44 313.5,234.19 313,233.66 312.5,232.73 312,232.7 311.5,232.45 311,234.01 310.5,232.54 310,232.48 309.5,233.02 309,233.19 308.5,232.62 308,232.48 307.5,233 307,232.84 306.5,215.64 306,199.45 305.5,194.66 305,207.39 304.5,225.75 304,246.85 303.5,263.1 303,272.38 302.5,273.49 302,272.5 301.5,262.02 301,244.92 300.5,233.55 300,232.57 299.5,232.67 299,232.61 298.5,233.31 298,233.19 297.5,233.12 297,233.02 296.5,232.72 296,232.36 295.5,233.23 295,233.39 294.5,232.89 294,233.28 293.5,233.02 293,232.66 292.5,232.37 292,232.97 291.5,227.8 291,208.8 290.5,195.99 290,199.32 289.5,213.92 289,235.28 288.5,253.29 288,267.98 287.5,273.75 287,273.42 286.5,269.19 286,256.15 285.5,237.52 285,232.41 284.5,232.9 284,232.44 283.5,232.32 283,232.5 282.5,232.79 282,232.77 281.5,233.4 281,232.31 280.5,232.79 280,232.68 279.5,232.93 279,233.91 278.5,232.72 278,232.98 277.5,232.6 277,233.52 276.5,233.63 276,218.84 275.5,201.86 275,193.67 274.5,203.62 274,221.5 273.5,241.86 273,259.57 272.5,272.07 272,274.2 271.5,273.03 271,264.8 270.5,249.16 270,232.81 269.5,233.63 269,234.49 268.5,233.26 268,233.08 267.5,232.94 267,232.64 266.5,232.84 266,233.46 265.5,232.88 265,233.22 264.5,232.48 264,233.06 263.5,233.45 263,233.24 262.5,232.43 262,232.97 261.5,232.99 261,231.58 260.5,211.55 260,197.5 259.5,196.99 259,209.97 258.5,229.86 258,249.49 257.5,266.64 257,273.21 256.5,273.5 256,270.66 255.5,259.82 255,240.75 254.5,234.67 254,235.34 253.5,232.96 253,232.61 252.5,232.88 252,235.15 251.5,232.83 251,232.41 250.5,232.94 250,233.28 249.5,232.98 249,232.47 248.5,233.33 248,232.72 247.5,232.73 247,233.33 246.5,232.85 246,234.44 245.5,222.75 245,204.77 244.5,194.08 244,202.39 243.5,217.38 243,239.29 242.5,256.13 242,271.05 241.5,273.14 241,273.78 240.5,267.78 240,252.5 239.5,233.33 239,233.89 238.5,232.35 238,232.5 237.5,233.52 237,232.84 236.5,234.74 236,232.46 235.5,232.82 235,233.44 234.5,233.23 234,234.97 233.5,232.84 233,232.94 232.5,232.72 232,232.99 231.5,233.97 231,232.6 230.5,232.36 230,216.29 229.5,199.79 229,194.92 228.5,207.12 228,225.91 227.5,245.12 227,263.25 226.5,272.72 226,274.78 225.5,271.86 225,263.54 224.5,245.14 224,232.49 223.5,232.42 223,233.15 222.5,232.6 222,232.43 221.5,233.38 221,232.63 220.5,232.79 220,232.66 219.5,232.63 219,234.27 218.5,232.36 218,233.13 217.5,234.23 217,232.83 216.5,232.7 216,232.38 215.5,232.72 215,226.91 214.5,209.12 214,195.66 213.5,199.82 213,213.99 212.5,233.47 212,252.87 211.5,268.21 211,273.89 210.5,273.33 210,270.69 209.5,257.77 209,237.72 208.5,232.57 208,232.44 207.5,232.37 207,232.99 206.5,234.12 206,233.63 205.5,232.32 205,233.24 204.5,233.86 204,233.4 203.5,233.14 203,232.62 202.5,232.43 202,232.66 201.5,233.28 201,232.77 200.5,232.71 200,233.43 199.5,220.32 199,202.95 198.5,194.43 198,203.56 197.5,221.81 197,241.44 196.5,260.24 196,270.71 195.5,273.17 195,273.38 194.5,264.51 194,248.77 193.5,232.48 193,233.02 192.5,232.37 192,233.68 191.5,232.33 191,232.83 190.5,233.99 190,232.96 189.5,232.37 189,233.29 188.5,232.65 188,234.12 187.5,233.11 187,232.87 186.5,232.42 186,232.43 185.5,233.8 185,233.51 184.5,232.43 184,212.75 183.5,197.28 183,196.43 182.5,209.96 182,229.24 181.5,249.16 181,265.35 180.5,272.85 180,274.05 179.5,271.05 179,259.26 178.5,241.88 178,234.04 177.5,232.75 177,232.39 176.5,233.56 176,232.87 175.5,232.65 175,234.24 174.5,232.99 174,232.57 173.5,234.26 173,232.46 172.5,232.56 172,232.32 171.5,232.55 171,232.36 170.5,232.81 170,234.14 169.5,232.75 169,223.93 168.5,205.79 168,194.15 167.5,201.39 167,217.28 166.5,238.41 166,256.87 165.5,269.3 165,273.25 164.5,273.01 164,267.96 163.5,253.2 163,234.83 162.5,232.5 162,232.77 161.5,233.01 161,233.3 160.5,232.76 160,233.25 159.5,233.55 159,234.03 158.5,233.87 158,232.63 157.5,233.25 157,232.66 156.5,233.07 156,233.15 155.5,232.53 155,233.23 154.5,234.3 154,232.51 153.5,215.57 153,200.56 152.5,195.18 152,207.65 151.5,225.62 151,247.1 150.5,263.35 150,273.02 149.5,273.15 149,271.97 148.5,261.85 148,244.82 147.5,232.46 147,233.92 146.5,232.99 146,233.73 145.5,232.43 145,233.53 144.5,233.34 144,232.56 143.5,233.62 143,233.19 142.5,234.02 142,233.34 141.5,233.02 141,232.67 140.5,233.66 140,233.3 139.5,232.34 139,232.45 138.5,226.94 138,208.47 137.5,195.68 137,199.11 136.5,213.65 136,233.76 135.5,252.67 135,267.92 134.5,273.88 134,274.74 133.5,269.23 133,255.79 132.5,237.46 132,232.42 131.5,233.25 131,233 130.5,232.85 130,232.9 129.5,233.69 129,233.02 128.5,232.77 128,232.6 127.5,232.44 127,232.85 126.5,233.24 126,233.58 125.5,233.81 125,232.85 124.5,232.82 124,232.9 123.5,232.72 123,219.5 122.5,201.91 122,194.46 121.5,203.8 121,221.16 120.5,241.96 120,259.69 119.5,270.87 119,273.26 118.5,273.5 118,265.02 117.5,248.58 117,234.45 116.5,232.75 116,233.31 115.5,232.39 115,233.26 114.5,233.31 114,233.86 113.5,232.62 113,234.7 112.5,233 112,233.16 111.5,233.1 111,233.43 110.5,233.29 110,233.36 109.5,233.19 109,234.3 108.5,233.12 108,231.66 107.5,214.23 107,199.04 106.5,196.8 106,211.64 105.5,229.61 105,249.39 104.5,265.19 104,272.89 103.5,273.08 103,271.23 102.5,259.12 102,241.16 101.5,233.5 101,232.3 100.5,232.69 100,233.14 99.5,232.92 99,233.54 98.5,232.61 98,232.92 97.5,232.51 97,232.43 96.5,233.68 96,233.12 95.5,233.41 95,233.74 94.5,233.58 94,233.35 93.5,232.58 93,232.8 92.5,223.02 92,205.75 91.5,193.68 91,202.19 90.5,217.22 90,239.06 89.5,256.9 89,269.64 88.5,273.26 88,273.89 87.5,267.92 87,252.36 86.5,233.08 86,232.5 85.5,234.17 85,233.06 84.5,233.27 84,232.67 83.5,234.08 83,233.48 82.5,232.48 82,232.67 81.5,232.42 81,232.6 80.5,233.47 80,233.68 79.5,232.5 79,232.84 78.5,233.36 78,232.54 77.5,233.12 77,217.02 76.5,200.86 76,195.29 75.5,207.16 75,225.29 74.5,245.74 74,263.3 73.5,271.87 73,274.54 72.5,272.55 72,262.56 71.5,245.31 71,232.74 70.5,233.57 70,232.65 69.5,233.11 69,232.57 68.5,233.03 68,234.23 67.5,232.45 67,232.77 66.5,232.6 66,233.41 65.5,232.4 65,232.46 64.5,232.73 64,233.08 63.5,232.38 63,232.84 62.5,232.36 62,227.01 61.5,208.81 61,195.94 60.5,198.82 60,214.9 59.5,233.78 59,253.54 58.5,267.51 58,273.56 57.5,274.04 57,268.93 56.5,255.94 56,237.1 55.5,233.19 55,232.62 54.5,233.15 54,232.91 53.5,232.39 53,232.67 52.5,232.37 52,233.71 51.5,232.36 51,232.39 50.5,234.54 50,235.11 49.5,233.32 49,233.06 48.5,232.43 48,232.48 47.5,234.52 47,233.96 46.5,233.13 46,233.97 45.5,233.5 45,232.92 44.5,233.72 44,233.17 43.5,234.04 43,232.42 42.5,232.77 42,233.43 41.5,232.44 41,234.28 40.5,232.63 40,232.93 39.5,233.11" fill="#b01212"/>
<polyline points="39.5,228.99 39.6,233.17 39.7,231.28 39.81,230.11 39.91,228.75 40.01,230.03 40.11,231.91 40.21,232.71 40.32,229.67 40.42,232.78 40.52,232.76 40.62,229.97 40.72,229.23 40.83,231.86 40.93,234.34 41.03,228.95 41.13,227.57 41.23,230.76 41.34,230.68 41.44,235.75 41.54,227.35 41.64,232.55 41.74,227.82 41.85,231.24 41.95,230.07 42.05,230.19 42.15,234.39 42.25,222.53 42.36,233.78 42.46,229.41 42.56,231.82 42.66,230.32 42.76,226.11 42.87,234.56 42.97,230.07 43.07,228.42 43.17,229.39 43.27,228.66 43.38,231.66 43.48,233.98 43.58,233.12 43.68,230.77 43.78,227.76 43.89,229.49 43.99,225.52 44.09,229.44 44.19,229.2 44.29,229.18 44.4,234.22 44.5,228.2 44.6,232.6 44.7,230.69 44.8,223.59 44.91,232.92 45.01,229.39 45.11,228.94 45.21,229.36 45.31,229.69 45.42,231.16 45.52,224.5 45.62,234.93 45.72,232.38 45.82,225.83 45.93,228.27 46.03,231.7 46.13,232.04 46.23,230.35 46.33,222.82 46.44,228.41 46.54,232.39 46.64,229.08 46.74,231.33 46.84,225.79 46.95,228.93 47.05,226.41 47.15,229.28 47.25,224.38 47.35,228.63 47.46,228.97 47.56,232.36 47.66,230.8 47.76,228.68 47.86,230.99 47.97,223.21 48.07,229.73 48.17,231.69 48.27,227.12 48.37,231.08 48.48,228.64 48.58,229.94 48.68,231.58 48.78,226.08 48.88,229.46 48.99,226.86 49.09,230.58 49.19,233.42 49.29,232.94 49.39,231.05 49.5,230.18 49.6,229.56 49.7,228.36 49.8,232.94 49.9,229.1 50.01,232.88 50.11,231.48 50.21,223.01 50.31,226.38 50.41,230.65 50.52,225.03 50.62,226 50.72,227.38 50.82,225.87 50.92,230.35 51.03,230.03 51.13,231.94 51.23,228.18 51.33,232.97 51.43,231.01 51.54,228.5 51.64,231.02 51.74,228.79 51.84,224.94 51.94,232.27 52.05,226.04 52.15,231.48 52.25,232.14 52.35,229.11 52.45,227.02 52.56,231.56 52.66,231.6 52.76,230.85 52.86,231.58 52.96,229.21 53.07,231.56 53.17,230.36 53.27,228.78 53.37,230.79 53.47,226.69 53.58,231.46 53.68,231.71 53.78,224.38 53.88,225.77 53.98,229.51 54.09,227.53 54.19,228.81 54.29,231.03 54.39,227.94 54.49,228.91 54.6,226.36 54.7,234.51 54.8,227.6 54.9,229.27 55,231.49 55.11,230.82 55.21,230.76 55.31,233.15 55.41,231.2 55.51,227.66 55.62,233.66 55.72,230.68 55.82,235.87 55.92,231.2 56.02,228.68 56.13,229.83 56.23,229.58 56.33,232.62 56.43,229.89 56.53,237.89 56.64,237.27 56.74,243.08 56.84,248.49 56.94,247.28 57.04,255.62 57.15,255.09 57.25,260.37 57.35,263.2 57.45,262.79 57.55,266.08 57.66,268.68 57.76,269.99 57.86,269.72 57.96,270.22 58.06,271.04 58.17,272.21 58.27,275.16 58.37,267.18 58.47,265.62 58.57,259.55 58.68,258.92 58.78,254.18 58.88,249.39 58.98,250.71 59.08,248.92 59.19,240.71 59.29,240.38 59.39,235.37 59.49,226.78 59.59,224.91 59.7,219.35 59.8,221.66 59.9,214.11 60,207.5 60.1,210.18 60.21,202.98 60.31,199.39 60.41,203.7 60.51,191.11 60.61,195.08 60.72,191.91 60.82,185.9 60.92,194.09 61.02,187.79 61.12,190.16 61.23,189.31 61.33,192.41 61.43,187.99 61.53,196.14 61.63,194.32 61.74,196.27 61.84,200.68 61.94,204.21 62.04,207.53 62.14,207.75 62.25,213.01 62.35,218.35 62.45,225.05 62.55,225.93 62.65,228.3 62.76,229.78 62.86,225.94 62.96,234.67 63.06,223.19 63.16,230.17 63.27,232.66 63.37,234.24 63.47,227.43 63.57,228.2 63.67,230.26 63.78,229.82 63.88,229.25 63.98,230.79 64.08,226.68 64.18,228.06 64.29,230 64.39,233.96 64.49,226.11 64.59,230.93 64.69,232.39 64.8,226.32 64.9,228.39 65,234.94 65.1,234.02 65.2,230.72 65.31,232.97 65.41,230.09 65.51,222.86 65.61,221.91 65.71,229.79 65.82,227.59 65.92,227.36 66.02,229.99 66.12,233.53 66.22,226.88 66.33,230.14 66.43,228.5 66.53,227.83 66.63,231.79 66.73,225.28 66.84,229.48 66.94,229.09 67.04,230.81 67.14,227.82 67.24,227.03 67.35,231.13 67.45,228.15 67.55,230.81 67.65,232.89 67.75,230.54 67.86,228.08 67.96,228.23 68.06,226.86 68.16,231.44 68.26,230.47 68.37,229.48 68.47,228.05 68.57,229.98 68.67,232.15 68.77,233.72 68.88,226.59 68.98,226.88 69.08,231.41 69.18,225.8 69.28,229.84 69.39,228.48 69.49,226.37 69.59,230.92 69.69,231.69 69.79,234.21 69.9,228.87 70,228.49 70.1,227.41 70.2,228.08 70.3,229.39 70.41,226.66 70.51,232.35 70.61,228.64 70.71,228.32 70.81,229.98 70.92,225.14 71.02,228.51 71.12,226.13 71.22,227.31 71.32,230.13 71.43,224.6 71.53,226.75 71.63,229.61 71.73,231.64 71.83,238.21 71.94,239.99 72.04,244.21 72.14,246.9 72.24,252.22 72.34,253.05 72.45,257.94 72.55,264.74 72.65,264.48 72.75,267.71 72.85,270.52 72.96,269.28 73.06,267.24 73.16,273.16 73.26,275.65 73.36,270.57 73.47,261.64 73.57,269.9 73.67,266.13 73.77,266.02 73.87,260.42 73.98,256.27 74.08,257.52 74.18,250.78 74.28,253.23 74.38,246.14 74.49,246.12 74.59,238.28 74.69,236.26 74.79,229.86 74.89,229.24 75,221.55 75.1,217.8 75.2,215.64 75.3,212.47 75.4,209.89 75.51,204.49 75.61,199.34 75.71,197.98 75.81,194.81 75.91,189.84 76.02,192.34 76.12,189.46 76.22,187.2 76.32,187.6 76.42,187.93 76.53,189.16 76.63,185.17 76.73,191.69 76.83,194.17 76.93,193.66 77.04,193.35 77.14,196.68 77.24,203.36 77.34,204.6 77.44,209.05 77.55,213.94 77.65,216.37 77.75,220.52 77.85,225.92 77.95,225.12 78.06,230.62 78.16,225.98 78.26,224.14 78.36,224.1 78.46,228.92 78.57,230.11 78.67,233.81 78.77,229.78 78.87,223.24 78.97,233.73 79.08,233.68 79.18,227.44 79.28,228.01 79.38,234.41 79.48,229.78 79.59,228.74 79.69,233.6 79.79,227.12 79.89,233.1 79.99,226.67 80.1,229.1 80.2,231.46 80.3,233.84 80.4,230.53 80.5,229.88 80.61,229.97 80.71,231.19 80.81,230.19 80.91,227.35 81.01,232.02 81.12,230.18 81.22,228.43 81.32,229.69 81.42,227.37 81.52,225.57 81.63,230.56 81.73,229.07 81.83,237.32 81.93,230.55 82.03,227.89 82.14,232.57 82.24,226.16 82.34,234.57 82.44,226.11 82.54,230.99 82.65,232.32 82.75,230.92 82.85,230.34 82.95,232.3 83.05,233.26 83.16,231.02 83.26,227.17 83.36,228.59 83.46,226.14 83.56,231.25 83.67,230.58 83.77,230.53 83.87,229.28 83.97,228.45 84.07,225.06 84.18,227.81 84.28,229.22 84.38,226.11 84.48,231.7 84.58,233.09 84.69,227.91 84.79,229.22 84.89,229.34 84.99,227.22 85.09,230.53 85.2,229.95 85.3,228.67 85.4,227.96 85.5,227.09 85.6,229.35 85.71,228.97 85.81,235.99 85.91,226.46 86.01,233.77 86.11,229.78 86.22,223.03 86.32,230.52 86.42,233.81 86.52,225.45 86.62,231.12 86.73,230.1 86.83,230.1 86.93,227.75 87.03,229.31 87.13,235.83 87.24,236.7 87.34,245.97 87.44,245.69 87.54,252.75 87.64,252.74 87.75,259.49 87.85,261.77 87.95,259.32 88.05,268.31 88.15,270.27 88.26,267.13 88.36,270.36 88.46,271.38 88.56,270.8 88.66,264.63 88.77,272.19 88.87,269.09 88.97,266.44 89.07,267.43 89.17,262.79 89.28,258.81 89.38,259.51 89.48,250.99 89.58,253.41 89.68,247.09 89.79,241.96 89.89,230.5 89.99,239.26 90.09,229.79 90.19,219.76 90.3,223.76 90.4,215.29 90.5,213.63 90.6,214.14 90.7,205.8 90.81,205.82 90.91,200.21 91.01,201.6 91.11,193.36 91.21,199.51 91.32,191.99 91.42,186.92 91.52,188.08 91.62,189.91 91.72,189.61 91.83,190.54 91.93,183.19 92.03,191.68 92.13,193.25 92.23,197.19 92.34,198.93 92.44,198.85 92.54,205.09 92.64,208.94 92.74,211.85 92.85,215.12 92.95,217.69 93.05,223.48 93.15,226.85 93.25,231.65 93.36,226.47 93.46,229.46 93.56,230.52 93.66,228.94 93.76,229.82 93.87,233.79 93.97,230.17 94.07,225.39 94.17,228.38 94.27,226.63 94.38,231.45 94.48,233.58 94.58,231.52 94.68,226.17 94.78,232.31 94.89,231.77 94.99,226.82 95.09,230.35 95.19,230.22 95.29,228.71 95.4,229.47 95.5,230.49 95.6,229.04 95.7,231.56 95.8,229.81 95.91,227.99 96.01,232.47 96.11,230.26 96.21,232.68 96.31,227.75 96.42,228.1 96.52,227.24 96.62,227.01 96.72,227.03 96.82,227.83 96.93,231.73 97.03,227.26 97.13,232.08 97.23,223.62 97.33,228.95 97.44,228.15 97.54,232.92 97.64,226.9 97.74,226.64 97.84,233.79 97.95,231.15 98.05,230.92 98.15,231.39 98.25,226.1 98.35,224.05 98.46,232.48 98.56,226.97 98.66,230.39 98.76,226.13 98.86,236.09 98.97,230.83 99.07,226.53 99.17,231.69 99.27,226.6 99.37,231.04 99.48,226.73 99.58,228.18 99.68,230.8 99.78,231.7 99.88,230.15 99.99,226.68 100.09,229.72 100.19,231.44 100.29,221.04 100.39,233.82 100.5,230.3 100.6,228.29 100.7,232.44 100.8,229.74 100.9,230.81 101.01,233.57 101.11,228.52 101.21,232.68 101.31,231.68 101.41,226.49 101.52,232.63 101.62,228.13 101.72,226.62 101.82,227.12 101.92,228.49 102.03,230.32 102.13,233.37 102.23,229.34 102.33,230.23 102.43,236.88 102.54,242.23 102.64,241.39 102.74,250.26 102.84,250.02 102.94,255.87 103.05,262.19 103.15,256.45 103.25,261.63 103.35,264.01 103.45,270.95 103.56,269.02 103.66,268.98 103.76,272.26 103.86,266.17 103.96,275.5 104.07,267.71 104.17,273.38 104.27,271.03 104.37,268.39 104.47,261.28 104.58,262.02 104.68,258.97 104.78,256.36 104.88,254.37 104.98,249.16 105.09,245.51 105.19,239.75 105.29,235.8 105.39,236.91 105.49,228.16 105.6,219.16 105.7,219.51 105.8,214.53 105.9,212.45 106,208.79 106.11,203.86 106.21,204.13 106.31,198.3 106.41,199.8 106.51,192.53 106.62,195.86 106.72,188.78 106.82,186.99 106.92,193.45 107.02,187.45 107.13,190.71 107.23,187.47 107.33,193.17 107.43,194.19 107.53,196.27 107.64,194.65 107.74,205.74 107.84,201.75 107.94,206.85 108.04,211.95 108.15,215.08 108.25,215.96 108.35,220.32 108.45,222.19 108.55,231.63 108.66,234.9 108.76,231.41 108.86,230.47 108.96,231.11 109.06,226.78 109.17,224.02 109.27,228.98 109.37,234.62 109.47,227.26 109.57,231.65 109.68,229.86 109.78,227.78 109.88,229.01 109.98,230.15 110.08,229.22 110.19,227.99 110.29,228.34 110.39,224.57 110.49,237.79 110.59,232.02 110.7,231.5 110.8,227.83 110.9,229.4 111,227.76 111.1,233.7 111.21,230.55 111.31,228.3 111.41,230.11 111.51,231.02 111.61,229.27 111.72,225.68 111.82,235.48 111.92,225.84 112.02,229.25 112.12,232.21 112.23,228.26 112.33,229.88 112.43,226.83 112.53,232.08 112.63,227.46 112.74,232.34 112.84,229.15 112.94,228.17 113.04,230.19 113.14,228.31 113.25,231.54 113.35,227.21 113.45,231.29 113.55,231.82 113.65,230.28 113.76,230.11 113.86,232.17 113.96,227.9 114.06,230.3 114.16,228.4 114.27,233.87 114.37,233.41 114.47,230.67 114.57,232.57 114.67,230.32 114.78,228.52 114.88,227.07 114.98,226.15 115.08,227.93 115.18,231.82 115.29,228.54 115.39,231.34 115.49,228.56 115.59,232.73 115.69,226.47 115.8,228.9 115.9,230.72 116,233.52 116.1,229.24 116.2,231.35 116.31,229.32 116.41,231.83 116.51,231.39 116.61,228.35 116.71,226.12 116.82,233.27 116.92,230.48 117.02,228.95 117.12,230.37 117.22,231.11 117.33,224.32 117.43,232.16 117.53,229.03 117.63,232.91 117.73,236.06 117.84,245.87 117.94,241.59 118.04,248.3 118.14,253.94 118.24,250.52 118.35,258.75 118.45,262.51 118.55,265.67 118.65,262.88 118.75,267.42 118.86,269.73 118.96,273.39 119.06,272.9 119.16,269.81 119.26,270.51 119.37,275.02 119.47,270.95 119.57,266.57 119.67,258.26 119.77,264.94 119.88,266.16 119.98,255.42 120.08,255.44 120.18,254.15 120.28,245.53 120.39,243.72 120.49,241.6 120.59,238.39 120.69,231.12 120.79,226.39 120.9,227.11 121,215.84 121.1,217.78 121.2,207.03 121.3,206.24 121.41,204.26 121.51,199.83 121.61,199.5 121.71,195.71 121.81,189.19 121.92,193.31 122.02,188.42 122.12,192.04 122.22,189.32 122.32,186.75 122.43,192.83 122.53,189.67 122.63,197.42 122.73,196.48 122.83,196.63 122.94,195.65 123.04,198.84 123.14,206.15 123.24,207.45 123.34,210.2 123.45,218.54 123.55,217.3 123.65,218.95 123.75,223.38 123.85,231.5 123.96,231.03 124.06,232.4 124.16,231.25 124.26,230.61 124.36,228.18 124.47,229.75 124.57,232.38 124.67,227.82 124.77,227.67 124.87,231.55 124.98,230.61 125.08,230.23 125.18,234.25 125.28,229.61 125.38,228.21 125.49,224.88 125.59,229.46 125.69,230.7 125.79,230.34 125.89,228.36 126,227.88 126.1,232.2 126.2,229.46 126.3,228.25 126.4,235.19 126.51,226.38 126.61,230.51 126.71,227.68 126.81,230.07 126.91,230.59 127.02,230.15 127.12,229.2 127.22,227.68 127.32,230.64 127.42,232.87 127.53,231.77 127.63,232.49 127.73,227.96 127.83,232.45 127.93,225.98 128.04,229.6 128.14,230.17 128.24,226.54 128.34,230.9 128.44,230.71 128.55,227.91 128.65,228.01 128.75,232.54 128.85,223.52 128.95,228.45 129.06,233.2 129.16,230.39 129.26,227.52 129.36,229.36 129.46,227.69 129.57,223.76 129.67,227.5 129.77,224.68 129.87,228.14 129.97,231.65 130.08,225.97 130.18,231.74 130.28,227.41 130.38,228.2 130.48,232.11 130.59,231.73 130.69,230.35 130.79,228.84 130.89,226.41 130.99,229.68 131.1,224.92 131.2,227.59 131.3,231.53 131.4,231.47 131.5,229.63 131.61,231.2 131.71,230.08 131.81,227.81 131.91,229.15 132.01,227.29 132.12,231.62 132.22,232.07 132.32,233.47 132.42,234.46 132.52,230.98 132.63,229.63 132.73,230.33 132.83,229.79 132.93,226.14 133.03,238.48 133.14,240.44 133.24,245.01 133.34,249.95 133.44,247.72 133.54,254.76 133.65,254.59 133.75,263.67 133.85,258.39 133.95,259.58 134.05,269.58 134.16,268.76 134.26,270.09 134.36,268.89 134.46,273.91 134.56,269.04 134.67,267.68 134.77,270.04 134.87,272.87 134.97,266.83 135.07,263.81 135.18,258.17 135.28,258.83 135.38,256.98 135.48,248.89 135.58,245.83 135.69,240.99 135.79,238.76 135.89,232.01 135.99,229.26 136.09,231.07 136.2,221.75 136.3,216.18 136.4,214.16 136.5,206.66 136.6,208.08 136.71,201.74 136.81,203.7 136.91,197.74 137.01,196.76 137.11,195.88 137.22,195.01 137.32,189.75 137.42,188.36 137.52,190.71 137.62,192.28 137.73,191.77 137.83,188.35 137.93,194.73 138.03,190.3 138.13,199.67 138.24,197.01 138.34,198.75 138.44,200.36 138.54,208.01 138.64,212.46 138.75,217.95 138.85,215.82 138.95,222.59 139.05,227.59 139.15,230.83 139.26,229.08 139.36,229.65 139.46,226.66 139.56,235.35 139.66,227.53 139.77,231.12 139.87,229.94 139.97,230.55 140.07,229.96 140.17,227.76 140.28,229.15 140.38,233.49 140.48,229.9 140.58,229.98 140.68,228.76 140.79,229.62 140.89,229.94 140.99,227.05 141.09,232.56 141.19,224.04 141.3,231.19 141.4,232.42 141.5,227.68 141.6,226.92 141.7,226.46 141.81,225.91 141.91,228.47 142.01,229.55 142.11,228.73 142.21,229.72 142.32,231.13 142.42,225.53 142.52,224.97 142.62,229.69 142.72,230.31 142.83,230.99 142.93,234.1 143.03,231.47 143.13,231.05 143.23,229.76 143.34,232.31 143.44,234.66 143.54,228 143.64,225.21 143.74,235.25 143.85,230.06 143.95,227.47 144.05,232.74 144.15,233.44 144.25,229.61 144.36,230.3 144.46,231.36 144.56,225.41 144.66,225.78 144.76,227.98 144.87,229.86 144.97,230.53 145.07,227.37 145.17,230.29 145.27,225.79 145.38,226.42 145.48,231.24 145.58,227.68 145.68,225.57 145.78,227.94 145.89,232.12 145.99,230.34 146.09,230.53 146.19,229.32 146.29,229.55 146.4,230.55 146.5,227.38 146.6,226.09 146.7,231.08 146.8,233.46 146.91,228.63 147.01,229.58 147.11,228.49 147.21,231.37 147.31,228.83 147.42,231.96 147.52,226.73 147.62,225.19 147.72,231.99 147.82,236.34 147.93,230.84 148.03,230.93 148.13,229.04 148.23,231.17 148.33,234.09 148.44,232.4 148.54,244.93 148.64,248.3 148.74,249.85 148.84,259.24 148.95,255.54 149.05,262.09 149.15,266.77 149.25,267.43 149.35,265.73 149.46,266.28 149.56,266.23 149.66,268.94 149.76,272.14 149.86,268.54 149.97,269.51 150.07,262.1 150.17,272.06 150.27,260.58 150.37,260.5 150.48,258.81 150.58,257.18 150.68,255.17 150.78,252.73 150.88,250.57 150.99,237.3 151.09,236.15 151.19,232.72 151.29,229.35 151.39,231.12 151.5,222.69 151.6,217.58 151.7,210.93 151.8,212.79 151.9,205.88 152.01,203.87 152.11,200.11 152.21,199.47 152.31,194.07 152.41,192.75 152.52,196.16 152.62,186.85 152.72,183.43 152.82,191.02 152.92,185.73 153.03,191.71 153.13,191.39 153.23,186.68 153.33,192.42 153.43,191.03 153.54,196.64 153.64,197.51 153.74,203.64 153.84,202.81 153.94,205.46 154.05,212.13 154.15,219.31 154.25,222.86 154.35,228.51 154.45,227.81 154.56,228.02 154.66,231.2 154.76,226.98 154.86,230.88 154.96,224.63 155.07,227.22 155.17,225.22 155.27,231.22 155.37,231.96 155.47,234.12 155.58,227.67 155.68,232.29 155.78,225.85 155.88,228.98 155.98,227.36 156.09,232.69 156.19,230.89 156.29,228.87 156.39,227.42 156.49,232.7 156.6,228.45 156.7,231.5 156.8,227.22 156.9,229.93 157,230.11 157.11,228.2 157.21,226.32 157.31,229.96 157.41,226.15 157.51,231.93 157.62,228.6 157.72,232.25 157.82,228.78 157.92,231.71 158.02,229.25 158.13,227.72 158.23,231.85 158.33,233.9 158.43,229.79 158.53,227.98 158.64,228.74 158.74,231.7 158.84,227.17 158.94,230.1 159.04,227.35 159.15,231.64 159.25,228.2 159.35,226.29 159.45,231.07 159.55,230.11 159.66,227.74 159.76,227.99 159.86,228.43 159.96,229.67 160.06,233.42 160.17,229.37 160.27,232.71 160.37,229.15 160.47,235.44 160.57,225.64 160.68,224.43 160.78,228.22 160.88,231.57 160.98,230.16 161.08,227.07 161.19,227.67 161.29,231.18 161.39,226.26 161.49,227.5 161.59,227.99 161.7,230.29 161.8,229.38 161.9,231.22 162,228.89 162.1,231.09 162.21,226.35 162.31,229.28 162.41,228.84 162.51,228.53 162.61,228.55 162.72,233.07 162.82,226.07 162.92,229.13 163.02,230.81 163.12,231.89 163.23,231.15 163.33,230.97 163.43,229.36 163.53,233.29 163.63,234.94 163.74,238.96 163.84,245.12 163.94,241.47 164.04,251.16 164.14,253.42 164.25,257.18 164.35,260.76 164.45,261.16 164.55,261.55 164.65,267.13 164.76,270.59 164.86,267.98 164.96,275.56 165.06,269.76 165.16,270.4 165.27,268.39 165.37,272.03 165.47,267.75 165.57,267.38 165.67,263.85 165.78,258.32 165.88,257.41 165.98,255.22 166.08,247.14 166.18,246.46 166.29,247.84 166.39,241.29 166.49,233.43 166.59,229.19 166.69,225.58 166.8,221.34 166.9,220.27 167,214.26 167.1,213.3 167.2,208.82 167.31,205.68 167.41,202.44 167.51,198.41 167.61,195.71 167.71,195.14 167.82,188.63 167.92,191.32 168.02,185.35 168.12,186.3 168.22,192 168.33,187.04 168.43,193.78 168.53,187.73 168.63,192.28 168.73,197.74 168.84,203.24 168.94,201.4 169.04,206.92 169.14,203.96 169.24,213.57 169.35,214.74 169.45,216.84 169.55,222.15 169.65,225.65 169.75,230.31 169.86,227.82 169.96,232.08 170.06,228.22 170.16,232.78 170.26,229.23 170.37,232.62 170.47,230.21 170.57,228.19 170.67,226.52 170.77,234.33 170.88,231.67 170.98,232.21 171.08,226.59 171.18,231.93 171.28,227.9 171.39,231.04 171.49,233.42 171.59,229.43 171.69,232.64 171.79,227.84 171.9,227.59 172,226.29 172.1,232.33 172.2,225.67 172.3,227.24 172.41,234.33 172.51,224.03 172.61,225.39 172.71,232.4 172.81,228.88 172.92,233.18 173.02,230.07 173.12,229.25 173.22,228.14 173.32,231.85 173.43,229.8 173.53,232.13 173.63,228.74 173.73,228.02 173.83,229.54 173.94,226.77 174.04,227.79 174.14,228.77 174.24,226.74 174.34,232.93 174.45,229.82 174.55,234.3 174.65,229.78 174.75,230.94 174.85,227.6 174.96,230.87 175.06,231.38 175.16,229.98 175.26,230.07 175.36,228.4 175.47,231.98 175.57,233.6 175.67,233.83 175.77,226.76 175.87,232.98 175.98,230.93 176.08,232.58 176.18,227.46 176.28,231.19 176.38,226.56 176.49,231.55 176.59,228.96 176.69,227.78 176.79,227.23 176.89,232.81 177,230.67 177.1,229.93 177.2,234.44 177.3,227.89 177.4,228.72 177.51,228.41 177.61,233.32 177.71,229.25 177.81,228.6 177.91,227.06 178.02,231.07 178.12,227.97 178.22,224.65 178.32,230.84 178.42,230.78 178.53,230.55 178.63,233.57 178.73,230.65 178.83,227.2 178.93,237.95 179.04,240.15 179.14,240.56 179.24,246.04 179.34,250.57 179.44,255.46 179.55,258.07 179.65,260.63 179.75,261.44 179.85,265.21 179.95,264.81 180.06,273.47 180.16,267.57 180.26,271.65 180.36,270.42 180.46,271.29 180.57,267.86 180.67,268.71 180.77,265.28 180.87,267.07 180.97,262.23 181.08,256.93 181.18,254.28 181.28,254.84 181.38,250.07 181.48,247.68 181.59,243.16 181.69,238.78 181.79,231.59 181.89,229.03 181.99,222.6 182.1,218.25 182.2,221.4 182.3,213.4 182.4,211.56 182.5,211 182.61,206.28 182.71,201.73 182.81,193.38 182.91,195.04 183.01,193.69 183.12,191.62 183.22,192.2 183.32,188.98 183.42,189.23 183.52,193.18 183.63,190.79 183.73,181.65 183.83,189.92 183.93,193.46 184.03,193.55 184.14,200.18 184.24,200.2 184.34,201.24 184.44,210.95 184.54,212.29 184.65,215.21 184.75,218.86 184.85,223.51 184.95,225.64 185.05,227.07 185.16,228.8 185.26,227.06 185.36,227.01 185.46,231.21 185.56,228.99 185.67,230.64 185.77,228 185.87,230.58 185.97,230.16 186.07,225.34 186.18,230.13 186.28,233.67 186.38,229.37 186.48,228.92 186.58,230.97 186.69,229.5 186.79,227.07 186.89,231 186.99,230.15 187.09,231.48 187.2,228.83 187.3,229.99 187.4,232.03 187.5,230.07 187.6,225 187.71,234.02 187.81,233.2 187.91,228.81 188.01,233.21 188.11,224.69 188.22,233.47 188.32,233 188.42,230.98 188.52,226.92 188.62,227.62 188.73,228.21 188.83,228.91 188.93,226.35 189.03,234.3 189.13,228.96 189.24,226.02 189.34,232.39 189.44,228.85 189.54,226.55 189.64,226.48 189.75,230.01 189.85,224.92 189.95,228.38 190.05,226.94 190.15,232.39 190.26,231.59 190.36,231.6 190.46,225.17 190.56,235.6 190.66,234.33 190.77,227.63 190.87,229.29 190.97,237.19 191.07,230.67 191.17,230.44 191.28,226.59 191.38,234.53 191.48,231.01 191.58,226.95 191.68,227.72 191.79,232 191.89,230.39 191.99,233.41 192.09,226.19 192.19,230.75 192.3,226.43 192.4,227.62 192.5,231.9 192.6,230.02 192.7,228.01 192.81,228.53 192.91,225.78 193.01,226.82 193.11,228.82 193.21,227.9 193.32,231.45 193.42,231.16 193.52,228.12 193.62,228.79 193.72,232.45 193.83,229.84 193.93,231.66 194.03,231.05 194.13,228.04 194.23,237.87 194.34,241.23 194.44,242.14 194.54,247.23 194.64,250.66 194.74,258.17 194.85,257.76 194.95,261.51 195.05,265.17 195.15,266.75 195.25,267.9 195.36,266.46 195.46,264.85 195.56,269.92 195.66,266.62 195.76,269.82 195.87,273.17 195.97,268.17 196.07,263.57 196.17,261.37 196.27,264.86 196.38,254.36 196.48,258.93 196.58,255.68 196.68,251.67 196.78,242.98 196.89,241.74 196.99,236.43 197.09,240.22 197.19,230.57 197.29,226.54 197.4,220.35 197.5,219.23 197.6,211.09 197.7,212.06 197.8,210.26 197.91,207.54 198.01,197.15 198.11,195.68 198.21,197.14 198.31,190.33 198.42,191.88 198.52,190.48 198.62,193.01 198.72,190.28 198.82,188.62 198.93,188.8 199.03,191.59 199.13,188.93 199.23,189.48 199.33,197.2 199.44,196.56 199.54,204.17 199.64,202.35 199.74,209.16 199.84,210.69 199.95,213.65 200.05,218.64 200.15,219.46 200.25,228.19 200.35,230.75 200.46,228.76 200.56,229.66 200.66,228.93 200.76,230.1 200.86,231.6 200.97,227.9 201.07,229.37 201.17,227.3 201.27,226.21 201.37,230.46 201.48,231.43 201.58,230.71 201.68,231.2 201.78,234.57 201.88,225.43 201.99,228.53 202.09,223.69 202.19,230.97 202.29,228.07 202.39,228.87 202.5,229.74 202.6,227.09 202.7,229.55 202.8,229.75 202.9,229.15 203.01,235.17 203.11,231.36 203.21,231.41 203.31,225.41 203.41,228.08 203.52,227.58 203.62,227.98 203.72,230.04 203.82,225.4 203.92,230.07 204.03,233.1 204.13,227.97 204.23,226.59 204.33,229.29 204.43,228.63 204.54,227.14 204.64,225.7 204.74,228.08 204.84,225.32 204.94,228.82 205.05,224.28 205.15,233 205.25,227.17 205.35,228.82 205.45,229.24 205.56,232.76 205.66,226.84 205.76,230.03 205.86,232.03 205.96,231.13 206.07,230.12 206.17,229.28 206.27,231.82 206.37,231.85 206.47,228.5 206.58,229.72 206.68,224.6 206.78,230.6 206.88,227.67 206.98,225.17 207.09,230.04 207.19,227.06 207.29,228.78 207.39,229.41 207.49,225.51 207.6,232.03 207.7,231.05 207.8,233.98 207.9,229.84 208,227.07 208.11,230.18 208.21,227.48 208.31,231.44 208.41,226.67 208.51,229.82 208.62,230.74 208.72,225.43 208.82,229.57 208.92,228.11 209.02,229.24 209.13,227.78 209.23,229.24 209.33,232.55 209.43,230.51 209.53,234.18 209.64,238.51 209.74,244.05 209.84,242.79 209.94,252.82 210.04,254.13 210.15,257.08 210.25,263.2 210.35,266.03 210.45,263.58 210.55,265.38 210.66,268.15 210.76,273.54 210.86,270.85 210.96,269.69 211.06,268.48 211.17,266.38 211.27,267.11 211.37,264.33 211.47,260.68 211.57,268.41 211.68,257.46 211.78,258.09 211.88,252.56 211.98,249.76 212.08,249.14 212.19,244.96 212.29,237.58 212.39,235.01 212.49,228.56 212.59,227.17 212.7,216.69 212.8,218.64 212.9,208.87 213,212.17 213.1,205.3 213.21,200.55 213.31,203.58 213.41,199.96 213.51,194.11 213.61,190.21 213.72,187.99 213.82,188.76 213.92,186.67 214.02,191.77 214.12,189.92 214.23,185.68 214.33,191.53 214.43,192.01 214.53,197.42 214.63,195.61 214.74,201.53 214.84,199.41 214.94,199.69 215.04,205.92 215.14,209.87 215.25,215.07 215.35,216.64 215.45,224.85 215.55,227.38 215.65,224.17 215.76,232.83 215.86,230.98 215.96,233.06 216.06,226.5 216.16,230.16 216.27,232.75 216.37,232.71 216.47,226.81 216.57,227.9 216.67,227.59 216.78,229.74 216.88,227.34 216.98,226.3 217.08,227.92 217.18,233.59 217.29,234.51 217.39,233.25 217.49,228.93 217.59,233.34 217.69,232.31 217.8,229.52 217.9,231.81 218,232.81 218.1,227.22 218.2,228.39 218.31,227.65 218.41,227.32 218.51,226.02 218.61,229.73 218.71,230.11 218.82,234.04 218.92,230.25 219.02,231.15 219.12,227.04 219.22,227.97 219.33,225.97 219.43,226.93 219.53,226.7 219.63,228.34 219.73,229.32 219.84,230.62 219.94,229.72 220.04,232.06 220.14,228.7 220.24,229.89 220.35,234.77 220.45,236.45 220.55,231.51 220.65,230.86 220.75,230.45 220.86,226.45 220.96,231.27 221.06,232.88 221.16,228.74 221.26,227.19 221.37,225.58 221.47,232.24 221.57,230.33 221.67,230.77 221.77,225.93 221.88,227.96 221.98,229.65 222.08,227.9 222.18,230.6 222.28,230.22 222.39,229.8 222.49,230.96 222.59,230.34 222.69,228.83 222.79,229.11 222.9,226.01 223,227.56 223.1,229.9 223.2,235.2 223.3,233.42 223.41,230.98 223.51,230.69 223.61,233 223.71,230.67 223.81,229.45 223.92,231.32 224.02,230.1 224.12,229.98 224.22,231.5 224.32,231.9 224.43,230.07 224.53,229.09 224.63,232.35 224.73,236.52 224.83,237.98 224.94,238.44 225.04,247.72 225.14,245.25 225.24,252.68 225.34,254.34 225.45,259.76 225.55,259.27 225.65,263.15 225.75,264.55 225.85,272.14 225.96,266.94 226.06,273.94 226.16,271.18 226.26,269.24 226.36,270.75 226.47,268.35 226.57,268.07 226.67,266.75 226.77,267.08 226.87,260.31 226.98,257.39 227.08,258.57 227.18,256.23 227.28,250.02 227.38,248.69 227.49,242.59 227.59,236.89 227.69,233.15 227.79,226.96 227.89,225.3 228,224.88 228.1,220.35 228.2,212.97 228.3,205.79 228.4,207.81 228.51,205.86 228.61,197.09 228.71,198.09 228.81,193.65 228.91,190.65 229.02,194.07 229.12,191.26 229.22,190.9 229.32,187.79 229.42,187.48 229.53,190.75 229.63,189 229.73,196.05 229.83,192.45 229.93,194.52 230.04,197.78 230.14,204.11 230.24,203.85 230.34,209.58 230.44,206.95 230.55,215.01 230.65,218.75 230.75,222.58 230.85,225.13 230.95,229.61 231.06,228.48 231.16,232.08 231.26,227.09 231.36,231.01 231.46,227.94 231.57,229.22 231.67,227.17 231.77,229.98 231.87,233.42 231.97,232.62 232.08,230.36 232.18,226.4 232.28,230.83 232.38,229.66 232.48,226.72 232.59,231.18 232.69,229.05 232.79,229.11 232.89,231.27 232.99,229.23 233.1,227.23 233.2,227.23 233.3,230.62 233.4,222.66 233.5,228.94 233.61,230.48 233.71,231.57 233.81,232.21 233.91,227.8 234.01,236.86 234.12,230.17 234.22,233.17 234.32,230.22 234.42,229.88 234.52,233 234.63,232.22 234.73,226.69 234.83,231.15 234.93,229.82 235.03,230.57 235.14,227.77 235.24,226.81 235.34,227.55 235.44,228.45 235.54,228.42 235.65,232.71 235.75,226.6 235.85,231.17 235.95,231.98 236.05,230.72 236.16,231.75 236.26,228.79 236.36,228.03 236.46,226.66 236.56,230.03 236.67,231.26 236.77,230.48 236.87,232.67 236.97,231.6 237.07,224.91 237.18,231.69 237.28,230.92 237.38,228.26 237.48,229.17 237.58,227.92 237.69,231.92 237.79,232.41 237.89,226.57 237.99,231.46 238.09,230.04 238.2,229.28 238.3,234.32 238.4,230.27 238.5,231.39 238.6,228.52 238.71,230.56 238.81,235.31 238.91,227.87 239.01,236.06 239.11,230.81 239.22,231.5 239.32,231.3 239.42,229.83 239.52,227.47 239.62,231.94 239.73,231.3 239.83,227.98 239.93,228.56 240.03,229.72 240.13,234.82 240.24,240.34 240.34,244.94 240.44,248.75 240.54,249.03 240.64,251.03 240.75,253.01 240.85,263.29 240.95,263.88 241.05,265.49 241.15,267.73 241.26,271.52 241.36,264.43 241.46,266.67 241.56,270.95 241.66,271.4 241.77,269.63 241.87,271.47 241.97,267.82 242.07,263.19 242.17,258.75 242.28,258.01 242.38,254.06 242.48,256.61 242.58,258.49 242.68,243.44 242.79,242.49 242.89,239.12 242.99,230.69 243.09,233 243.19,228.8 243.3,224.14 243.4,214.26 243.5,211.97 243.6,214.91 243.7,202.86 243.81,203.57 243.91,199.49 244.01,199.69 244.11,190.74 244.21,192.24 244.32,188.4 244.42,192.84 244.52,187.8 244.62,188.87 244.72,189.65 244.83,191.54 244.93,192.11 245.03,194.54 245.13,194.96 245.23,195.43 245.34,196.35 245.44,204.4 245.54,206.16 245.64,208.46 245.74,214.57 245.85,215.01 245.95,218.9 246.05,222.78 246.15,225.43 246.25,227.46 246.36,227.81 246.46,229.11 246.56,228.33 246.66,231.77 246.76,232.13 246.87,228.2 246.97,228.4 247.07,224.36 247.17,230.36 247.27,232.25 247.38,229.08 247.48,230.91 247.58,232.01 247.68,226.41 247.78,225.02 247.89,228.88 247.99,231.42 248.09,229.16 248.19,229.93 248.29,233.24 248.4,227.72 248.5,228.94 248.6,226.68 248.7,231.17 248.8,229.83 248.91,230.08 249.01,234.07 249.11,223.56 249.21,234.98 249.31,232.63 249.42,230.67 249.52,233.67 249.62,228.74 249.72,230.94 249.82,229.6 249.93,229.2 250.03,229.59 250.13,229.53 250.23,230.15 250.33,228.71 250.44,227.76 250.54,230.41 250.64,230.88 250.74,230.76 250.84,229 250.95,230.68 251.05,230.71 251.15,233.51 251.25,224.95 251.35,232.83 251.46,225.57 251.56,227.76 251.66,227.19 251.76,229.1 251.86,228.52 251.97,229.02 252.07,228.26 252.17,227.64 252.27,225.93 252.37,232.21 252.48,228.51 252.58,225.69 252.68,226.24 252.78,232.29 252.88,228.94 252.99,229.02 253.09,229.09 253.19,235.36 253.29,227.54 253.39,233.74 253.5,224.22 253.6,228.05 253.7,229.94 253.8,228.11 253.9,229.33 254.01,231.03 254.11,229.92 254.21,228.81 254.31,231.71 254.41,227.89 254.52,226.88 254.62,226.98 254.72,226.71 254.82,226.41 254.92,227.9 255.03,226.38 255.13,229.51 255.23,228.64 255.33,227.76 255.43,230.62 255.54,240.49 255.64,247.26 255.74,242.04 255.84,248.19 255.94,249.94 256.05,255.44 256.15,259.99 256.25,264.76 256.35,267.78 256.45,263.51 256.56,266.12 256.66,268.82 256.76,273.04 256.86,271.72 256.96,271.71 257.07,270.22 257.17,275.65 257.27,266.27 257.37,260.98 257.47,264.04 257.58,259.98 257.68,256.4 257.78,256.4 257.88,249.29 257.98,248.74 258.09,243.91 258.19,238.13 258.29,234.79 258.39,230.24 258.49,228.64 258.6,220.31 258.7,220.84 258.8,212 258.9,211.59 259,209.8 259.11,203.68 259.21,203.07 259.31,198.98 259.41,195.6 259.51,191.18 259.62,189.47 259.72,189.01 259.82,190.1 259.92,192.82 260.02,189.52 260.13,190.19 260.23,190.56 260.33,192.84 260.43,194.5 260.53,193.17 260.64,201.03 260.74,200.37 260.84,200.25 260.94,208.75 261.04,212.88 261.15,214.72 261.25,218.96 261.35,221.49 261.45,222.86 261.55,229.97 261.66,228.23 261.76,231.12 261.86,230.89 261.96,228.9 262.06,231.35 262.17,226.59 262.27,230.68 262.37,230.06 262.47,232.3 262.57,230.76 262.68,232.2 262.78,230.89 262.88,234.17 262.98,229.68 263.08,225.2 263.19,234.43 263.29,225.22 263.39,229.96 263.49,227.39 263.59,232.23 263.7,224.47 263.8,232.4 263.9,229.85 264,225.68 264.1,232.92 264.21,235.63 264.31,229.84 264.41,231.62 264.51,232.15 264.61,232 264.72,233.41 264.82,226.07 264.92,226.53 265.02,233.16 265.12,229.93 265.23,230.84 265.33,226.83 265.43,231.81 265.53,225.5 265.63,229.65 265.74,231.69 265.84,229.89 265.94,231.17 266.04,223.86 266.14,229.29 266.25,230.91 266.35,229.42 266.45,225.87 266.55,232.15 266.65,234.01 266.76,226.29 266.86,228.09 266.96,230.83 267.06,229.88 267.16,226.82 267.27,236.7 267.37,226.39 267.47,230.13 267.57,227.93 267.67,229.81 267.78,221.68 267.88,231.28 267.98,226.83 268.08,236.42 268.18,229.58 268.29,227.64 268.39,233.68 268.49,234.94 268.59,229.43 268.69,227.06 268.8,226.61 268.9,231.46 269,228.78 269.1,233.35 269.2,225.15 269.31,231.17 269.41,226.37 269.51,230.39 269.61,230.54 269.71,225.47 269.82,231.95 269.92,226.33 270.02,230.61 270.12,231.97 270.22,231.87 270.33,226.76 270.43,229.9 270.53,230.61 270.63,235.29 270.73,232.47 270.84,236.9 270.94,242.79 271.04,245.46 271.14,259.61 271.24,255.97 271.35,257.34 271.45,260.37 271.55,264.68 271.65,264.78 271.75,269.13 271.86,270.36 271.96,272.92 272.06,269.92 272.16,272.33 272.26,271.5 272.37,265.9 272.47,268.52 272.57,266.99 272.67,268.99 272.77,264.08 272.88,257.53 272.98,255.72 273.08,253.78 273.18,250.9 273.28,246.56 273.39,241.81 273.49,239.67 273.59,241.19 273.69,225.41 273.79,223.39 273.9,222.62 274,214.47 274.1,217.61 274.2,207.06 274.3,206.35 274.41,201.19 274.51,201.35 274.61,197.3 274.71,193.75 274.81,190.49 274.92,190.21 275.02,189.13 275.12,190.98 275.22,184.53 275.32,188.46 275.43,190.02 275.53,191.13 275.63,194.69 275.73,195.15 275.83,199.25 275.94,197.16 276.04,200.66 276.14,202.94 276.24,210.11 276.34,211.52 276.45,215.88 276.55,215.56 276.65,226.1 276.75,230.32 276.85,226.35 276.96,228.76 277.06,233.79 277.16,226.18 277.26,225.81 277.36,226.73 277.47,235.08 277.57,229.39 277.67,231.96 277.77,230.4 277.87,233.83 277.98,225.18 278.08,231.51 278.18,228.98 278.28,227.61 278.38,228.1 278.49,228.63 278.59,230.72 278.69,229.13 278.79,230.28 278.89,235.63 279,227.1 279.1,231.34 279.2,231.07 279.3,230.78 279.4,233.33 279.51,232.87 279.61,234.41 279.71,228.49 279.81,226.63 279.91,229.51 280.02,232.7 280.12,226.3 280.22,230.54 280.32,233.87 280.42,234.62 280.53,229.24 280.63,225.94 280.73,230.71 280.83,231.37 280.93,230.43 281.04,231.93 281.14,231.14 281.24,229.05 281.34,231.6 281.44,227.28 281.55,232.26 281.65,227.87 281.75,228.81 281.85,230.72 281.95,230.49 282.06,230.56 282.16,225.34 282.26,231.83 282.36,226.62 282.46,227.08 282.57,230.6 282.67,225.5 282.77,235.92 282.87,229.08 282.97,229.38 283.08,229.66 283.18,227.53 283.28,230.76 283.38,230.2 283.48,226.72 283.59,230.02 283.69,232.41 283.79,228.23 283.89,229.93 283.99,231.19 284.1,228.28 284.2,231.73 284.3,232.28 284.4,230.4 284.5,230.21 284.61,229.58 284.71,232.86 284.81,225.23 284.91,227.96 285.01,229.35 285.12,229.12 285.22,236.24 285.32,227.31 285.42,232.39 285.52,228.41 285.63,232.83 285.73,227.15 285.83,231.11 285.93,231.95 286.03,231.57 286.14,237.08 286.24,247.24 286.34,249.33 286.44,250.66 286.54,255.22 286.65,255.68 286.75,262.45 286.85,268.11 286.95,267.8 287.05,267.73 287.16,267.25 287.26,267.76 287.36,267.04 287.46,269.85 287.56,270.74 287.67,267.62 287.77,268.68 287.87,268.13 287.97,266.23 288.07,260.31 288.18,256.24 288.28,253.74 288.38,258.11 288.48,247.6 288.58,249.67 288.69,243.76 288.79,237.31 288.89,238.2 288.99,233.75 289.09,228.33 289.2,217.83 289.3,215.36 289.4,216.56 289.5,210.08 289.6,206.51 289.71,202.71 289.81,202.31 289.91,193.95 290.01,196.28 290.11,191.1 290.22,195.96 290.32,189.28 290.42,189.07 290.52,185.48 290.62,195.79 290.73,188 290.83,188.18 290.93,192.26 291.03,189.81 291.13,189.81 291.24,195.41 291.34,198.35 291.44,200 291.54,205.71 291.64,207.23 291.75,212.65 291.85,219.95 291.95,224.97 292.05,223.3 292.15,228.15 292.26,231.46 292.36,229.64 292.46,225.89 292.56,234.18 292.66,232.06 292.77,227.89 292.87,227.56 292.97,232.77 293.07,232.31 293.17,229.28 293.28,226.04 293.38,229.68 293.48,235.77 293.58,227.02 293.68,229.77 293.79,230.91 293.89,232.74 293.99,226.59 294.09,229.01 294.19,228.65 294.3,228.8 294.4,228.57 294.5,227.53 294.6,225.24 294.7,232.48 294.81,229.91 294.91,230.89 295.01,225.32 295.11,230.46 295.21,233.92 295.32,229.78 295.42,231.62 295.52,231.64 295.62,230.88 295.72,233.12 295.83,234.76 295.93,224.62 296.03,230.04 296.13,232.15 296.23,228.09 296.34,226.23 296.44,234.28 296.54,230.88 296.64,228.98 296.74,231.92 296.85,228.54 296.95,232.94 297.05,231.45 297.15,230.03 297.25,228.59 297.36,229.61 297.46,231.49 297.56,230.68 297.66,235.24 297.76,224.14 297.87,230.78 297.97,230.49 298.07,229.02 298.17,228.22 298.27,228.82 298.38,231.49 298.48,234.05 298.58,230.17 298.68,231.8 298.78,231.16 298.89,229.72 298.99,229.09 299.09,226.34 299.19,230.1 299.29,234.23 299.4,228.19 299.5,227.3 299.6,234.02 299.7,228.14 299.8,229.23 299.91,231.14 300.01,229.27 300.11,228.71 300.21,228.18 300.31,226.72 300.42,229.76 300.52,229.74 300.62,223.41 300.72,232.52 300.82,230.44 300.93,230.65 301.03,227.72 301.13,226.83 301.23,234.85 301.33,232.34 301.44,242.77 301.54,236.84 301.64,249.26 301.74,248.29 301.84,255.31 301.95,255.93 302.05,262.62 302.15,262.87 302.25,265.36 302.35,267.01 302.46,266.6 302.56,270.85 302.66,271.14 302.76,273.9 302.86,270.57 302.97,270.81 303.07,266.11 303.17,265.16 303.27,266.9 303.37,261.58 303.48,256.68 303.58,257.72 303.68,257 303.78,244.03 303.88,245.3 303.99,241.03 304.09,232.3 304.19,236.81 304.29,229.76 304.39,231.32 304.5,220.94 304.6,217.13 304.7,216.26 304.8,212.66 304.9,207.32 305.01,204.13 305.11,196.33 305.21,198.35 305.31,195.71 305.41,193.7 305.52,195.75 305.62,191.57 305.72,192.98 305.82,188.69 305.92,194.75 306.03,192.39 306.13,189.64 306.23,197.06 306.33,197.31 306.43,192.7 306.54,201.19 306.64,200.49 306.74,202.72 306.84,209.64 306.94,214.85 307.05,210.24 307.15,219.62 307.25,220.88 307.35,228.36 307.45,228.77 307.56,233.15 307.66,233.31 307.76,232.45 307.86,231.36 307.96,231.36 308.07,230.59 308.17,228.59 308.27,231.12 308.37,227.28 308.47,231.45 308.58,227.99 308.68,226.3 308.78,225.18 308.88,234.91 308.98,225.22 309.09,234.33 309.19,226.02 309.29,229.76 309.39,228.8 309.49,232.19 309.6,227.28 309.7,227.93 309.8,231.17 309.9,231.33 310,227.48 310.11,227.02 310.21,227.71 310.31,230.71 310.41,229.71 310.51,227.27 310.62,227.53 310.72,226.77 310.82,229.35 310.92,231.55 311.02,228.96 311.13,228.53 311.23,231.11 311.33,228.55 311.43,231.9 311.53,229.04 311.64,231.29 311.74,224.19 311.84,226.61 311.94,229.03 312.04,233.14 312.15,232.92 312.25,227.89 312.35,230.11 312.45,228.91 312.55,233.83 312.66,233.64 312.76,229.42 312.86,230.26 312.96,233.19 313.06,231.8 313.17,227.67 313.27,230.85 313.37,228.22 313.47,225.41 313.57,228.84 313.68,229.38 313.78,231.27 313.88,226.54 313.98,233.49 314.08,232.58 314.19,229.76 314.29,233.56 314.39,227.16 314.49,231.35 314.59,228.34 314.7,230.52 314.8,230.38 314.9,229.68 315,234.84 315.1,232.56 315.21,230.95 315.31,223.92 315.41,227.59 315.51,227.83 315.61,232.43 315.72,227.39 315.82,226.47 315.92,227.76 316.02,222.87 316.12,233.23 316.23,232.53 316.33,230.41 316.43,232.26 316.53,231.26 316.63,234.2 316.74,239.69 316.84,243.39 316.94,246.45 317.04,249.15 317.14,256.33 317.25,259.53 317.35,257.56 317.45,264.11 317.55,267.6 317.65,266.51 317.76,269.6 317.86,269.39 317.96,270.47 318.06,268.82 318.16,267.83 318.27,271.7 318.37,271.6 318.47,262.76 318.57,266.8 318.67,266.79 318.78,265.07 318.88,257.28 318.98,255.63 319.08,255.24 319.18,249.23 319.29,245.64 319.39,236.26 319.49,234.13 319.59,230.6 319.69,229.71 319.8,222.72 319.9,216.46 320,213.82 320.1,207.7 320.2,206.68 320.31,201.74 320.41,199.29 320.51,199.21 320.61,191.83 320.71,192.32 320.82,189.44 320.92,193.1 321.02,192.3 321.12,189.51 321.22,191.14 321.33,187.86 321.43,189.26 321.53,188.4 321.63,191.73 321.73,198.26 321.84,195.26 321.94,202.18 322.04,205.46 322.14,206.72 322.24,210.49 322.35,211.54 322.45,210.82 322.55,221.15 322.65,222.61 322.75,230.29 322.86,228.86 322.96,231.09 323.06,230.84 323.16,226.24 323.26,228.56 323.37,228.58 323.47,231.83 323.57,225.29 323.67,230.2 323.77,231.44 323.88,229.79 323.98,227.99 324.08,227.79 324.18,225.91 324.28,232.5 324.39,230.86 324.49,225.68 324.59,223.82 324.69,231.37 324.79,229.99 324.9,233.76 325,231.88 325.1,232.04 325.2,230 325.3,232.84 325.41,227.31 325.51,229.88 325.61,230.39 325.71,227.34 325.81,230.43 325.92,232.96 326.02,229.66 326.12,224.08 326.22,229.47 326.32,228.37 326.43,230.25 326.53,230.3 326.63,228.42 326.73,236.62 326.83,232.96 326.94,231.28 327.04,230.43 327.14,225.95 327.24,223.35 327.34,228.09 327.45,228.7 327.55,227.96 327.65,225.81 327.75,232.29 327.85,231.01 327.96,229.33 328.06,228.96 328.16,234.67 328.26,228.62 328.36,233.87 328.47,227.74 328.57,227.53 328.67,235.62 328.77,228.43 328.87,229.22 328.98,231.34 329.08,227.26 329.18,224.53 329.28,228.44 329.38,232.58 329.49,233.49 329.59,232.78 329.69,232.38 329.79,226.82 329.89,228.99 330,229.81 330.1,227.47 330.2,229.69 330.3,229.65 330.4,231.93 330.51,231.36 330.61,229.66 330.71,232.78 330.81,225.42 330.91,229.42 331.02,231.17 331.12,227.2 331.22,232.49 331.32,226.99 331.42,229.52 331.53,224.85 331.63,231.17 331.73,230.77 331.83,233.61 331.93,238.82 332.04,239.03 332.14,246.43 332.24,246.7 332.34,252.86 332.44,251.89 332.55,264.44 332.65,259.61 332.75,263.12 332.85,265.44 332.95,268.92 333.06,264.16 333.16,270.79 333.26,269.22 333.36,271.18 333.46,271.17 333.57,269.32 333.67,266.7 333.77,269.84 333.87,266.26 333.97,266.43 334.08,259.11 334.18,259.42 334.28,255.91 334.38,248.79 334.48,246.81 334.59,241.85 334.69,239.24 334.79,233.7 334.89,230.36 334.99,229.31 335.1,221.71 335.2,219.09 335.3,214.88 335.4,209.75 335.5,208.33 335.61,206.31 335.71,197.42 335.81,192.96 335.91,196.22 336.01,190.29 336.12,190.6 336.22,192.01 336.32,191.66 336.42,189.79 336.52,190.17 336.63,190.35 336.73,190.66 336.83,194.55 336.93,191.03 337.03,198.27 337.14,200.53 337.24,198.1 337.34,201.58 337.44,203.11 337.54,210.12 337.65,215.93 337.75,215.22 337.85,222.51 337.95,226.73 338.05,231.96 338.16,228.7 338.26,235.91 338.36,228.38 338.46,234.96 338.56,227.48 338.67,233.8 338.77,227.98 338.87,223.32 338.97,230.48 339.07,232.79 339.18,224.69 339.28,230.9 339.38,232.65 339.48,226.49 339.58,237.16 339.69,233.62 339.79,233.18 339.89,231.56 339.99,235.03 340.09,227.61 340.2,227.09 340.3,229.9 340.4,230.83 340.5,233.83 340.6,228.53 340.71,231.58 340.81,228.15 340.91,227.1 341.01,229.63 341.11,235.26 341.22,232.2 341.32,226.19 341.42,229.04 341.52,226.05 341.62,235.58 341.73,230.04 341.83,230.21 341.93,233.99 342.03,231.43 342.13,227.2 342.24,228.34 342.34,231.15 342.44,228.9 342.54,226.64 342.64,232.56 342.75,228.98 342.85,227.03 342.95,231.54 343.05,226.35 343.15,229.98 343.26,226.85 343.36,227.34 343.46,229.06 343.56,230.51 343.66,231.45 343.77,229.3 343.87,229.19 343.97,226.08 344.07,229.97 344.17,228.82 344.28,225.34 344.38,228.9 344.48,228.55 344.58,225.54 344.68,229.5 344.79,228.7 344.89,227.77 344.99,230.04 345.09,232.64 345.19,233.55 345.3,230.27 345.4,226.81 345.5,227.14 345.6,225.49 345.7,227.38 345.81,231.43 345.91,233.53 346.01,231.09 346.11,230.43 346.21,231.68 346.32,227.33 346.42,231.81 346.52,228.23 346.62,227.7 346.72,234.28 346.83,230.84 346.93,226.46 347.03,227.54 347.13,231.1 347.23,238.47 347.34,241.51 347.44,243.45 347.54,244.24 347.64,249.91 347.74,254.86 347.85,257.2 347.95,258.66 348.05,267.81 348.15,268.02 348.25,267.19 348.36,265.55 348.46,266.91 348.56,272.35 348.66,270.43 348.76,272.17 348.87,270.57 348.97,268.07 349.07,267.88 349.17,266.49 349.27,265.8 349.38,264.27 349.48,257.7 349.58,253.47 349.68,248.88 349.78,248.91 349.89,244.78 349.99,235.59 350.09,233.67 350.19,228.28 350.29,227.89 350.4,224.12 350.5,221.2 350.6,211.67 350.7,213.43 350.8,211.4 350.91,205.51 351.01,197.2 351.11,197.67 351.21,194.72 351.31,192.97 351.42,191.72 351.52,190.77 351.62,193.14 351.72,184.73 351.82,189.45 351.93,186.33 352.03,194.4 352.13,190.2 352.23,196.35 352.33,198.69 352.44,197.05 352.54,197.82 352.64,200 352.74,203.43 352.84,211.18 352.95,212.21 353.05,219.75 353.15,223.67 353.25,225.78 353.35,230.06 353.46,227.54 353.56,234.52 353.66,226.8 353.76,231.26 353.86,225.91 353.97,226.77 354.07,232.75 354.17,229.88 354.27,227.99 354.37,231.81 354.48,231.68 354.58,230.54 354.68,227.81 354.78,227.39 354.88,230.84 354.99,227.59 355.09,225.92 355.19,227.35 355.29,231.65 355.39,231.93 355.5,229 355.6,227.61 355.7,228.63 355.8,230.74 355.9,232.15 356.01,226.44 356.11,230.13 356.21,224.89 356.31,232.71 356.41,230.59 356.52,231.4 356.62,224.95 356.72,226.52 356.82,231.01 356.92,234.73 357.03,226.74 357.13,229.39 357.23,232.65 357.33,233.62 357.43,228.69 357.54,230.26 357.64,229.35 357.74,228.7 357.84,230.68 357.94,230.43 358.05,228.01 358.15,230.01 358.25,230.44 358.35,228.06 358.45,234.85 358.56,226.5 358.66,228.56 358.76,231.7 358.86,230.17 358.96,226.53 359.07,228.28 359.17,234.32 359.27,232.34 359.37,229.24 359.47,225.09 359.58,227.73 359.68,230.22 359.78,228.21 359.88,229.67 359.98,230.49 360.09,228.72 360.19,235.24 360.29,227.09 360.39,228.31 360.49,230.84 360.6,231.92 360.7,232.83 360.8,229 360.9,229.32 361,229.24 361.11,225.27 361.21,235.4 361.31,231.57 361.41,231.7 361.51,227.25 361.62,230.35 361.72,232.14 361.82,229.16 361.92,228.65 362.02,225.53 362.13,229.04 362.23,230.84 362.33,231 362.43,231.8 362.53,228.44 362.64,227.58 362.74,230.28 362.84,230.05 362.94,226.13 363.04,229.44 363.15,228.41 363.25,232.51 363.35,231.26 363.45,235.23 363.55,233.23 363.66,228.75 363.76,226.47 363.86,230.39 363.96,232.79 364.06,229.46 364.17,226.74 364.27,230.12 364.37,227.32 364.47,229.86 364.57,232.88 364.68,232.04 364.78,230.36 364.88,223.8 364.98,228.19 365.08,230.31 365.19,228.95 365.29,229.15 365.39,230.84 365.49,229.97 365.59,230.35 365.7,227.78 365.8,225.66 365.9,226.26 366,230.52 366.1,228.26 366.21,231.57 366.31,232.52 366.41,229.5 366.51,228.12 366.61,229.86 366.72,227.55 366.82,227.55 366.92,227.74 367.02,230.09 367.12,233.21 367.23,225.04 367.33,230.93 367.43,227.8 367.53,228.44 367.63,230.59 367.74,224.97 367.84,227.95 367.94,229.73 368.04,230.77 368.14,232.19 368.25,232.97 368.35,228.22 368.45,230.83 368.55,230.86 368.65,228.39 368.76,230.59 368.86,228.01 368.96,231.35 369.06,231.04 369.16,227.32 369.27,231.45 369.37,228.12 369.47,228.39 369.57,229.67 369.67,233.96 369.78,233.07 369.88,232.52 369.98,233.02 370.08,227.47 370.18,231.94 370.29,232.9 370.39,231 370.49,229.95 370.59,234 370.69,228.14 370.8,227.83 370.9,231.23 371,227.62 371.1,233.7 371.2,231.12 371.31,230.12 371.41,229.52 371.51,226.74 371.61,230.55 371.71,232.3 371.82,229.15 371.92,229.3 372.02,228.55 372.12,230.56 372.22,229.26 372.33,231.17 372.43,228.25 372.53,231.4 372.63,231.3 372.73,226.7 372.84,231.66 372.94,229.69 373.04,228.24 373.14,230.52 373.24,227.38 373.35,231.19 373.45,227.08 373.55,233.7 373.65,233.18 373.75,229.53 373.86,226.03 373.96,225.57 374.06,231.91 374.16,229.78 374.26,230.97 374.37,235.2 374.47,227.85 374.57,230.67 374.67,226.19 374.77,228.99 374.88,231.07 374.98,231.48 375.08,230.19 375.18,228.54 375.28,230.96 375.39,222.51 375.49,229.17 375.59,232.62 375.69,229.5 375.79,226.77 375.9,228.6 376,230.55 376.1,231.41" fill="none" stroke="#b01212" stroke-width="0.9" stroke-linejoin="round"/>
<rect x="100.5" y="175.3" width="46" height="114.7" fill="none" stroke="#3cae3c" stroke-width="1.2" stroke-dasharray="1.3,1.3"/>
<line x1="39.5" y1="172.6" x2="39.5" y2="286.2" stroke="#7a7a7a" stroke-width="1"/>
<line x1="39" y1="286.2" x2="378.8" y2="286.2" stroke="#7a7a7a" stroke-width="1"/>
<line x1="39.5" y1="188.95" x2="43.1" y2="188.95" stroke="#7a7a7a" stroke-width="1"/>
<text x="35.9" y="191.55" font-size="8.2" fill="#333333" text-anchor="end" textLength="16.44" lengthAdjust="spacingAndGlyphs">0.05</text>
<line x1="39.5" y1="229.7" x2="43.1" y2="229.7" stroke="#7a7a7a" stroke-width="1"/>
<text x="35.9" y="232.3" font-size="8.2" fill="#333333" text-anchor="end" textLength="4.7" lengthAdjust="spacingAndGlyphs">0</text>
<line x1="39.5" y1="270.45" x2="43.1" y2="270.45" stroke="#7a7a7a" stroke-width="1"/>
<text x="35.9" y="273.05" font-size="8.2" fill="#333333" text-anchor="end" textLength="21.37" lengthAdjust="spacingAndGlyphs">−0.05</text>
<line x1="39.5" y1="286.2" x2="39.5" y2="282.6" stroke="#7a7a7a" stroke-width="1"/>
<text x="39.5" y="298" font-size="8.2" fill="#333333" text-anchor="middle" textLength="4.24" lengthAdjust="spacingAndGlyphs">0</text>
<line x1="70.1" y1="286.2" x2="70.1" y2="282.6" stroke="#7a7a7a" stroke-width="1"/>
<text x="70.1" y="298" font-size="8.2" fill="#333333" text-anchor="middle" textLength="10.6" lengthAdjust="spacingAndGlyphs">0.1</text>
<line x1="100.7" y1="286.2" x2="100.7" y2="282.6" stroke="#7a7a7a" stroke-width="1"/>
<text x="100.7" y="298" font-size="8.2" fill="#333333" text-anchor="middle" textLength="10.6" lengthAdjust="spacingAndGlyphs">0.2</text>
<line x1="131.3" y1="286.2" x2="131.3" y2="282.6" stroke="#7a7a7a" stroke-width="1"/>
<text x="131.3" y="298" font-size="8.2" fill="#333333" text-anchor="middle" textLength="10.6" lengthAdjust="spacingAndGlyphs">0.3</text>
<line x1="161.9" y1="286.2" x2="161.9" y2="282.6" stroke="#7a7a7a" stroke-width="1"/>
<text x="161.9" y="298" font-size="8.2" fill="#333333" text-anchor="middle" textLength="10.6" lengthAdjust="spacingAndGlyphs">0.4</text>
<line x1="192.5" y1="286.2" x2="192.5" y2="282.6" stroke="#7a7a7a" stroke-width="1"/>
<text x="192.5" y="298" font-size="8.2" fill="#333333" text-anchor="middle" textLength="10.6" lengthAdjust="spacingAndGlyphs">0.5</text>
<line x1="223.1" y1="286.2" x2="223.1" y2="282.6" stroke="#7a7a7a" stroke-width="1"/>
<text x="223.1" y="298" font-size="8.2" fill="#333333" text-anchor="middle" textLength="10.6" lengthAdjust="spacingAndGlyphs">0.6</text>
<line x1="253.7" y1="286.2" x2="253.7" y2="282.6" stroke="#7a7a7a" stroke-width="1"/>
<text x="253.7" y="298" font-size="8.2" fill="#333333" text-anchor="middle" textLength="10.6" lengthAdjust="spacingAndGlyphs">0.7</text>
<line x1="284.3" y1="286.2" x2="284.3" y2="282.6" stroke="#7a7a7a" stroke-width="1"/>
<text x="284.3" y="298" font-size="8.2" fill="#333333" text-anchor="middle" textLength="10.6" lengthAdjust="spacingAndGlyphs">0.8</text>
<line x1="314.9" y1="286.2" x2="314.9" y2="282.6" stroke="#7a7a7a" stroke-width="1"/>
<text x="314.9" y="298" font-size="8.2" fill="#333333" text-anchor="middle" textLength="10.6" lengthAdjust="spacingAndGlyphs">0.9</text>
<line x1="345.5" y1="286.2" x2="345.5" y2="282.6" stroke="#7a7a7a" stroke-width="1"/>
<text x="345.5" y="298" font-size="8.2" fill="#333333" text-anchor="middle" textLength="10.6" lengthAdjust="spacingAndGlyphs">1.0</text>
<line x1="376.1" y1="286.2" x2="376.1" y2="282.6" stroke="#7a7a7a" stroke-width="1"/>
<text x="376.1" y="298" font-size="8.2" fill="#333333" text-anchor="middle" textLength="10.6" lengthAdjust="spacingAndGlyphs">1.1</text>
<text x="7.4" y="229.5" font-size="8.9" fill="#2a2a2a" text-anchor="middle" textLength="52" lengthAdjust="spacingAndGlyphs" transform="rotate(-90 7.4 229.5)">Voltage (mV)</text>
<line x1="97" y1="291.5" x2="17.5" y2="318.1" stroke="#3cae3c" stroke-width="1.2" stroke-dasharray="1.3,1.3"/>
<polygon points="13.2,319.6 18.6,319.9 17.3,316.1" fill="#3cae3c"/>
<line x1="146.5" y1="290.2" x2="383.5" y2="319.1" stroke="#3cae3c" stroke-width="1.2" stroke-dasharray="1.3,1.3"/>
<polygon points="388.5,319.7 383.8,317.1 383.3,321.1" fill="#3cae3c"/>
<line x1="128.3" y1="345.5" x2="134.7" y2="345.5" stroke="#cccccc" stroke-width="1"/>
<text x="139.7" y="347.9" font-size="8" fill="#383838" text-anchor="start" textLength="33" lengthAdjust="spacingAndGlyphs">Individual</text>
<line x1="185" y1="345.5" x2="192.5" y2="345.5" stroke="#b82828" stroke-width="1"/>
<text x="197.3" y="347.9" font-size="8" fill="#383838" text-anchor="start" textLength="49.7" lengthAdjust="spacingAndGlyphs">Reconstructed</text>
<line x1="260" y1="345.5" x2="267.3" y2="345.5" stroke="#5050f8" stroke-width="1"/>
<text x="271.5" y="347.9" font-size="8" fill="#383838" text-anchor="start" textLength="33.8" lengthAdjust="spacingAndGlyphs">Simulated</text>
<polygon points="39.3,402.9 39.8,401.5 40.3,403.87 40.8,404.78 41.3,403.69 41.8,399.95 42.3,404.37 42.8,404.12 43.3,405.58 43.8,400.51 44.3,399.66 44.8,404.87 45.3,396.22 45.8,402.16 46.3,402.49 46.8,405.27 47.3,404.86 47.8,395.85 48.3,403.31 48.8,404.73 49.3,404.52 49.8,400.65 50.3,394.01 50.8,404.85 51.3,404.76 51.8,407.61 52.3,409.97 52.8,411.59 53.3,414.28 53.8,413.18 54.3,416.27 54.8,420.92 55.3,423.39 55.8,428.38 56.3,430.49 56.8,430.58 57.3,432.93 57.8,432.93 58.3,435.82 58.8,436.49 59.3,439.13 59.8,439.96 60.3,442.65 60.8,441.1 61.3,438.14 61.8,444.83 62.3,444.38 62.8,444.66 63.3,443.48 63.8,443.28 64.3,440.77 64.8,442.22 65.3,438.96 65.8,438.96 66.3,436.14 66.8,435.37 67.3,434.95 67.8,431.81 68.3,430.24 68.8,423.42 69.3,426.26 69.8,425.86 70.3,417.7 70.8,419.68 71.3,414.14 71.8,416.75 72.3,413.64 72.8,409.33 73.3,406.43 73.8,401.06 74.3,402.33 74.8,401.22 75.3,398.79 75.8,396 76.3,389.77 76.8,390.41 77.3,388.53 77.8,383.95 78.3,382.6 78.8,378.81 79.3,379.15 79.8,369.2 80.3,372.3 80.8,367.79 81.3,371.76 81.8,368.23 82.3,369.84 82.8,367.09 83.3,364.9 83.8,365.99 84.3,361.84 84.8,364.32 85.3,362.72 85.8,356.31 86.3,363.7 86.8,362.73 87.3,364.26 87.8,364.65 88.3,358.51 88.8,363.72 89.3,361.59 89.8,363.96 90.3,359.75 90.8,364.96 91.3,362.8 91.8,361.45 92.3,367.73 92.8,366.5 93.3,366.84 93.8,371.95 94.3,372.08 94.8,373.57 95.3,372.02 95.8,380.1 96.3,381.27 96.8,383.85 97.3,385.72 97.8,386.12 98.3,385.92 98.8,392.37 99.3,391.08 99.8,396.53 100.3,400.09 100.8,403.52 101.3,400.01 101.8,404.69 102.3,404.5 102.8,403.98 103.3,400.1 103.8,402.23 104.3,405.4 104.8,399.62 105.3,403.19 105.8,404.28 106.3,404.95 106.8,401.6 107.3,405.51 107.8,404.55 108.3,402.11 108.8,404.07 109.3,403.13 109.8,403.16 110.3,403.94 110.8,404.51 111.3,405.05 111.8,401.37 112.3,400.46 112.8,402.65 113.3,400.5 113.8,400.54 114.3,402.81 114.8,400.26 115.3,400.05 115.8,403.13 116.3,403.85 116.8,399.51 117.3,405.24 117.8,401.37 118.3,403.64 118.8,404.64 119.3,402.45 119.8,405.25 120.3,405.11 120.8,405.23 121.3,402.21 121.8,400.27 122.3,405.36 122.8,404.68 123.3,404.26 123.8,405.33 124.3,402.54 124.8,402.49 125.3,404.63 125.8,402.76 126.3,402.73 126.8,402.23 127.3,402.57 127.8,404.75 128.3,401.15 128.8,402.59 129.3,404.66 129.8,402.39 130.3,404.47 130.8,402.7 131.3,402.19 131.8,401.93 132.3,403.47 132.8,403.87 133.3,401.82 133.8,403.36 134.3,403.77 134.8,402.91 135.3,399.64 135.8,400.51 136.3,405.07 136.8,402.15 137.3,404.96 137.8,399.73 138.3,404.19 138.8,401.76 139.3,401.01 139.8,399.78 140.3,404.21 140.8,405.44 141.3,405.35 141.8,401.67 142.3,402.99 142.8,403.03 143.3,404.37 143.8,403.05 144.3,403.32 144.8,403.84 145.3,401.18 145.8,403.64 146.3,403.92 146.8,404.65 147.3,402.13 147.8,402.61 148.3,404.78 148.8,397.05 149.3,398.52 149.8,404.29 150.3,404.59 150.8,402.64 151.3,404.94 151.8,405.66 152.3,405.28 152.8,400.51 153.3,405.35 153.8,399.05 154.3,405.06 154.8,402.6 155.3,403.6 155.8,404.6 156.3,402.65 156.8,401.3 157.3,405.54 157.8,401.92 158.3,400.36 158.8,400.75 159.3,403.79 159.8,404.98 160.3,403.12 160.8,400.91 161.3,404.22 161.8,401.82 162.3,404.69 162.8,402.56 163.3,405.2 163.8,405.22 164.3,404.6 164.8,404.27 165.3,403.63 165.8,404.97 166.3,400.38 166.8,404.6 167.3,396.17 167.8,404.7 168.3,402.82 168.8,402.76 169.3,396.05 169.8,398.54 170.3,404.49 170.8,400.03 171.3,404.18 171.8,403.95 172.3,404.17 172.8,397.92 173.3,402.75 173.8,405.52 174.3,408.61 174.8,409.29 175.3,413.2 175.8,412.25 176.3,416.17 176.8,420 177.3,420.36 177.8,423.89 178.3,422.71 178.8,429.5 179.3,431.14 179.8,430.03 180.3,435.74 180.8,430.84 181.3,434.99 181.8,439 182.3,438.93 182.8,436.83 183.3,438.53 183.8,441.67 184.3,442.93 184.8,445.99 185.3,440.38 185.8,441.96 186.3,444.68 186.8,442.38 187.3,441.94 187.8,441.11 188.3,439.8 188.8,438.5 189.3,433.79 189.8,435.86 190.3,432.69 190.8,427.39 191.3,425.21 191.8,423.42 192.3,425.86 192.8,416.72 193.3,418.99 193.8,416.08 194.3,414.78 194.8,411.95 195.3,405.37 195.8,409.23 196.3,406.64 196.8,402.95 197.3,396 197.8,398.52 198.3,395.27 198.8,393.13 199.3,387.16 199.8,388.56 200.3,381.89 200.8,383.58 201.3,381.9 201.8,378.67 202.3,371.4 202.8,375.74 203.3,369.91 203.8,371.17 204.3,371.12 204.8,370.12 205.3,366.15 205.8,365.79 206.3,365.72 206.8,363.92 207.3,362.6 207.8,362.87 208.3,361.32 208.8,363.51 209.3,363.97 209.8,363.41 210.3,362.79 210.8,361.35 211.3,363.87 211.8,361.75 212.3,359.14 212.8,365.41 213.3,361.95 213.8,362.12 214.3,364.35 214.8,368.14 215.3,366.54 215.8,370.25 216.3,371.64 216.8,370.25 217.3,374.57 217.8,377.87 218.3,379.48 218.8,380.47 219.3,381.65 219.8,380.81 220.3,389.01 220.8,388.97 221.3,393.27 221.8,392.56 222.3,395.66 222.8,397.89 223.3,399.57 223.8,402.82 224.3,402.92 224.8,405.61 225.3,394.49 225.8,403.5 226.3,400.06 226.8,403.66 227.3,401.32 227.8,402.53 228.3,404.47 228.8,405.57 229.3,405.47 229.8,404.86 230.3,405.26 230.8,401.81 231.3,402.76 231.8,403.75 232.3,404.91 232.8,400.88 233.3,403.4 233.8,404.93 234.3,399.01 234.8,403.26 235.3,400.38 235.8,402.42 236.3,399.72 236.8,402.63 237.3,404.54 237.8,402.15 238.3,402.57 238.8,402.33 239.3,403.81 239.8,403.84 240.3,404.59 240.8,399.93 241.3,405.11 241.8,404.68 242.3,400.32 242.8,405.17 243.3,404.77 243.8,400.01 244.3,402.58 244.8,403.15 245.3,402.41 245.8,403.35 246.3,403.4 246.8,402.83 247.3,401.27 247.8,405.65 248.3,402.42 248.8,403.34 249.3,400.79 249.8,400.52 250.3,401.72 250.8,402.68 251.3,402.16 251.8,404.03 252.3,400.13 252.8,403.06 253.3,405.01 253.8,404 254.3,404.9 254.8,404.94 255.3,404.41 255.8,405.38 256.3,400.1 256.8,405.63 257.3,405.16 257.8,400.92 258.3,404.22 258.8,402.31 259.3,396.34 259.8,398.75 260.3,405.48 260.8,403.84 261.3,404.07 261.8,400.45 262.3,405 262.8,402.59 263.3,405.41 263.8,400.39 264.3,404.19 264.8,404.86 265.3,404.95 265.8,405.62 266.3,403.86 266.8,405.18 267.3,402.17 267.8,405.17 268.3,405.37 268.8,401.68 269.3,401.24 269.8,405.07 270.3,402.47 270.8,404.9 271.3,403.63 271.8,394.7 272.3,402.49 272.8,403.22 273.3,401.7 273.8,400.24 274.3,401.78 274.8,400.98 275.3,405.04 275.8,405.34 276.3,405.27 276.8,404.59 277.3,402.61 277.8,403.73 278.3,405.18 278.8,404.29 279.3,403.69 279.8,404.25 280.3,401.48 280.8,403.04 281.3,404.11 281.8,399.65 282.3,399.98 282.8,400.15 283.3,397.64 283.8,403.38 284.3,404.2 284.8,402.55 285.3,403.5 285.8,405.52 286.3,402.43 286.8,403.32 287.3,404.03 287.8,405.18 288.3,402.08 288.8,403.33 289.3,403.37 289.8,402.64 290.3,400.68 290.8,403.45 291.3,402.84 291.8,404.28 292.3,405.49 292.8,401.54 293.3,404.61 293.8,401.65 294.3,405.53 294.8,405.52 295.3,403.86 295.8,402.78 296.3,400.51 296.8,407.84 297.3,405.88 297.8,411.48 298.3,413.64 298.8,411.27 299.3,418.75 299.8,418.84 300.3,421.93 300.8,427.19 301.3,429.52 301.8,426.97 302.3,434.24 302.8,435.22 303.3,436.01 303.8,435.73 304.3,440.4 304.8,440.04 305.3,438.13 305.8,443.72 306.3,443.07 306.8,435.71 307.3,445.07 307.8,440.22 308.3,441.1 308.8,440.52 309.3,443.13 309.8,441.22 310.3,441.54 310.8,436.84 311.3,433.45 311.8,429.7 312.3,431.6 312.8,433.57 313.3,427.76 313.8,429.71 314.3,428.07 314.8,419.31 315.3,421.95 315.8,417.11 316.3,413.08 316.8,415.78 317.3,411.63 317.8,409.2 318.3,407.06 318.8,405.37 319.3,401.22 319.8,397.92 320.3,395.07 320.8,393.36 321.3,394.07 321.8,387.7 322.3,387.33 322.8,384.57 323.3,378.55 323.8,380.35 324.3,374.91 324.8,377.17 325.3,374.78 325.8,374.39 326.3,372.96 326.8,366.57 327.3,367.86 327.8,366.22 328.3,367.01 328.8,366.89 329.3,363.71 329.8,364.99 330.3,358.1 330.8,363.9 331.3,361.19 331.8,361.78 332.3,358.93 332.8,360.7 333.3,363.2 333.8,358.14 334.3,363.3 334.8,365.08 335.3,364.71 335.8,365.2 336.3,363.76 336.8,367.07 337.3,367.38 337.8,366.6 338.3,368.46 338.8,369.95 339.3,367.97 339.8,373.72 340.3,375.95 340.8,371.64 341.3,377.68 341.8,377.8 342.3,382.51 342.8,387.36 343.3,388.6 343.8,383.34 344.3,393.91 344.8,397.53 345.3,397.65 345.8,403.21 346.3,398.01 346.8,404.93 347.3,404.49 347.8,402.37 348.3,404.37 348.8,404.85 349.3,399.28 349.8,403.89 350.3,398.07 350.8,399.51 351.3,401.65 351.8,400.98 352.3,405.51 352.8,404.72 353.3,400.92 353.8,403.04 354.3,400.88 354.8,404.85 355.3,402.02 355.8,405.57 356.3,402.06 356.8,403.79 357.3,403.83 357.8,402.29 358.3,398.84 358.8,404.26 359.3,400.84 359.8,404 360.3,405.22 360.8,405.11 361.3,404.33 361.8,404.26 362.3,405.46 362.8,401.61 363.3,405.12 363.8,405.64 364.3,396.92 364.8,401.72 365.3,401.83 365.8,402.57 366.3,401.81 366.8,402.29 367.3,401.27 367.8,402.21 368.3,405.29 368.8,403.41 369.3,398.31 369.8,401.01 370.3,399.14 370.8,401.23 371.3,402.94 371.8,401.19 372.3,403.95 372.8,405.5 373.3,404.66 373.8,401.84 374.3,403.26 374.8,404.79 375.3,402.11 375.8,403.51 376.3,404.92 376.8,403.83 377.3,404.94 377.8,403.76 378.3,404.41 378.8,402.82 379.3,404.42 379.8,404.62 380.3,402.34 380.8,399.44 381.3,405.59 381.8,402.34 382.3,402.29 382.3,413.57 381.8,416.66 381.3,415.33 380.8,416.05 380.3,415.38 379.8,414.52 379.3,414.49 378.8,413.51 378.3,412.91 377.8,414.44 377.3,416.36 376.8,412.22 376.3,414.24 375.8,412.15 375.3,413.22 374.8,416.76 374.3,415.24 373.8,416.68 373.3,412.71 372.8,421.76 372.3,416.43 371.8,414.34 371.3,415.19 370.8,413.62 370.3,422.35 369.8,419.39 369.3,414.97 368.8,414.63 368.3,417.36 367.8,415.81 367.3,412.56 366.8,412.47 366.3,418.29 365.8,415.3 365.3,413.78 364.8,416.34 364.3,415.02 363.8,412.98 363.3,414.28 362.8,415.1 362.3,412.75 361.8,412.15 361.3,420.71 360.8,415.43 360.3,412.2 359.8,416.84 359.3,413.11 358.8,412.22 358.3,413.88 357.8,412.95 357.3,418.09 356.8,416.24 356.3,413.54 355.8,413.36 355.3,412.28 354.8,413.9 354.3,418.48 353.8,412.64 353.3,415.41 352.8,413.18 352.3,415.39 351.8,413.35 351.3,416.72 350.8,415.56 350.3,414.72 349.8,415.18 349.3,413.38 348.8,412.77 348.3,413 347.8,412.69 347.3,415.16 346.8,416.93 346.3,416.31 345.8,419.79 345.3,416.4 344.8,415.82 344.3,412.27 343.8,412.19 343.3,413.93 342.8,405.91 342.3,407.55 341.8,404.22 341.3,406.95 340.8,396.52 340.3,398.74 339.8,397.1 339.3,395.04 338.8,387.15 338.3,387.61 337.8,384.28 337.3,385.22 336.8,379.87 336.3,379.59 335.8,379 335.3,380.43 334.8,376.77 334.3,373.59 333.8,372.89 333.3,372.18 332.8,373.14 332.3,372.64 331.8,376.87 331.3,373.81 330.8,375.64 330.3,383.76 329.8,376.22 329.3,379.14 328.8,383.67 328.3,381.63 327.8,383.38 327.3,387.19 326.8,391.11 326.3,389.07 325.8,392.04 325.3,394.85 324.8,396.97 324.3,397.61 323.8,398.58 323.3,401.58 322.8,408.94 322.3,408.99 321.8,410.15 321.3,412.17 320.8,419.61 320.3,416.65 319.8,419.87 319.3,426.54 318.8,429.79 318.3,428.82 317.8,430.7 317.3,432.89 316.8,436.34 316.3,437.68 315.8,442.65 315.3,440.71 314.8,443.15 314.3,447.25 313.8,451.39 313.3,446.98 312.8,453.38 312.3,450.37 311.8,459 311.3,452.83 310.8,452.61 310.3,453.63 309.8,454.58 309.3,460.08 308.8,453.99 308.3,455.22 307.8,457.24 307.3,453.27 306.8,460.21 306.3,454.69 305.8,454.84 305.3,456.94 304.8,459.55 304.3,456.2 303.8,454.27 303.3,453.43 302.8,452.37 302.3,449.14 301.8,448.28 301.3,447.79 300.8,446.51 300.3,446.67 299.8,439.62 299.3,437.7 298.8,436.23 298.3,433.29 297.8,431.16 297.3,430.05 296.8,426.98 296.3,423.74 295.8,430.42 295.3,422.77 294.8,417.21 294.3,418.39 293.8,413.62 293.3,414.82 292.8,412.89 292.3,413.69 291.8,415.94 291.3,415.58 290.8,414.43 290.3,417.72 289.8,413.36 289.3,414.39 288.8,419.25 288.3,413.01 287.8,413.25 287.3,414.24 286.8,414.79 286.3,415.24 285.8,414.23 285.3,414.56 284.8,413.6 284.3,412.28 283.8,415.35 283.3,413.91 282.8,416.52 282.3,414.64 281.8,415.7 281.3,416.22 280.8,416.31 280.3,416.8 279.8,414.64 279.3,414.62 278.8,413.92 278.3,413.57 277.8,416.12 277.3,412.71 276.8,415.32 276.3,413.55 275.8,415.34 275.3,418.31 274.8,415.92 274.3,414.14 273.8,415.17 273.3,417.29 272.8,414.63 272.3,417.14 271.8,413.4 271.3,415.28 270.8,413.65 270.3,412.31 269.8,415.14 269.3,416.1 268.8,416.33 268.3,412.47 267.8,412.47 267.3,416.26 266.8,417.06 266.3,413.42 265.8,413.37 265.3,413.32 264.8,415.89 264.3,415.94 263.8,414.96 263.3,417.62 262.8,417.13 262.3,416.59 261.8,417.74 261.3,413.17 260.8,413.17 260.3,413.72 259.8,413.01 259.3,414.72 258.8,414.81 258.3,415.26 257.8,414.85 257.3,413.8 256.8,417.35 256.3,414.91 255.8,415.93 255.3,416.15 254.8,413.8 254.3,412.86 253.8,414.98 253.3,412.1 252.8,413.2 252.3,412.73 251.8,414.45 251.3,416.05 250.8,412.65 250.3,413.59 249.8,414.63 249.3,414.51 248.8,417.16 248.3,413.39 247.8,414.56 247.3,415.13 246.8,412.59 246.3,414.49 245.8,412.76 245.3,414.19 244.8,412.53 244.3,413.1 243.8,421.4 243.3,412.22 242.8,413.18 242.3,413.57 241.8,412.84 241.3,413.03 240.8,412.22 240.3,414.75 239.8,412.51 239.3,413.99 238.8,416.64 238.3,416.61 237.8,414.54 237.3,413.74 236.8,413.31 236.3,414.31 235.8,419.63 235.3,414.67 234.8,413.13 234.3,416.05 233.8,416.66 233.3,414.93 232.8,415.6 232.3,413.4 231.8,412.18 231.3,415.71 230.8,415.47 230.3,415.29 229.8,422.78 229.3,417.03 228.8,412.82 228.3,413.88 227.8,413.73 227.3,414.24 226.8,416.64 226.3,420.38 225.8,419.23 225.3,413.46 224.8,412.54 224.3,414.56 223.8,414.27 223.3,418.83 222.8,415.61 222.3,414.61 221.8,414.62 221.3,417.42 220.8,413 220.3,406.88 219.8,412.18 219.3,404.26 218.8,398.9 218.3,396.15 217.8,397.04 217.3,393.62 216.8,392.18 216.3,389.06 215.8,388.14 215.3,383.77 214.8,385.78 214.3,381.32 213.8,383.32 213.3,383.08 212.8,381.63 212.3,375.19 211.8,373.85 211.3,374.61 210.8,377.52 210.3,377.47 209.8,379.19 209.3,375.18 208.8,373.71 208.3,374.8 207.8,377.72 207.3,376.65 206.8,377.27 206.3,378.69 205.8,385.94 205.3,381.96 204.8,384.76 204.3,388.8 203.8,390.29 203.3,393.4 202.8,394.01 202.3,397.55 201.8,397.15 201.3,398.63 200.8,401.27 200.3,403.61 199.8,410.48 199.3,410.27 198.8,414.63 198.3,415.22 197.8,422.64 197.3,419.42 196.8,423.75 196.3,430.81 195.8,433.13 195.3,428.84 194.8,432.28 194.3,433.81 193.8,437.11 193.3,439.91 192.8,441.43 192.3,442.09 191.8,444.85 191.3,448.55 190.8,446.68 190.3,452.35 189.8,450.84 189.3,454.64 188.8,456.48 188.3,456 187.8,456.53 187.3,460.14 186.8,455.43 186.3,458.69 185.8,453.86 185.3,456.95 184.8,458.25 184.3,455.39 183.8,459.09 183.3,454.15 182.8,456.84 182.3,453.65 181.8,452.75 181.3,453.85 180.8,449.9 180.3,450.31 179.8,449.69 179.3,452.32 178.8,447.5 178.3,447.83 177.8,442.33 177.3,440.32 176.8,437.51 176.3,437 175.8,435.67 175.3,435.29 174.8,432.05 174.3,426.51 173.8,429.35 173.3,426.71 172.8,418.9 172.3,418.94 171.8,415.65 171.3,414.63 170.8,419.15 170.3,412.12 169.8,413.52 169.3,415.32 168.8,413.68 168.3,413.77 167.8,413.2 167.3,419.45 166.8,414.91 166.3,414.29 165.8,414.16 165.3,417.43 164.8,414.8 164.3,412.74 163.8,416.45 163.3,414.54 162.8,413.46 162.3,416.17 161.8,413.11 161.3,412.89 160.8,413.96 160.3,417.86 159.8,419.49 159.3,415.28 158.8,412.94 158.3,412.61 157.8,413.1 157.3,417.84 156.8,413.79 156.3,415.2 155.8,414.34 155.3,413.72 154.8,414.77 154.3,412.79 153.8,413.35 153.3,416.01 152.8,415.49 152.3,412.73 151.8,416.76 151.3,412.43 150.8,413.44 150.3,413.33 149.8,415.27 149.3,417.38 148.8,413.92 148.3,413.6 147.8,413.52 147.3,414 146.8,414.29 146.3,417.16 145.8,417.39 145.3,415.39 144.8,415.75 144.3,412.84 143.8,414.48 143.3,412.57 142.8,413.34 142.3,414.76 141.8,416.28 141.3,413.64 140.8,418.83 140.3,413.74 139.8,418.86 139.3,417.64 138.8,416.59 138.3,414.31 137.8,418.07 137.3,413.88 136.8,415.28 136.3,412.34 135.8,414.06 135.3,413.77 134.8,416.07 134.3,417.64 133.8,419.38 133.3,413.95 132.8,416.16 132.3,416.54 131.8,417.66 131.3,412.37 130.8,414.56 130.3,413.18 129.8,417.3 129.3,412.85 128.8,413.5 128.3,413.15 127.8,414.67 127.3,415.15 126.8,414.95 126.3,412.72 125.8,416.11 125.3,418.28 124.8,415.03 124.3,415.37 123.8,417.86 123.3,412.39 122.8,414.07 122.3,412.89 121.8,413.52 121.3,414.17 120.8,414.36 120.3,420.39 119.8,415.68 119.3,415.76 118.8,417.96 118.3,415.88 117.8,412.49 117.3,413.41 116.8,414.23 116.3,414.43 115.8,416.02 115.3,415.99 114.8,412.8 114.3,418.05 113.8,412.54 113.3,416.9 112.8,413.85 112.3,419.23 111.8,412.32 111.3,419.71 110.8,414.54 110.3,414.81 109.8,412.11 109.3,414.05 108.8,416.06 108.3,415.53 107.8,417.06 107.3,415.14 106.8,413.85 106.3,412.84 105.8,415.64 105.3,414.42 104.8,414.84 104.3,420.6 103.8,415.48 103.3,414.55 102.8,413.77 102.3,412.72 101.8,413.62 101.3,412.18 100.8,415.86 100.3,414.39 99.8,416.7 99.3,414.2 98.8,417.17 98.3,411.69 97.8,408.15 97.3,409.98 96.8,401.57 96.3,398.7 95.8,397.27 95.3,396.06 94.8,400.03 94.3,389.45 93.8,387.97 93.3,386.21 92.8,385.53 92.3,385.32 91.8,382.81 91.3,381.23 90.8,381.26 90.3,377.2 89.8,375.11 89.3,379.72 88.8,374.09 88.3,372.79 87.8,373.64 87.3,376.42 86.8,376.35 86.3,372.99 85.8,381.56 85.3,378.9 84.8,376.01 84.3,380.14 83.8,381.3 83.3,380.8 82.8,382.65 82.3,385.45 81.8,387.69 81.3,397.26 80.8,390.52 80.3,395.65 79.8,397.41 79.3,401.28 78.8,401.95 78.3,402.94 77.8,405.7 77.3,410.19 76.8,409.27 76.3,414.89 75.8,414.47 75.3,419.83 74.8,422.48 74.3,430.58 73.8,424.51 73.3,430.54 72.8,434.74 72.3,433.57 71.8,434.73 71.3,435.82 70.8,444.37 70.3,441.76 69.8,445.35 69.3,447.12 68.8,447.09 68.3,447.95 67.8,450.75 67.3,451.8 66.8,454.02 66.3,451.16 65.8,452.5 65.3,454.59 64.8,459.43 64.3,457.57 63.8,455.69 63.3,453.8 62.8,458.93 62.3,453.26 61.8,453.27 61.3,457.85 60.8,454.7 60.3,454.05 59.8,453.06 59.3,455.16 58.8,454.61 58.3,451.47 57.8,450.2 57.3,447.84 56.8,449.1 56.3,445.26 55.8,443.85 55.3,445.68 54.8,440.62 54.3,440.03 53.8,439.11 53.3,437.32 52.8,431.27 52.3,431.34 51.8,431.27 51.3,429.75 50.8,425.9 50.3,422.11 49.8,421.93 49.3,413.97 48.8,416.71 48.3,412.27 47.8,413.84 47.3,423.2 46.8,414.35 46.3,415.29 45.8,415.75 45.3,417.88 44.8,415.14 44.3,413.98 43.8,415.64 43.3,412.37 42.8,414.46 42.3,412.4 41.8,416.4 41.3,413.33 40.8,415.08 40.3,413.31 39.8,414.14 39.3,417.87" fill="#d2d2d2"/>
<polyline points="39.3,408.2 39.71,407.2 40.12,412.06 40.53,410.14 40.93,409.1 41.34,406.15 41.75,410.14 42.16,407.15 42.57,408.65 42.98,405.07 43.38,408.29 43.79,412.16 44.2,409.5 44.61,408.43 45.02,406.4 45.43,407.61 45.83,409.5 46.24,411.47 46.65,408.87 47.06,409.18 47.47,406.27 47.88,407.07 48.28,411.74 48.69,413.58 49.1,409.76 49.51,408.39 49.92,410.88 50.33,409.97 50.73,406.55 51.14,409.39 51.55,416.43 51.96,414.36 52.37,416.81 52.78,419.58 53.18,420.07 53.59,422.02 54,420.15 54.41,426.59 54.82,430.38 55.23,431.73 55.63,431.04 56.04,430.29 56.45,434.57 56.86,436.27 57.27,438.29 57.68,441.12 58.08,441.39 58.49,445.21 58.9,442.41 59.31,444.01 59.72,445.55 60.13,448.5 60.53,448.06 60.94,449.34 61.35,448.13 61.76,449.77 62.17,448.8 62.58,447.9 62.98,447.34 63.39,451.97 63.8,450.49 64.21,451.82 64.62,446.81 65.03,450.62 65.43,445.69 65.84,448.78 66.25,444.99 66.66,447.32 67.07,445.76 67.48,444.04 67.88,443 68.29,442.28 68.7,439.35 69.11,436.92 69.52,436.14 69.93,437.31 70.33,438.46 70.74,432.85 71.15,437.04 71.56,428.2 71.97,426.46 72.38,428.26 72.78,422.71 73.19,423.22 73.6,417.34 74.01,419.38 74.42,417.45 74.83,415.01 75.23,411.12 75.64,411.58 76.05,402.86 76.46,406.04 76.87,399.68 77.28,401.7 77.68,399.7 78.09,398.46 78.5,396.57 78.91,392.2 79.32,388.75 79.73,389.07 80.13,389.26 80.54,385.27 80.95,385.58 81.36,387.74 81.77,380.54 82.18,382.8 82.58,379.15 82.99,376.44 83.4,376.1 83.81,374.66 84.22,369.96 84.63,370.17 85.03,368.17 85.44,370.01 85.85,369.3 86.26,365.64 86.67,369.97 87.08,367.68 87.48,367.83 87.89,367.36 88.3,366.71 88.71,367.73 89.12,366.52 89.53,370.13 89.93,367.82 90.34,371.4 90.75,367.75 91.16,368.65 91.57,371.84 91.98,373.34 92.38,373.38 92.79,373.31 93.2,378.62 93.61,378.88 94.02,376.35 94.43,380.09 94.83,383.75 95.24,387.21 95.65,385.31 96.06,389.65 96.47,387.67 96.88,389.92 97.28,387.97 97.69,396.08 98.1,394.28 98.51,399.95 98.92,401.66 99.33,402.08 99.73,405.43 100.14,402.2 100.55,408.05 100.96,410.45 101.37,404.34 101.78,410.54 102.18,409.71 102.59,409.38 103,410.51 103.41,407.76 103.82,406.59 104.23,411.54 104.63,409.94 105.04,409.73 105.45,411.77 105.86,411.61 106.27,409.72 106.68,410.78 107.08,408.37 107.49,407.36 107.9,408.62 108.31,408.43 108.72,410.83 109.13,410.19 109.53,408.22 109.94,407.86 110.35,409.18 110.76,407.92 111.17,409.5 111.58,411.32 111.98,408.39 112.39,409.85 112.8,412.39 113.21,407.34 113.62,408.25 114.03,407.56 114.43,409.94 114.84,406.07 115.25,408.06 115.66,407.07 116.07,410.3 116.48,409.63 116.88,406.47 117.29,409.06 117.7,408.96 118.11,406.06 118.52,406.72 118.93,408.55 119.33,405.23 119.74,411.94 120.15,409.13 120.56,410.09 120.97,406.09 121.38,405.88 121.78,409.95 122.19,408.71 122.6,407.14 123.01,407.96 123.42,408.47 123.83,407.02 124.23,405.15 124.64,408.75 125.05,411.16 125.46,409.2 125.87,409.06 126.28,409.73 126.68,407.6 127.09,407.54 127.5,407.2 127.91,408.04 128.32,408.46 128.73,410.99 129.13,409.65 129.54,410.67 129.95,408.35 130.36,409.21 130.77,409.05 131.18,407.94 131.58,409.55 131.99,406.88 132.4,406.92 132.81,410.82 133.22,406.41 133.63,409.64 134.03,410.39 134.44,409.59 134.85,411.46 135.26,408.31 135.67,406.62 136.08,411.94 136.48,408.14 136.89,407.84 137.3,407.69 137.71,407.72 138.12,408.12 138.53,409.88 138.93,407.23 139.34,408.32 139.75,407.42 140.16,408.37 140.57,409.48 140.98,409.06 141.38,407.79 141.79,406.94 142.2,412.7 142.61,411.47 143.02,412.16 143.43,410.01 143.83,410.28 144.24,408.59 144.65,409.57 145.06,406.38 145.47,410.18 145.88,410.37 146.28,410.58 146.69,409.57 147.1,408.67 147.51,409.93 147.92,410.79 148.33,411.65 148.73,408.63 149.14,410.06 149.55,410.91 149.96,409.51 150.37,408.34 150.78,405 151.18,405.82 151.59,410.72 152,409.87 152.41,412.8 152.82,412.82 153.23,412.6 153.63,407.22 154.04,409.29 154.45,411.86 154.86,410.31 155.27,409.98 155.68,410.29 156.08,406.14 156.49,412.77 156.9,409.89 157.31,408.52 157.72,408.07 158.13,413.25 158.53,408.64 158.94,411.46 159.35,410.13 159.76,412.11 160.17,407.5 160.58,402.93 160.98,407.03 161.39,409.58 161.8,412.43 162.21,407.3 162.62,406.66 163.03,411.15 163.43,407.16 163.84,412.5 164.25,411.49 164.66,408.71 165.07,411.72 165.48,407.52 165.88,406.21 166.29,408.87 166.7,408.03 167.11,405.86 167.52,407.97 167.93,406.43 168.33,406.17 168.74,411.02 169.15,404.69 169.56,406.65 169.97,408.66 170.38,407.34 170.78,408.32 171.19,408.49 171.6,410.89 172.01,409.72 172.42,409.58 172.83,406.81 173.23,408 173.64,410.07 174.05,413.18 174.46,412.58 174.87,421.9 175.28,420.94 175.68,419.34 176.09,423.99 176.5,423.88 176.91,423.95 177.32,427.34 177.73,433.59 178.13,432.91 178.54,436.41 178.95,434.86 179.36,435.32 179.77,439.28 180.18,439.22 180.58,441.92 180.99,439.02 181.4,443.65 181.81,444.51 182.22,444.81 182.63,444.71 183.03,446.17 183.44,448.24 183.85,448.62 184.26,448.19 184.67,448.37 185.08,450.49 185.48,451.01 185.89,450.36 186.3,448.91 186.71,450.48 187.12,451.42 187.53,449.55 187.93,449.34 188.34,446.58 188.75,448.04 189.16,447.01 189.57,441.65 189.98,443.41 190.38,444.97 190.79,439.63 191.2,441.39 191.61,440.89 192.02,436.6 192.43,439.08 192.83,434.86 193.24,431.97 193.65,429.88 194.06,430.57 194.47,428.67 194.88,425.97 195.28,421.51 195.69,425.38 196.1,418.28 196.51,417.25 196.92,413.1 197.33,415.86 197.73,409.34 198.14,411.17 198.55,406.79 198.96,406.04 199.37,407.96 199.78,401.22 200.18,398.29 200.59,395.35 201,396.25 201.41,395.33 201.82,389.77 202.23,389.96 202.63,385.41 203.04,382.91 203.45,384.43 203.86,382.67 204.27,382.17 204.68,383.22 205.08,377.87 205.49,375.11 205.9,373.21 206.31,374.15 206.72,369.44 207.13,373.09 207.53,371.23 207.94,371.47 208.35,370.59 208.76,369.7 209.17,370.03 209.58,369.14 209.98,367.52 210.39,367.7 210.8,369.91 211.21,366.96 211.62,369.71 212.03,367.51 212.43,368.65 212.84,373.02 213.25,371.9 213.66,368.73 214.07,372.64 214.48,373.56 214.88,374.13 215.29,374.15 215.7,374.43 216.11,377.4 216.52,374.89 216.93,380.72 217.33,382.03 217.74,383.07 218.15,384.04 218.56,383.23 218.97,383.28 219.38,390.36 219.78,391.91 220.19,392.27 220.6,395.71 221.01,395.8 221.42,401.59 221.83,399.91 222.23,407.92 222.64,404.73 223.05,406.55 223.46,404.01 223.87,410.65 224.28,407.51 224.68,407.6 225.09,410.71 225.5,408.37 225.91,410.52 226.32,411.15 226.73,411.83 227.13,409.3 227.54,410.94 227.95,412.94 228.36,408.32 228.77,412.24 229.18,407.52 229.58,408.4 229.99,410.5 230.4,412 230.81,410.67 231.22,411.54 231.63,409.63 232.03,409.61 232.44,404.02 232.85,413.01 233.26,410.06 233.67,407.79 234.08,406.86 234.48,406.25 234.89,410.83 235.3,407.31 235.71,414.59 236.12,409.34 236.53,407.21 236.93,407.49 237.34,411.69 237.75,410.54 238.16,413.17 238.57,410.38 238.98,411.63 239.38,408.36 239.79,410.41 240.2,407.71 240.61,409.13 241.02,409.57 241.43,405.4 241.83,406.59 242.24,411.53 242.65,406.16 243.06,407.39 243.47,406.27 243.88,408.01 244.28,412.48 244.69,409.65 245.1,413.75 245.51,411.69 245.92,410.3 246.33,406.38 246.73,408.83 247.14,408.48 247.55,407.44 247.96,410.71 248.37,406.71 248.78,408.47 249.18,410.83 249.59,410.05 250,409.4 250.41,407.7 250.82,406.07 251.23,409.53 251.63,409.36 252.04,405.32 252.45,402.53 252.86,405.31 253.27,408.53 253.68,409.63 254.08,407.55 254.49,408.3 254.9,410.5 255.31,406.19 255.72,403.84 256.13,410.6 256.53,410.49 256.94,409.93 257.35,411.44 257.76,407.28 258.17,411.79 258.58,407.58 258.98,408.12 259.39,407.41 259.8,411.88 260.21,408.62 260.62,408.36 261.03,407.14 261.43,408.16 261.84,410.08 262.25,406.62 262.66,406.13 263.07,406.19 263.48,410.41 263.88,407.85 264.29,410.75 264.7,409.25 265.11,407.39 265.52,411.79 265.93,403.32 266.33,406.44 266.74,410.45 267.15,410.06 267.56,409.06 267.97,409.19 268.38,411.35 268.78,409.18 269.19,412.03 269.6,410.16 270.01,405.3 270.42,409.04 270.83,409.69 271.23,405.74 271.64,408.27 272.05,407.65 272.46,410.06 272.87,406.7 273.28,409.57 273.68,407.14 274.09,407.61 274.5,405.42 274.91,406.9 275.32,408.94 275.73,411.05 276.13,409.52 276.54,410.31 276.95,405.81 277.36,409.81 277.77,413.55 278.18,408.13 278.58,407.26 278.99,410.77 279.4,407.46 279.81,411.59 280.22,408.41 280.63,409.23 281.03,408.28 281.44,408.05 281.85,410.27 282.26,407.27 282.67,409.93 283.08,408.67 283.48,406.03 283.89,410.78 284.3,408.76 284.71,405.66 285.12,406.35 285.53,410.29 285.93,410.17 286.34,407.8 286.75,410.24 287.16,408.76 287.57,411.69 287.98,407.62 288.38,412.18 288.79,408.64 289.2,407.49 289.61,410.27 290.02,412.11 290.43,411.5 290.83,412.81 291.24,405.27 291.65,412.83 292.06,411.54 292.47,408.24 292.88,408.81 293.28,406.82 293.69,406.23 294.1,408 294.51,409.04 294.92,410.06 295.33,409.29 295.73,406.98 296.14,409.6 296.55,411.67 296.96,418.46 297.37,418.67 297.78,420.56 298.18,422.29 298.59,425.34 299,423.73 299.41,424.87 299.82,425.18 300.23,431.78 300.63,432.67 301.04,433.96 301.45,435.79 301.86,439.05 302.27,437.18 302.68,444.34 303.08,442.51 303.49,446.66 303.9,442.62 304.31,447.8 304.72,448.27 305.13,446.79 305.53,449.66 305.94,447.67 306.35,449.53 306.76,445.16 307.17,452.02 307.58,451.43 307.98,448.72 308.39,449.66 308.8,448.9 309.21,450.21 309.62,447.37 310.03,448.19 310.43,445.68 310.84,450.55 311.25,446.53 311.66,446.68 312.07,444.48 312.48,446.22 312.88,441.51 313.29,444.71 313.7,438.87 314.11,438.19 314.52,441.56 314.93,435.52 315.33,438.72 315.74,431.91 316.15,434.63 316.56,429.69 316.97,428.26 317.38,429.15 317.78,427.68 318.19,420.87 318.6,420.87 319.01,415.61 319.42,415.87 319.83,408.03 320.23,411.23 320.64,405.86 321.05,406.66 321.46,405.11 321.87,402.08 322.28,402.66 322.68,400.38 323.09,393.62 323.5,395.42 323.91,395.42 324.32,390.09 324.73,390.98 325.13,387.28 325.54,383.34 325.95,381.31 326.36,378.58 326.77,378.34 327.18,377.9 327.58,376.71 327.99,375.88 328.4,375.32 328.81,369.4 329.22,373.16 329.63,368.59 330.03,371.39 330.44,367.87 330.85,375.54 331.26,368.8 331.67,369.92 332.08,365.03 332.48,364.92 332.89,369.15 333.3,367.97 333.71,365.97 334.12,367.42 334.53,368.12 334.93,366.7 335.34,371.89 335.75,366.47 336.16,369.56 336.57,377.21 336.98,374.06 337.38,373.33 337.79,369.58 338.2,375.45 338.61,379.79 339.02,375.24 339.43,378.66 339.83,380.99 340.24,380.4 340.65,385.01 341.06,386.16 341.47,385.64 341.88,388.62 342.28,389.41 342.69,394.09 343.1,391.84 343.51,400.23 343.92,402.16 344.33,400.36 344.73,404.1 345.14,405.14 345.55,407.58 345.96,408.98 346.37,410.85 346.78,408.03 347.18,405.97 347.59,410.38 348,404.77 348.41,405.43 348.82,410.39 349.23,406.99 349.63,410.9 350.04,408.9 350.45,410.89 350.86,409.74 351.27,412.45 351.68,408.96 352.08,410.79 352.49,410.48 352.9,412.69 353.31,408.56 353.72,404.74 354.13,409.39 354.53,408.95 354.94,410.98 355.35,409.61 355.76,410.4 356.17,411.85 356.58,410.48 356.98,409.71 357.39,408.01 357.8,409.35 358.21,408.08 358.62,406 359.03,406.76 359.43,409.53 359.84,412.3 360.25,409.06 360.66,408.5 361.07,406.63 361.48,408.39 361.88,402.96 362.29,409.34 362.7,407.33 363.11,410.56 363.52,410.75 363.93,409.3 364.33,408.27 364.74,407.28 365.15,415.16 365.56,406.39 365.97,405.63 366.38,405.92 366.78,406.96 367.19,408.96 367.6,407.56 368.01,406.06 368.42,410.7 368.83,407.34 369.23,407.68 369.64,409 370.05,405.04 370.46,410.15 370.87,410.73 371.28,408.82 371.68,410.01 372.09,405.98 372.5,412.14 372.91,411.42 373.32,408.09 373.73,407.2 374.13,411.17 374.54,406.07 374.95,412.67 375.36,406.63 375.77,410.57 376.18,409.72 376.58,405.06 376.99,408.88 377.4,410.08 377.81,408.27 378.22,404.89 378.63,408.62 379.03,410.34 379.44,408.34 379.85,411.31 380.26,410.18 380.67,409.94 381.08,407.45 381.48,409.78 381.89,407.79 382.3,406.42 382.71,405.55 383.12,412.24 383.53,408.89" fill="none" stroke="#9c0808" stroke-width="1" stroke-linejoin="round"/>
<polyline points="39.3,408.9 39.79,408.9 40.28,408.9 40.77,408.9 41.26,408.9 41.75,408.9 42.24,408.9 42.73,408.9 43.22,408.9 43.71,408.9 44.2,408.9 44.69,408.9 45.18,408.9 45.67,408.9 46.16,408.9 46.65,408.9 47.14,408.9 47.63,408.9 48.12,408.9 48.61,408.9 49.1,408.9 49.59,408.9 50.08,408.9 50.57,411.42 51.06,413.94 51.55,416.43 52.04,418.9 52.53,421.33 53.02,423.71 53.51,426.04 54,428.3 54.49,430.48 54.98,432.59 55.47,434.6 55.96,436.52 56.45,438.33 56.94,440.04 57.43,441.62 57.92,443.08 58.41,444.41 58.9,445.6 59.39,446.66 59.88,447.57 60.37,448.33 60.86,448.95 61.35,449.41 61.84,449.73 62.33,449.88 62.82,449.88 63.31,449.73 63.8,449.41 64.29,448.95 64.78,448.33 65.27,447.57 65.76,446.66 66.25,445.6 66.74,444.41 67.23,443.08 67.72,441.62 68.21,440.04 68.7,438.33 69.19,436.52 69.68,434.6 70.17,432.59 70.66,430.48 71.15,428.3 71.64,426.04 72.13,423.71 72.62,421.33 73.11,418.9 73.6,416.43 74.09,413.94 74.58,411.42 75.07,408.9 75.56,406.38 76.05,403.86 76.54,401.37 77.03,398.9 77.52,396.47 78.01,394.09 78.5,391.76 78.99,389.5 79.48,387.32 79.97,385.21 80.46,383.2 80.95,381.28 81.44,379.47 81.93,377.76 82.42,376.18 82.91,374.72 83.4,373.39 83.89,372.2 84.38,371.14 84.87,370.23 85.36,369.47 85.85,368.85 86.34,368.39 86.83,368.07 87.32,367.92 87.81,367.92 88.3,368.07 88.79,368.39 89.28,368.85 89.77,369.47 90.26,370.23 90.75,371.14 91.24,372.2 91.73,373.39 92.22,374.72 92.71,376.18 93.2,377.76 93.69,379.47 94.18,381.28 94.67,383.2 95.16,385.21 95.65,387.32 96.14,389.5 96.63,391.76 97.12,394.09 97.61,396.47 98.1,398.9 98.59,401.37 99.08,403.86 99.57,406.38 100.06,408.9 100.55,408.9 101.04,408.9 101.53,408.9 102.02,408.9 102.51,408.9 103,408.9 103.49,408.9 103.98,408.9 104.47,408.9 104.96,408.9 105.45,408.9 105.94,408.9 106.43,408.9 106.92,408.9 107.41,408.9 107.9,408.9 108.39,408.9 108.88,408.9 109.37,408.9 109.86,408.9 110.35,408.9 110.84,408.9 111.33,408.9 111.82,408.9 112.31,408.9 112.8,408.9 113.29,408.9 113.78,408.9 114.27,408.9 114.76,408.9 115.25,408.9 115.74,408.9 116.23,408.9 116.72,408.9 117.21,408.9 117.7,408.9 118.19,408.9 118.68,408.9 119.17,408.9 119.66,408.9 120.15,408.9 120.64,408.9 121.13,408.9 121.62,408.9 122.11,408.9 122.6,408.9 123.09,408.9 123.58,408.9 124.07,408.9 124.56,408.9 125.05,408.9 125.54,408.9 126.03,408.9 126.52,408.9 127.01,408.9 127.5,408.9 127.99,408.9 128.48,408.9 128.97,408.9 129.46,408.9 129.95,408.9 130.44,408.9 130.93,408.9 131.42,408.9 131.91,408.9 132.4,408.9 132.89,408.9 133.38,408.9 133.87,408.9 134.36,408.9 134.85,408.9 135.34,408.9 135.83,408.9 136.32,408.9 136.81,408.9 137.3,408.9 137.79,408.9 138.28,408.9 138.77,408.9 139.26,408.9 139.75,408.9 140.24,408.9 140.73,408.9 141.22,408.9 141.71,408.9 142.2,408.9 142.69,408.9 143.18,408.9 143.67,408.9 144.16,408.9 144.65,408.9 145.14,408.9 145.63,408.9 146.12,408.9 146.61,408.9 147.1,408.9 147.59,408.9 148.08,408.9 148.57,408.9 149.06,408.9 149.55,408.9 150.04,408.9 150.53,408.9 151.02,408.9 151.51,408.9 152,408.9 152.49,408.9 152.98,408.9 153.47,408.9 153.96,408.9 154.45,408.9 154.94,408.9 155.43,408.9 155.92,408.9 156.41,408.9 156.9,408.9 157.39,408.9 157.88,408.9 158.37,408.9 158.86,408.9 159.35,408.9 159.84,408.9 160.33,408.9 160.82,408.9 161.31,408.9 161.8,408.9 162.29,408.9 162.78,408.9 163.27,408.9 163.76,408.9 164.25,408.9 164.74,408.9 165.23,408.9 165.72,408.9 166.21,408.9 166.7,408.9 167.19,408.9 167.68,408.9 168.17,408.9 168.66,408.9 169.15,408.9 169.64,408.9 170.13,408.9 170.62,408.9 171.11,408.9 171.6,408.9 172.09,408.9 172.58,408.9 173.07,411.42 173.56,413.94 174.05,416.43 174.54,418.9 175.03,421.33 175.52,423.71 176.01,426.04 176.5,428.3 176.99,430.48 177.48,432.59 177.97,434.6 178.46,436.52 178.95,438.33 179.44,440.04 179.93,441.62 180.42,443.08 180.91,444.41 181.4,445.6 181.89,446.66 182.38,447.57 182.87,448.33 183.36,448.95 183.85,449.41 184.34,449.73 184.83,449.88 185.32,449.88 185.81,449.73 186.3,449.41 186.79,448.95 187.28,448.33 187.77,447.57 188.26,446.66 188.75,445.6 189.24,444.41 189.73,443.08 190.22,441.62 190.71,440.04 191.2,438.33 191.69,436.52 192.18,434.6 192.67,432.59 193.16,430.48 193.65,428.3 194.14,426.04 194.63,423.71 195.12,421.33 195.61,418.9 196.1,416.43 196.59,413.94 197.08,411.42 197.57,408.9 198.06,406.38 198.55,403.86 199.04,401.37 199.53,398.9 200.02,396.47 200.51,394.09 201,391.76 201.49,389.5 201.98,387.32 202.47,385.21 202.96,383.2 203.45,381.28 203.94,379.47 204.43,377.76 204.92,376.18 205.41,374.72 205.9,373.39 206.39,372.2 206.88,371.14 207.37,370.23 207.86,369.47 208.35,368.85 208.84,368.39 209.33,368.07 209.82,367.92 210.31,367.92 210.8,368.07 211.29,368.39 211.78,368.85 212.27,369.47 212.76,370.23 213.25,371.14 213.74,372.2 214.23,373.39 214.72,374.72 215.21,376.18 215.7,377.76 216.19,379.47 216.68,381.28 217.17,383.2 217.66,385.21 218.15,387.32 218.64,389.5 219.13,391.76 219.62,394.09 220.11,396.47 220.6,398.9 221.09,401.37 221.58,403.86 222.07,406.38 222.56,408.9 223.05,408.9 223.54,408.9 224.03,408.9 224.52,408.9 225.01,408.9 225.5,408.9 225.99,408.9 226.48,408.9 226.97,408.9 227.46,408.9 227.95,408.9 228.44,408.9 228.93,408.9 229.42,408.9 229.91,408.9 230.4,408.9 230.89,408.9 231.38,408.9 231.87,408.9 232.36,408.9 232.85,408.9 233.34,408.9 233.83,408.9 234.32,408.9 234.81,408.9 235.3,408.9 235.79,408.9 236.28,408.9 236.77,408.9 237.26,408.9 237.75,408.9 238.24,408.9 238.73,408.9 239.22,408.9 239.71,408.9 240.2,408.9 240.69,408.9 241.18,408.9 241.67,408.9 242.16,408.9 242.65,408.9 243.14,408.9 243.63,408.9 244.12,408.9 244.61,408.9 245.1,408.9 245.59,408.9 246.08,408.9 246.57,408.9 247.06,408.9 247.55,408.9 248.04,408.9 248.53,408.9 249.02,408.9 249.51,408.9 250,408.9 250.49,408.9 250.98,408.9 251.47,408.9 251.96,408.9 252.45,408.9 252.94,408.9 253.43,408.9 253.92,408.9 254.41,408.9 254.9,408.9 255.39,408.9 255.88,408.9 256.37,408.9 256.86,408.9 257.35,408.9 257.84,408.9 258.33,408.9 258.82,408.9 259.31,408.9 259.8,408.9 260.29,408.9 260.78,408.9 261.27,408.9 261.76,408.9 262.25,408.9 262.74,408.9 263.23,408.9 263.72,408.9 264.21,408.9 264.7,408.9 265.19,408.9 265.68,408.9 266.17,408.9 266.66,408.9 267.15,408.9 267.64,408.9 268.13,408.9 268.62,408.9 269.11,408.9 269.6,408.9 270.09,408.9 270.58,408.9 271.07,408.9 271.56,408.9 272.05,408.9 272.54,408.9 273.03,408.9 273.52,408.9 274.01,408.9 274.5,408.9 274.99,408.9 275.48,408.9 275.97,408.9 276.46,408.9 276.95,408.9 277.44,408.9 277.93,408.9 278.42,408.9 278.91,408.9 279.4,408.9 279.89,408.9 280.38,408.9 280.87,408.9 281.36,408.9 281.85,408.9 282.34,408.9 282.83,408.9 283.32,408.9 283.81,408.9 284.3,408.9 284.79,408.9 285.28,408.9 285.77,408.9 286.26,408.9 286.75,408.9 287.24,408.9 287.73,408.9 288.22,408.9 288.71,408.9 289.2,408.9 289.69,408.9 290.18,408.9 290.67,408.9 291.16,408.9 291.65,408.9 292.14,408.9 292.63,408.9 293.12,408.9 293.61,408.9 294.1,408.9 294.59,408.9 295.08,408.9 295.57,411.42 296.06,413.94 296.55,416.43 297.04,418.9 297.53,421.33 298.02,423.71 298.51,426.04 299,428.3 299.49,430.48 299.98,432.59 300.47,434.6 300.96,436.52 301.45,438.33 301.94,440.04 302.43,441.62 302.92,443.08 303.41,444.41 303.9,445.6 304.39,446.66 304.88,447.57 305.37,448.33 305.86,448.95 306.35,449.41 306.84,449.73 307.33,449.88 307.82,449.88 308.31,449.73 308.8,449.41 309.29,448.95 309.78,448.33 310.27,447.57 310.76,446.66 311.25,445.6 311.74,444.41 312.23,443.08 312.72,441.62 313.21,440.04 313.7,438.33 314.19,436.52 314.68,434.6 315.17,432.59 315.66,430.48 316.15,428.3 316.64,426.04 317.13,423.71 317.62,421.33 318.11,418.9 318.6,416.43 319.09,413.94 319.58,411.42 320.07,408.9 320.56,406.38 321.05,403.86 321.54,401.37 322.03,398.9 322.52,396.47 323.01,394.09 323.5,391.76 323.99,389.5 324.48,387.32 324.97,385.21 325.46,383.2 325.95,381.28 326.44,379.47 326.93,377.76 327.42,376.18 327.91,374.72 328.4,373.39 328.89,372.2 329.38,371.14 329.87,370.23 330.36,369.47 330.85,368.85 331.34,368.39 331.83,368.07 332.32,367.92 332.81,367.92 333.3,368.07 333.79,368.39 334.28,368.85 334.77,369.47 335.26,370.23 335.75,371.14 336.24,372.2 336.73,373.39 337.22,374.72 337.71,376.18 338.2,377.76 338.69,379.47 339.18,381.28 339.67,383.2 340.16,385.21 340.65,387.32 341.14,389.5 341.63,391.76 342.12,394.09 342.61,396.47 343.1,398.9 343.59,401.37 344.08,403.86 344.57,406.38 345.06,408.9 345.55,408.9 346.04,408.9 346.53,408.9 347.02,408.9 347.51,408.9 348,408.9 348.49,408.9 348.98,408.9 349.47,408.9 349.96,408.9 350.45,408.9 350.94,408.9 351.43,408.9 351.92,408.9 352.41,408.9 352.9,408.9 353.39,408.9 353.88,408.9 354.37,408.9 354.86,408.9 355.35,408.9 355.84,408.9 356.33,408.9 356.82,408.9 357.31,408.9 357.8,408.9 358.29,408.9 358.78,408.9 359.27,408.9 359.76,408.9 360.25,408.9 360.74,408.9 361.23,408.9 361.72,408.9 362.21,408.9 362.7,408.9 363.19,408.9 363.68,408.9 364.17,408.9 364.66,408.9 365.15,408.9 365.64,408.9 366.13,408.9 366.62,408.9 367.11,408.9 367.6,408.9 368.09,408.9 368.58,408.9 369.07,408.9 369.56,408.9 370.05,408.9 370.54,408.9 371.03,408.9 371.52,408.9 372.01,408.9 372.5,408.9 372.99,408.9 373.48,408.9 373.97,408.9 374.46,408.9 374.95,408.9 375.44,408.9 375.93,408.9 376.42,408.9 376.91,408.9 377.4,408.9 377.89,408.9 378.38,408.9 378.87,408.9 379.36,408.9 379.85,408.9 380.34,408.9 380.83,408.9 381.32,408.9 381.81,408.9" fill="none" stroke="#1414f4" stroke-width="1.2" stroke-linejoin="round" stroke-opacity="0.85"/>
<line x1="39.3" y1="351.5" x2="39.3" y2="464.5" stroke="#7a7a7a" stroke-width="1"/>
<line x1="38.8" y1="464.5" x2="393.8" y2="464.5" stroke="#7a7a7a" stroke-width="1"/>
<line x1="39.3" y1="367.9" x2="42.9" y2="367.9" stroke="#7a7a7a" stroke-width="1"/>
<text x="35.2" y="370.5" font-size="8.2" fill="#333333" text-anchor="end" textLength="16.44" lengthAdjust="spacingAndGlyphs">0.05</text>
<line x1="39.3" y1="408.9" x2="42.9" y2="408.9" stroke="#7a7a7a" stroke-width="1"/>
<text x="35.2" y="411.5" font-size="8.2" fill="#333333" text-anchor="end" textLength="4.7" lengthAdjust="spacingAndGlyphs">0</text>
<line x1="39.3" y1="449.9" x2="42.9" y2="449.9" stroke="#7a7a7a" stroke-width="1"/>
<text x="35.2" y="452.5" font-size="8.2" fill="#333333" text-anchor="end" textLength="21.37" lengthAdjust="spacingAndGlyphs">−0.05</text>
<line x1="39.3" y1="464.5" x2="39.3" y2="460.9" stroke="#7a7a7a" stroke-width="1"/>
<text x="39.3" y="474.9" font-size="8.2" fill="#333333" text-anchor="middle" textLength="16.44" lengthAdjust="spacingAndGlyphs">0.20</text>
<line x1="88.3" y1="464.5" x2="88.3" y2="460.9" stroke="#7a7a7a" stroke-width="1"/>
<text x="88.3" y="474.9" font-size="8.2" fill="#333333" text-anchor="middle" textLength="16.44" lengthAdjust="spacingAndGlyphs">0.22</text>
<line x1="137.3" y1="464.5" x2="137.3" y2="460.9" stroke="#7a7a7a" stroke-width="1"/>
<text x="137.3" y="474.9" font-size="8.2" fill="#333333" text-anchor="middle" textLength="16.44" lengthAdjust="spacingAndGlyphs">0.24</text>
<line x1="186.3" y1="464.5" x2="186.3" y2="460.9" stroke="#7a7a7a" stroke-width="1"/>
<text x="186.3" y="474.9" font-size="8.2" fill="#333333" text-anchor="middle" textLength="16.44" lengthAdjust="spacingAndGlyphs">0.26</text>
<line x1="235.3" y1="464.5" x2="235.3" y2="460.9" stroke="#7a7a7a" stroke-width="1"/>
<text x="235.3" y="474.9" font-size="8.2" fill="#333333" text-anchor="middle" textLength="16.44" lengthAdjust="spacingAndGlyphs">0.28</text>
<line x1="284.3" y1="464.5" x2="284.3" y2="460.9" stroke="#7a7a7a" stroke-width="1"/>
<text x="284.3" y="474.9" font-size="8.2" fill="#333333" text-anchor="middle" textLength="16.44" lengthAdjust="spacingAndGlyphs">0.30</text>
<line x1="333.3" y1="464.5" x2="333.3" y2="460.9" stroke="#7a7a7a" stroke-width="1"/>
<text x="333.3" y="474.9" font-size="8.2" fill="#333333" text-anchor="middle" textLength="16.44" lengthAdjust="spacingAndGlyphs">0.32</text>
<line x1="382.3" y1="464.5" x2="382.3" y2="460.9" stroke="#7a7a7a" stroke-width="1"/>
<text x="382.3" y="474.9" font-size="8.2" fill="#333333" text-anchor="middle" textLength="16.44" lengthAdjust="spacingAndGlyphs">0.34</text>
<text x="216.7" y="488" font-size="8.9" fill="#2a2a2a" text-anchor="middle" textLength="32.6" lengthAdjust="spacingAndGlyphs">Time (s)</text>
<text x="7.4" y="408.3" font-size="8.9" fill="#2a2a2a" text-anchor="middle" textLength="53.4" lengthAdjust="spacingAndGlyphs" transform="rotate(-90 7.4 408.3)">Voltage (mV)</text>
<text x="413.3" y="162.2" font-size="12" fill="#000" text-anchor="start" textLength="8.21" lengthAdjust="spacingAndGlyphs" font-weight="bold" stroke="#000" stroke-width="0.35">d</text>
<rect x="459.1" y="222.8" width="16.8" height="52.27" fill="#b5c0e1"/>
<rect x="488.1" y="222.8" width="16.8" height="40.88" fill="#b5c0e1"/>
<rect x="517" y="222.8" width="16.8" height="24.32" fill="#b5c0e1"/>
<rect x="545.9" y="222.8" width="16.8" height="10.56" fill="#b5c0e1"/>
<rect x="574.8" y="212.66" width="16.8" height="10.14" fill="#b5c0e1"/>
<rect x="603.9" y="197.03" width="16.8" height="25.77" fill="#b5c0e1"/>
<rect x="632.9" y="181.61" width="16.8" height="41.19" fill="#b5c0e1"/>
<rect x="661.9" y="171.15" width="16.8" height="51.65" fill="#b5c0e1"/>
<path d="M467.5,271.65 V278.48 M466.1,271.65 h2.8 M466.1,278.48 h2.8" stroke="#111" stroke-width="0.9" fill="none"/>
<path d="M496.5,261.1 V266.27 M495.1,261.1 h2.8 M495.1,266.27 h2.8" stroke="#111" stroke-width="0.9" fill="none"/>
<path d="M525.4,244.22 V250.02 M524,244.22 h2.8 M524,250.02 h2.8" stroke="#111" stroke-width="0.9" fill="none"/>
<path d="M554.3,231.08 V235.63 M552.9,231.08 h2.8 M552.9,235.63 h2.8" stroke="#111" stroke-width="0.9" fill="none"/>
<path d="M583.2,209.76 V215.56 M581.8,209.76 h2.8 M581.8,215.56 h2.8" stroke="#111" stroke-width="0.9" fill="none"/>
<path d="M612.3,194.34 V199.72 M610.9,194.34 h2.8 M610.9,199.72 h2.8" stroke="#111" stroke-width="0.9" fill="none"/>
<path d="M641.3,179.12 V184.09 M639.9,179.12 h2.8 M639.9,184.09 h2.8" stroke="#111" stroke-width="0.9" fill="none"/>
<path d="M670.3,168.05 V174.26 M668.9,168.05 h2.8 M668.9,174.26 h2.8" stroke="#111" stroke-width="0.9" fill="none"/>
<line x1="453.5" y1="160.8" x2="453.5" y2="284.8" stroke="#7a7a7a" stroke-width="1"/>
<line x1="453" y1="284.8" x2="685" y2="284.8" stroke="#7a7a7a" stroke-width="1"/>
<line x1="453.5" y1="160.7" x2="456.9" y2="160.7" stroke="#7a7a7a" stroke-width="1"/>
<text x="449" y="163.3" font-size="8.2" fill="#333333" text-anchor="end" textLength="16.44" lengthAdjust="spacingAndGlyphs">0.06</text>
<line x1="453.5" y1="181.4" x2="456.9" y2="181.4" stroke="#7a7a7a" stroke-width="1"/>
<text x="449" y="184" font-size="8.2" fill="#333333" text-anchor="end" textLength="16.44" lengthAdjust="spacingAndGlyphs">0.04</text>
<line x1="453.5" y1="202.1" x2="456.9" y2="202.1" stroke="#7a7a7a" stroke-width="1"/>
<text x="449" y="204.7" font-size="8.2" fill="#333333" text-anchor="end" textLength="16.44" lengthAdjust="spacingAndGlyphs">0.02</text>
<line x1="453.5" y1="222.8" x2="456.9" y2="222.8" stroke="#7a7a7a" stroke-width="1"/>
<text x="449" y="225.4" font-size="8.2" fill="#333333" text-anchor="end" textLength="4.7" lengthAdjust="spacingAndGlyphs">0</text>
<line x1="453.5" y1="243.5" x2="456.9" y2="243.5" stroke="#7a7a7a" stroke-width="1"/>
<text x="449" y="246.1" font-size="8.2" fill="#333333" text-anchor="end" textLength="21.37" lengthAdjust="spacingAndGlyphs">−0.02</text>
<line x1="453.5" y1="264.2" x2="456.9" y2="264.2" stroke="#7a7a7a" stroke-width="1"/>
<text x="449" y="266.8" font-size="8.2" fill="#333333" text-anchor="end" textLength="21.37" lengthAdjust="spacingAndGlyphs">−0.04</text>
<line x1="453.5" y1="284.9" x2="456.9" y2="284.9" stroke="#7a7a7a" stroke-width="1"/>
<text x="449" y="287.5" font-size="8.2" fill="#333333" text-anchor="end" textLength="21.37" lengthAdjust="spacingAndGlyphs">−0.06</text>
<line x1="467.5" y1="284.8" x2="467.5" y2="281.4" stroke="#7a7a7a" stroke-width="1"/>
<text x="467.5" y="295.1" font-size="8.2" fill="#333333" text-anchor="middle" textLength="26.07" lengthAdjust="spacingAndGlyphs">−0.050</text>
<line x1="496.5" y1="284.8" x2="496.5" y2="281.4" stroke="#7a7a7a" stroke-width="1"/>
<text x="496.5" y="295.1" font-size="8.2" fill="#333333" text-anchor="middle" textLength="26.07" lengthAdjust="spacingAndGlyphs">−0.040</text>
<line x1="525.4" y1="284.8" x2="525.4" y2="281.4" stroke="#7a7a7a" stroke-width="1"/>
<text x="525.4" y="295.1" font-size="8.2" fill="#333333" text-anchor="middle" textLength="26.07" lengthAdjust="spacingAndGlyphs">−0.025</text>
<line x1="554.3" y1="284.8" x2="554.3" y2="281.4" stroke="#7a7a7a" stroke-width="1"/>
<text x="554.3" y="295.1" font-size="8.2" fill="#333333" text-anchor="middle" textLength="26.07" lengthAdjust="spacingAndGlyphs">−0.010</text>
<line x1="583.2" y1="284.8" x2="583.2" y2="281.4" stroke="#7a7a7a" stroke-width="1"/>
<text x="583.2" y="295.1" font-size="8.2" fill="#333333" text-anchor="middle" textLength="21.13" lengthAdjust="spacingAndGlyphs">0.010</text>
<line x1="612.3" y1="284.8" x2="612.3" y2="281.4" stroke="#7a7a7a" stroke-width="1"/>
<text x="612.3" y="295.1" font-size="8.2" fill="#333333" text-anchor="middle" textLength="21.13" lengthAdjust="spacingAndGlyphs">0.025</text>
<line x1="641.3" y1="284.8" x2="641.3" y2="281.4" stroke="#7a7a7a" stroke-width="1"/>
<text x="641.3" y="295.1" font-size="8.2" fill="#333333" text-anchor="middle" textLength="21.13" lengthAdjust="spacingAndGlyphs">0.040</text>
<line x1="670.3" y1="284.8" x2="670.3" y2="281.4" stroke="#7a7a7a" stroke-width="1"/>
<text x="670.3" y="295.1" font-size="8.2" fill="#333333" text-anchor="middle" textLength="21.13" lengthAdjust="spacingAndGlyphs">0.050</text>
<text x="567.8" y="307.3" font-size="8.9" fill="#2a2a2a" text-anchor="middle" textLength="85.8" lengthAdjust="spacingAndGlyphs">Applied voltage (mV)</text>
<text x="421.4" y="221" font-size="8.9" fill="#2a2a2a" text-anchor="middle" textLength="106.5" lengthAdjust="spacingAndGlyphs" transform="rotate(-90 421.4 221)">Measured amplitude (mV)</text>
<rect x="459.9" y="453.6" width="15.2" height="4.5" fill="#86a0da"/>
<path d="M467.5,447.5 V464 M465,447.5 h5 M465,464 h5" stroke="#86a0da" stroke-width="1.5" fill="none"/>
<circle cx="467.5" cy="443.6" r="1.3" fill="#86a0da"/>
<circle cx="467.5" cy="446.5" r="1.3" fill="#86a0da"/>
<circle cx="467.5" cy="462" r="1.3" fill="#86a0da"/>
<rect x="488.9" y="442.2" width="15.2" height="4.8" fill="#86a0da"/>
<path d="M496.5,436.9 V452.4 M494,436.9 h5 M494,452.4 h5" stroke="#86a0da" stroke-width="1.5" fill="none"/>
<rect x="517.8" y="426.3" width="15.2" height="4.4" fill="#86a0da"/>
<path d="M525.4,422.4 V435.8 M522.9,422.4 h5 M522.9,435.8 h5" stroke="#86a0da" stroke-width="1.5" fill="none"/>
<rect x="546.7" y="412.1" width="15.2" height="4.3" fill="#86a0da"/>
<path d="M554.3,408 V420.8 M551.8,408 h5 M551.8,420.8 h5" stroke="#86a0da" stroke-width="1.5" fill="none"/>
<circle cx="554.3" cy="405.4" r="1.3" fill="#86a0da"/>
<circle cx="554.3" cy="419.5" r="1.3" fill="#86a0da"/>
<rect x="575.6" y="391.1" width="15.2" height="4.3" fill="#86a0da"/>
<path d="M583.2,387.6 V398.3 M580.7,387.6 h5 M580.7,398.3 h5" stroke="#86a0da" stroke-width="1.5" fill="none"/>
<circle cx="583.2" cy="383.7" r="1.3" fill="#86a0da"/>
<rect x="604.7" y="375.2" width="15.2" height="4.7" fill="#86a0da"/>
<path d="M612.3,372.1 V384.3 M609.8,372.1 h5 M609.8,384.3 h5" stroke="#86a0da" stroke-width="1.5" fill="none"/>
<circle cx="612.3" cy="364.3" r="1.3" fill="#86a0da"/>
<rect x="633.7" y="360.3" width="15.2" height="4.7" fill="#86a0da"/>
<path d="M641.3,357.5 V368.6 M638.8,357.5 h5 M638.8,368.6 h5" stroke="#86a0da" stroke-width="1.5" fill="none"/>
<circle cx="641.3" cy="353.8" r="1.3" fill="#86a0da"/>
<rect x="662.7" y="348.9" width="15.2" height="5.4" fill="#86a0da"/>
<path d="M670.3,343.6 V357.5 M667.8,343.6 h5 M667.8,357.5 h5" stroke="#86a0da" stroke-width="1.5" fill="none"/>
<line x1="453.7" y1="341.4" x2="453.7" y2="465.3" stroke="#7a7a7a" stroke-width="1"/>
<line x1="453.2" y1="465.3" x2="685" y2="465.3" stroke="#7a7a7a" stroke-width="1"/>
<line x1="453.7" y1="341.4" x2="457.1" y2="341.4" stroke="#7a7a7a" stroke-width="1"/>
<text x="449" y="344" font-size="8.2" fill="#333333" text-anchor="end" textLength="16.44" lengthAdjust="spacingAndGlyphs">0.06</text>
<line x1="453.7" y1="362.1" x2="457.1" y2="362.1" stroke="#7a7a7a" stroke-width="1"/>
<text x="449" y="364.7" font-size="8.2" fill="#333333" text-anchor="end" textLength="16.44" lengthAdjust="spacingAndGlyphs">0.04</text>
<line x1="453.7" y1="382.8" x2="457.1" y2="382.8" stroke="#7a7a7a" stroke-width="1"/>
<text x="449" y="385.4" font-size="8.2" fill="#333333" text-anchor="end" textLength="16.44" lengthAdjust="spacingAndGlyphs">0.02</text>
<line x1="453.7" y1="403.5" x2="457.1" y2="403.5" stroke="#7a7a7a" stroke-width="1"/>
<text x="449" y="406.1" font-size="8.2" fill="#333333" text-anchor="end" textLength="4.7" lengthAdjust="spacingAndGlyphs">0</text>
<line x1="453.7" y1="424.2" x2="457.1" y2="424.2" stroke="#7a7a7a" stroke-width="1"/>
<text x="449" y="426.8" font-size="8.2" fill="#333333" text-anchor="end" textLength="21.37" lengthAdjust="spacingAndGlyphs">−0.02</text>
<line x1="453.7" y1="444.9" x2="457.1" y2="444.9" stroke="#7a7a7a" stroke-width="1"/>
<text x="449" y="447.5" font-size="8.2" fill="#333333" text-anchor="end" textLength="21.37" lengthAdjust="spacingAndGlyphs">−0.04</text>
<line x1="453.7" y1="465.6" x2="457.1" y2="465.6" stroke="#7a7a7a" stroke-width="1"/>
<text x="449" y="468.2" font-size="8.2" fill="#333333" text-anchor="end" textLength="21.37" lengthAdjust="spacingAndGlyphs">−0.06</text>
<line x1="467.5" y1="465.3" x2="467.5" y2="461.9" stroke="#7a7a7a" stroke-width="1"/>
<text x="467.5" y="475.6" font-size="8.2" fill="#333333" text-anchor="middle" textLength="26.07" lengthAdjust="spacingAndGlyphs">−0.050</text>
<line x1="496.5" y1="465.3" x2="496.5" y2="461.9" stroke="#7a7a7a" stroke-width="1"/>
<text x="496.5" y="475.6" font-size="8.2" fill="#333333" text-anchor="middle" textLength="26.07" lengthAdjust="spacingAndGlyphs">−0.040</text>
<line x1="525.4" y1="465.3" x2="525.4" y2="461.9" stroke="#7a7a7a" stroke-width="1"/>
<text x="525.4" y="475.6" font-size="8.2" fill="#333333" text-anchor="middle" textLength="26.07" lengthAdjust="spacingAndGlyphs">−0.025</text>
<line x1="554.3" y1="465.3" x2="554.3" y2="461.9" stroke="#7a7a7a" stroke-width="1"/>
<text x="554.3" y="475.6" font-size="8.2" fill="#333333" text-anchor="middle" textLength="26.07" lengthAdjust="spacingAndGlyphs">−0.010</text>
<line x1="583.2" y1="465.3" x2="583.2" y2="461.9" stroke="#7a7a7a" stroke-width="1"/>
<text x="583.2" y="475.6" font-size="8.2" fill="#333333" text-anchor="middle" textLength="21.13" lengthAdjust="spacingAndGlyphs">0.010</text>
<line x1="612.3" y1="465.3" x2="612.3" y2="461.9" stroke="#7a7a7a" stroke-width="1"/>
<text x="612.3" y="475.6" font-size="8.2" fill="#333333" text-anchor="middle" textLength="21.13" lengthAdjust="spacingAndGlyphs">0.025</text>
<line x1="641.3" y1="465.3" x2="641.3" y2="461.9" stroke="#7a7a7a" stroke-width="1"/>
<text x="641.3" y="475.6" font-size="8.2" fill="#333333" text-anchor="middle" textLength="21.13" lengthAdjust="spacingAndGlyphs">0.040</text>
<line x1="670.3" y1="465.3" x2="670.3" y2="461.9" stroke="#7a7a7a" stroke-width="1"/>
<text x="670.3" y="475.6" font-size="8.2" fill="#333333" text-anchor="middle" textLength="21.13" lengthAdjust="spacingAndGlyphs">0.050</text>
<text x="567.8" y="487.8" font-size="8.9" fill="#2a2a2a" text-anchor="middle" textLength="85.8" lengthAdjust="spacingAndGlyphs">Applied voltage (mV)</text>
<text x="421.4" y="403.3" font-size="8.9" fill="#2a2a2a" text-anchor="middle" textLength="106.5" lengthAdjust="spacingAndGlyphs" transform="rotate(-90 421.4 403.3)">Measured amplitude (mV)</text>
</svg>
</body></html>
